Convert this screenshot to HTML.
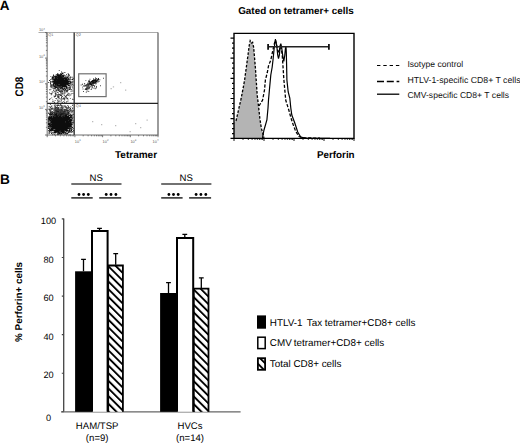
<!DOCTYPE html>
<html><head><meta charset="utf-8"><style>
html,body{margin:0;padding:0;background:#fff;width:520px;height:443px;overflow:hidden;font-family:"Liberation Sans",sans-serif;}
svg{display:block;text-rendering:geometricPrecision;}
.t{}
</style></head><body>
<svg width="520" height="443" viewBox="0 0 520 443"><text x="-0.3" y="9.6" font-family="Liberation Sans, sans-serif" font-weight="bold" font-size="13.5">A</text>
<defs><filter id="bl" x="-5%" y="-5%" width="110%" height="110%"><feGaussianBlur stdDeviation="0.35"/></filter></defs>
<g filter="url(#bl)"><path d="M60.8 83.1h.9v.9h-.9zM59.5 78.8h.9v.9h-.9zM58.7 78.4h.9v.9h-.9zM61.1 86.8h.9v.9h-.9zM58.5 79.8h.9v.9h-.9zM63.1 83.3h.9v.9h-.9zM61.3 78.7h.9v.9h-.9zM60.7 84.5h.9v.9h-.9zM54.5 80.4h.9v.9h-.9zM51.9 77.4h.9v.9h-.9zM52.1 81.2h.9v.9h-.9zM54.8 83.0h.9v.9h-.9zM61.5 81.3h.9v.9h-.9zM49.0 80.1h.9v.9h-.9zM60.6 82.4h.9v.9h-.9zM53.6 80.3h.9v.9h-.9zM56.2 79.1h.9v.9h-.9zM65.8 79.1h.9v.9h-.9zM60.6 85.2h.9v.9h-.9zM58.1 81.6h.9v.9h-.9zM61.3 82.2h.9v.9h-.9zM55.0 82.3h.9v.9h-.9zM67.2 76.4h.9v.9h-.9zM64.8 82.4h.9v.9h-.9zM57.8 89.2h.9v.9h-.9zM64.4 77.7h.9v.9h-.9zM61.2 84.1h.9v.9h-.9zM59.9 84.5h.9v.9h-.9zM60.5 84.4h.9v.9h-.9zM67.6 79.6h.9v.9h-.9zM61.8 80.3h.9v.9h-.9zM61.4 77.7h.9v.9h-.9zM58.1 81.3h.9v.9h-.9zM65.0 86.1h.9v.9h-.9zM54.6 79.1h.9v.9h-.9zM63.8 74.8h.9v.9h-.9zM58.6 81.6h.9v.9h-.9zM66.7 84.5h.9v.9h-.9zM59.3 80.7h.9v.9h-.9zM59.6 87.5h.9v.9h-.9zM58.8 80.9h.9v.9h-.9zM62.5 81.6h.9v.9h-.9zM59.9 78.0h.9v.9h-.9zM60.7 80.4h.9v.9h-.9zM66.3 84.4h.9v.9h-.9zM60.7 84.4h.9v.9h-.9zM59.2 85.8h.9v.9h-.9zM60.8 84.1h.9v.9h-.9zM54.7 83.2h.9v.9h-.9zM52.9 74.7h.9v.9h-.9zM59.4 78.8h.9v.9h-.9zM61.6 90.1h.9v.9h-.9zM56.9 79.8h.9v.9h-.9zM61.8 83.8h.9v.9h-.9zM60.0 81.3h.9v.9h-.9zM64.1 83.9h.9v.9h-.9zM55.9 81.7h.9v.9h-.9zM61.0 78.2h.9v.9h-.9zM62.0 78.9h.9v.9h-.9zM65.4 82.7h.9v.9h-.9zM61.2 79.9h.9v.9h-.9zM60.2 74.8h.9v.9h-.9zM55.5 83.3h.9v.9h-.9zM50.8 85.0h.9v.9h-.9zM52.6 84.7h.9v.9h-.9zM56.8 84.8h.9v.9h-.9zM61.4 76.5h.9v.9h-.9zM66.7 87.2h.9v.9h-.9zM60.5 81.0h.9v.9h-.9zM60.0 78.5h.9v.9h-.9zM66.0 80.0h.9v.9h-.9zM60.6 79.1h.9v.9h-.9zM57.9 77.4h.9v.9h-.9zM66.7 81.4h.9v.9h-.9zM65.3 82.0h.9v.9h-.9zM57.5 80.8h.9v.9h-.9zM58.2 82.0h.9v.9h-.9zM59.0 80.9h.9v.9h-.9zM54.3 79.1h.9v.9h-.9zM68.6 79.6h.9v.9h-.9zM55.8 83.2h.9v.9h-.9zM67.4 76.8h.9v.9h-.9zM59.8 79.7h.9v.9h-.9zM52.5 84.6h.9v.9h-.9zM60.7 82.3h.9v.9h-.9zM57.3 83.6h.9v.9h-.9zM58.3 81.5h.9v.9h-.9zM55.6 77.6h.9v.9h-.9zM67.1 80.2h.9v.9h-.9zM62.2 81.9h.9v.9h-.9zM58.7 80.2h.9v.9h-.9zM63.8 80.9h.9v.9h-.9zM60.1 82.1h.9v.9h-.9zM66.3 84.4h.9v.9h-.9zM62.6 80.0h.9v.9h-.9zM54.3 85.4h.9v.9h-.9zM65.3 81.5h.9v.9h-.9zM63.3 84.8h.9v.9h-.9zM64.7 85.3h.9v.9h-.9zM58.7 87.5h.9v.9h-.9zM54.9 85.1h.9v.9h-.9zM63.1 85.1h.9v.9h-.9zM69.6 87.3h.9v.9h-.9zM55.4 75.9h.9v.9h-.9zM64.6 78.3h.9v.9h-.9zM60.7 85.0h.9v.9h-.9zM53.1 74.4h.9v.9h-.9zM62.0 82.2h.9v.9h-.9zM59.6 82.1h.9v.9h-.9zM56.8 76.6h.9v.9h-.9zM60.0 78.5h.9v.9h-.9zM53.1 83.8h.9v.9h-.9zM60.5 83.5h.9v.9h-.9zM56.2 79.6h.9v.9h-.9zM56.1 78.8h.9v.9h-.9zM61.7 79.2h.9v.9h-.9zM62.5 83.2h.9v.9h-.9zM70.3 77.0h.9v.9h-.9zM65.0 81.7h.9v.9h-.9zM60.7 76.8h.9v.9h-.9zM58.6 84.7h.9v.9h-.9zM60.4 82.3h.9v.9h-.9zM59.4 86.2h.9v.9h-.9zM60.7 74.1h.9v.9h-.9zM57.5 74.9h.9v.9h-.9zM67.1 82.2h.9v.9h-.9zM55.3 78.6h.9v.9h-.9zM66.1 82.6h.9v.9h-.9zM61.0 81.8h.9v.9h-.9zM61.0 84.9h.9v.9h-.9zM63.4 82.8h.9v.9h-.9zM55.9 83.8h.9v.9h-.9zM57.6 85.9h.9v.9h-.9zM54.8 81.5h.9v.9h-.9zM60.8 77.2h.9v.9h-.9zM68.9 87.3h.9v.9h-.9zM58.6 84.8h.9v.9h-.9zM62.6 72.6h.9v.9h-.9zM62.0 81.8h.9v.9h-.9zM61.2 78.1h.9v.9h-.9zM59.5 81.4h.9v.9h-.9zM66.4 83.2h.9v.9h-.9zM60.8 87.5h.9v.9h-.9zM58.2 80.6h.9v.9h-.9zM52.3 87.6h.9v.9h-.9zM65.3 85.3h.9v.9h-.9zM63.9 82.4h.9v.9h-.9zM61.8 81.1h.9v.9h-.9zM59.8 82.2h.9v.9h-.9zM67.9 84.0h.9v.9h-.9zM60.5 79.9h.9v.9h-.9zM57.8 87.8h.9v.9h-.9zM63.2 82.2h.9v.9h-.9zM59.2 78.0h.9v.9h-.9zM60.5 85.1h.9v.9h-.9zM59.0 81.2h.9v.9h-.9zM59.8 82.4h.9v.9h-.9zM53.3 81.2h.9v.9h-.9zM56.8 85.2h.9v.9h-.9zM57.2 84.1h.9v.9h-.9zM68.0 80.9h.9v.9h-.9zM58.0 82.7h.9v.9h-.9zM60.8 78.4h.9v.9h-.9zM63.0 89.3h.9v.9h-.9zM59.6 81.3h.9v.9h-.9zM55.9 83.1h.9v.9h-.9zM54.9 78.0h.9v.9h-.9zM66.8 78.7h.9v.9h-.9zM65.9 87.5h.9v.9h-.9zM62.0 84.0h.9v.9h-.9zM70.0 81.3h.9v.9h-.9zM58.0 77.1h.9v.9h-.9zM61.0 87.3h.9v.9h-.9zM65.3 78.6h.9v.9h-.9zM56.8 80.2h.9v.9h-.9zM62.2 81.3h.9v.9h-.9zM61.8 83.1h.9v.9h-.9zM59.4 81.9h.9v.9h-.9zM61.8 81.7h.9v.9h-.9zM63.2 88.7h.9v.9h-.9zM63.6 82.2h.9v.9h-.9zM52.9 83.4h.9v.9h-.9zM51.7 76.9h.9v.9h-.9zM64.8 84.5h.9v.9h-.9zM60.1 75.8h.9v.9h-.9zM59.1 79.6h.9v.9h-.9zM63.8 90.1h.9v.9h-.9zM61.8 79.2h.9v.9h-.9zM55.3 81.8h.9v.9h-.9zM60.0 77.9h.9v.9h-.9zM61.3 77.9h.9v.9h-.9zM66.0 85.8h.9v.9h-.9zM65.9 80.3h.9v.9h-.9zM63.2 81.5h.9v.9h-.9zM59.0 80.8h.9v.9h-.9zM54.7 76.8h.9v.9h-.9zM64.5 81.3h.9v.9h-.9zM61.8 85.6h.9v.9h-.9zM52.7 79.2h.9v.9h-.9zM61.6 83.4h.9v.9h-.9zM59.0 85.7h.9v.9h-.9zM61.8 77.6h.9v.9h-.9zM56.4 84.9h.9v.9h-.9zM63.0 75.2h.9v.9h-.9zM67.1 84.2h.9v.9h-.9zM67.1 80.6h.9v.9h-.9zM59.4 77.9h.9v.9h-.9zM72.7 81.4h.9v.9h-.9zM68.3 79.7h.9v.9h-.9zM61.6 76.0h.9v.9h-.9zM59.0 85.5h.9v.9h-.9zM54.9 85.9h.9v.9h-.9zM62.4 78.2h.9v.9h-.9zM58.4 80.3h.9v.9h-.9zM60.6 80.1h.9v.9h-.9zM56.9 80.9h.9v.9h-.9zM56.0 77.4h.9v.9h-.9zM60.6 85.2h.9v.9h-.9zM53.6 82.0h.9v.9h-.9zM57.7 78.5h.9v.9h-.9zM64.8 80.1h.9v.9h-.9zM67.8 79.2h.9v.9h-.9zM62.6 81.2h.9v.9h-.9zM57.3 84.1h.9v.9h-.9zM60.1 84.2h.9v.9h-.9zM60.6 78.1h.9v.9h-.9zM60.3 82.2h.9v.9h-.9zM65.3 78.7h.9v.9h-.9zM60.6 75.8h.9v.9h-.9zM63.9 78.1h.9v.9h-.9zM52.3 81.8h.9v.9h-.9zM66.0 76.5h.9v.9h-.9zM55.7 79.3h.9v.9h-.9zM55.5 83.4h.9v.9h-.9zM57.0 79.4h.9v.9h-.9zM63.5 79.3h.9v.9h-.9zM62.8 78.5h.9v.9h-.9zM55.1 75.4h.9v.9h-.9zM69.5 80.8h.9v.9h-.9zM61.9 81.9h.9v.9h-.9zM61.6 82.2h.9v.9h-.9zM69.8 78.3h.9v.9h-.9zM53.5 78.4h.9v.9h-.9zM54.5 84.7h.9v.9h-.9zM64.7 78.5h.9v.9h-.9zM54.3 80.7h.9v.9h-.9zM63.3 78.1h.9v.9h-.9zM65.7 78.1h.9v.9h-.9zM59.5 76.6h.9v.9h-.9zM56.2 87.0h.9v.9h-.9zM64.7 80.6h.9v.9h-.9zM56.7 75.2h.9v.9h-.9zM58.9 81.9h.9v.9h-.9zM60.4 81.7h.9v.9h-.9zM55.5 81.8h.9v.9h-.9zM60.6 86.6h.9v.9h-.9zM69.6 81.5h.9v.9h-.9zM57.2 81.8h.9v.9h-.9zM57.9 79.3h.9v.9h-.9zM60.5 78.2h.9v.9h-.9zM63.6 81.6h.9v.9h-.9zM62.0 81.3h.9v.9h-.9zM57.4 78.6h.9v.9h-.9zM59.7 80.0h.9v.9h-.9zM61.9 82.0h.9v.9h-.9zM54.4 82.2h.9v.9h-.9zM54.5 79.8h.9v.9h-.9zM59.4 74.5h.9v.9h-.9zM61.2 82.5h.9v.9h-.9zM60.1 80.5h.9v.9h-.9zM59.0 78.5h.9v.9h-.9zM59.5 80.0h.9v.9h-.9zM61.2 77.7h.9v.9h-.9zM61.9 82.5h.9v.9h-.9zM60.1 80.4h.9v.9h-.9zM63.4 76.0h.9v.9h-.9zM63.0 82.9h.9v.9h-.9zM62.1 83.4h.9v.9h-.9zM57.7 81.1h.9v.9h-.9zM63.8 83.6h.9v.9h-.9zM61.8 76.5h.9v.9h-.9zM63.3 86.2h.9v.9h-.9zM65.5 82.8h.9v.9h-.9zM53.5 85.4h.9v.9h-.9zM60.1 72.9h.9v.9h-.9zM62.6 76.6h.9v.9h-.9zM54.7 79.7h.9v.9h-.9zM66.8 80.7h.9v.9h-.9zM62.1 88.3h.9v.9h-.9zM68.3 81.6h.9v.9h-.9zM59.7 77.5h.9v.9h-.9zM57.5 83.5h.9v.9h-.9zM62.7 82.4h.9v.9h-.9zM65.5 79.2h.9v.9h-.9zM60.5 84.6h.9v.9h-.9zM63.5 85.9h.9v.9h-.9zM62.7 80.9h.9v.9h-.9zM62.5 78.4h.9v.9h-.9zM53.1 84.1h.9v.9h-.9zM60.5 83.1h.9v.9h-.9zM52.8 80.7h.9v.9h-.9zM58.0 78.9h.9v.9h-.9zM50.2 80.8h.9v.9h-.9zM65.0 83.4h.9v.9h-.9zM58.0 81.9h.9v.9h-.9zM64.4 72.1h.9v.9h-.9zM60.2 84.0h.9v.9h-.9zM64.0 88.1h.9v.9h-.9zM66.1 83.1h.9v.9h-.9zM62.2 84.8h.9v.9h-.9zM58.3 81.9h.9v.9h-.9zM65.1 89.0h.9v.9h-.9zM60.1 81.8h.9v.9h-.9zM61.7 86.8h.9v.9h-.9zM60.7 87.3h.9v.9h-.9zM56.3 81.3h.9v.9h-.9zM59.9 84.8h.9v.9h-.9zM65.7 76.6h.9v.9h-.9zM56.5 83.2h.9v.9h-.9zM57.7 76.5h.9v.9h-.9zM65.7 83.8h.9v.9h-.9zM63.1 80.3h.9v.9h-.9zM65.6 81.1h.9v.9h-.9zM66.0 78.7h.9v.9h-.9zM56.8 82.7h.9v.9h-.9zM57.5 84.4h.9v.9h-.9zM62.0 78.7h.9v.9h-.9zM61.1 80.7h.9v.9h-.9zM65.1 79.7h.9v.9h-.9zM58.7 86.4h.9v.9h-.9zM71.3 89.2h.9v.9h-.9zM61.1 82.8h.9v.9h-.9zM68.0 81.6h.9v.9h-.9zM56.2 82.4h.9v.9h-.9zM62.9 79.0h.9v.9h-.9zM53.1 76.8h.9v.9h-.9zM63.9 79.3h.9v.9h-.9zM60.1 82.8h.9v.9h-.9zM63.7 80.8h.9v.9h-.9zM63.1 78.8h.9v.9h-.9zM59.1 78.3h.9v.9h-.9zM66.1 81.9h.9v.9h-.9zM57.3 80.7h.9v.9h-.9zM59.8 84.5h.9v.9h-.9zM53.3 78.3h.9v.9h-.9zM59.0 91.1h.9v.9h-.9zM65.3 81.6h.9v.9h-.9zM64.1 89.4h.9v.9h-.9zM59.7 80.7h.9v.9h-.9zM66.5 83.8h.9v.9h-.9zM64.0 80.2h.9v.9h-.9zM69.8 88.2h.9v.9h-.9zM63.5 84.5h.9v.9h-.9zM51.3 84.3h.9v.9h-.9zM59.9 83.6h.9v.9h-.9zM64.0 80.8h.9v.9h-.9zM52.9 83.3h.9v.9h-.9zM57.3 80.8h.9v.9h-.9zM58.0 80.8h.9v.9h-.9zM49.9 86.4h.9v.9h-.9zM62.0 86.0h.9v.9h-.9zM70.1 82.1h.9v.9h-.9zM52.3 78.8h.9v.9h-.9zM55.1 80.2h.9v.9h-.9zM61.2 74.8h.9v.9h-.9zM62.4 76.6h.9v.9h-.9zM62.2 81.6h.9v.9h-.9zM59.3 81.7h.9v.9h-.9zM58.3 79.8h.9v.9h-.9zM52.9 81.9h.9v.9h-.9zM69.5 89.1h.9v.9h-.9zM67.0 84.5h.9v.9h-.9zM57.6 87.2h.9v.9h-.9zM60.5 81.8h.9v.9h-.9zM59.4 82.3h.9v.9h-.9zM58.8 81.7h.9v.9h-.9zM55.7 80.7h.9v.9h-.9zM71.5 81.7h.9v.9h-.9zM59.7 83.9h.9v.9h-.9zM64.1 78.0h.9v.9h-.9zM59.8 85.3h.9v.9h-.9zM62.1 82.4h.9v.9h-.9zM68.1 79.6h.9v.9h-.9zM61.2 80.1h.9v.9h-.9zM67.8 75.0h.9v.9h-.9zM57.7 80.1h.9v.9h-.9zM63.9 84.2h.9v.9h-.9zM67.4 76.3h.9v.9h-.9zM64.3 80.9h.9v.9h-.9zM57.7 83.9h.9v.9h-.9zM56.5 74.5h.9v.9h-.9zM59.1 76.6h.9v.9h-.9zM57.8 83.3h.9v.9h-.9zM62.3 87.7h.9v.9h-.9zM59.9 76.5h.9v.9h-.9zM57.2 78.7h.9v.9h-.9zM55.1 83.6h.9v.9h-.9zM57.8 74.9h.9v.9h-.9zM64.1 81.6h.9v.9h-.9zM62.5 82.4h.9v.9h-.9zM63.8 82.1h.9v.9h-.9zM66.6 83.5h.9v.9h-.9zM62.6 83.5h.9v.9h-.9zM54.0 81.4h.9v.9h-.9zM59.6 82.7h.9v.9h-.9zM54.4 87.9h.9v.9h-.9zM61.3 77.6h.9v.9h-.9zM52.8 81.0h.9v.9h-.9zM60.4 79.4h.9v.9h-.9zM61.2 79.7h.9v.9h-.9zM63.4 79.4h.9v.9h-.9zM60.6 85.5h.9v.9h-.9zM72.9 78.4h.9v.9h-.9zM58.6 79.0h.9v.9h-.9zM64.5 77.9h.9v.9h-.9zM58.5 81.9h.9v.9h-.9zM56.2 78.6h.9v.9h-.9zM58.6 74.4h.9v.9h-.9zM54.0 80.5h.9v.9h-.9zM61.5 81.3h.9v.9h-.9zM52.5 80.3h.9v.9h-.9zM64.6 84.0h.9v.9h-.9zM60.4 78.8h.9v.9h-.9zM63.8 79.9h.9v.9h-.9zM55.3 79.1h.9v.9h-.9zM67.6 82.8h.9v.9h-.9zM66.2 80.3h.9v.9h-.9zM65.2 79.8h.9v.9h-.9zM60.1 91.0h.9v.9h-.9zM64.4 80.2h.9v.9h-.9zM60.4 83.2h.9v.9h-.9zM66.5 80.2h.9v.9h-.9zM52.6 81.0h.9v.9h-.9zM60.9 82.4h.9v.9h-.9zM67.0 83.1h.9v.9h-.9zM64.6 78.0h.9v.9h-.9zM64.9 89.5h.9v.9h-.9zM64.4 82.9h.9v.9h-.9zM61.5 88.4h.9v.9h-.9zM56.4 81.6h.9v.9h-.9zM63.0 84.7h.9v.9h-.9zM58.7 83.1h.9v.9h-.9zM59.5 82.4h.9v.9h-.9zM60.2 77.9h.9v.9h-.9zM60.7 85.2h.9v.9h-.9zM56.3 81.1h.9v.9h-.9zM63.9 78.1h.9v.9h-.9zM61.7 78.2h.9v.9h-.9zM66.1 90.3h.9v.9h-.9zM70.3 81.2h.9v.9h-.9zM64.3 82.4h.9v.9h-.9zM61.3 87.6h.9v.9h-.9zM54.6 85.8h.9v.9h-.9zM60.6 87.1h.9v.9h-.9zM61.7 79.6h.9v.9h-.9zM62.1 84.6h.9v.9h-.9zM61.0 83.8h.9v.9h-.9zM58.3 74.3h.9v.9h-.9zM65.0 84.5h.9v.9h-.9zM61.5 82.2h.9v.9h-.9zM65.7 80.4h.9v.9h-.9zM57.5 81.3h.9v.9h-.9zM66.4 77.0h.9v.9h-.9zM66.4 79.7h.9v.9h-.9zM55.6 86.5h.9v.9h-.9zM60.3 77.3h.9v.9h-.9zM59.1 85.4h.9v.9h-.9zM66.4 80.5h.9v.9h-.9zM62.7 84.6h.9v.9h-.9zM57.8 83.3h.9v.9h-.9zM60.7 80.1h.9v.9h-.9zM58.5 82.2h.9v.9h-.9zM60.9 80.0h.9v.9h-.9zM58.8 86.0h.9v.9h-.9zM61.8 85.2h.9v.9h-.9zM66.4 84.1h.9v.9h-.9zM71.5 79.0h.9v.9h-.9zM64.6 80.9h.9v.9h-.9zM69.5 88.1h.9v.9h-.9zM51.6 78.5h.9v.9h-.9zM63.9 84.8h.9v.9h-.9zM64.3 81.7h.9v.9h-.9zM62.9 84.4h.9v.9h-.9zM60.4 85.7h.9v.9h-.9zM50.2 84.3h.9v.9h-.9zM55.9 85.5h.9v.9h-.9zM59.7 78.8h.9v.9h-.9zM62.6 78.7h.9v.9h-.9zM56.5 76.4h.9v.9h-.9zM60.7 83.8h.9v.9h-.9zM65.6 81.5h.9v.9h-.9zM65.7 82.1h.9v.9h-.9zM60.4 84.1h.9v.9h-.9zM65.8 80.8h.9v.9h-.9zM59.7 81.4h.9v.9h-.9zM61.2 78.8h.9v.9h-.9zM65.6 80.6h.9v.9h-.9zM63.0 79.0h.9v.9h-.9zM62.5 83.4h.9v.9h-.9zM58.8 89.3h.9v.9h-.9zM62.5 88.4h.9v.9h-.9zM65.3 79.6h.9v.9h-.9zM59.0 83.6h.9v.9h-.9zM61.1 82.2h.9v.9h-.9zM59.5 75.5h.9v.9h-.9zM59.7 74.0h.9v.9h-.9zM62.5 79.4h.9v.9h-.9zM57.4 81.2h.9v.9h-.9zM62.1 76.8h.9v.9h-.9zM52.6 78.2h.9v.9h-.9zM51.2 78.5h.9v.9h-.9zM68.3 78.2h.9v.9h-.9zM63.9 77.1h.9v.9h-.9zM62.2 80.8h.9v.9h-.9zM60.5 84.0h.9v.9h-.9zM69.1 82.7h.9v.9h-.9zM61.4 78.5h.9v.9h-.9zM63.5 81.1h.9v.9h-.9zM64.7 81.8h.9v.9h-.9zM69.0 74.9h.9v.9h-.9zM59.4 85.2h.9v.9h-.9zM59.2 79.1h.9v.9h-.9zM59.6 77.0h.9v.9h-.9zM61.4 90.8h.9v.9h-.9zM66.2 78.0h.9v.9h-.9zM56.7 80.5h.9v.9h-.9zM65.5 79.0h.9v.9h-.9zM57.6 85.2h.9v.9h-.9zM64.9 80.7h.9v.9h-.9zM55.5 76.4h.9v.9h-.9zM57.5 74.0h.9v.9h-.9zM64.3 79.7h.9v.9h-.9zM63.1 88.7h.9v.9h-.9zM66.3 77.9h.9v.9h-.9zM64.9 86.2h.9v.9h-.9zM57.3 78.6h.9v.9h-.9zM60.3 76.2h.9v.9h-.9zM67.7 73.3h.9v.9h-.9zM55.6 81.0h.9v.9h-.9zM59.7 82.6h.9v.9h-.9zM62.1 81.2h.9v.9h-.9zM66.1 74.3h.9v.9h-.9zM60.8 79.4h.9v.9h-.9zM61.4 82.8h.9v.9h-.9zM56.5 79.7h.9v.9h-.9zM64.5 83.3h.9v.9h-.9zM57.6 89.3h.9v.9h-.9zM71.7 76.7h.9v.9h-.9zM62.2 91.0h.9v.9h-.9zM64.5 82.8h.9v.9h-.9zM59.8 80.1h.9v.9h-.9zM59.8 80.0h.9v.9h-.9zM64.3 80.6h.9v.9h-.9zM58.7 77.7h.9v.9h-.9zM60.6 78.8h.9v.9h-.9zM60.0 85.8h.9v.9h-.9zM62.5 83.8h.9v.9h-.9zM62.5 82.2h.9v.9h-.9zM60.2 80.9h.9v.9h-.9zM64.4 78.1h.9v.9h-.9zM67.1 82.1h.9v.9h-.9zM57.3 80.2h.9v.9h-.9zM57.6 82.6h.9v.9h-.9zM57.4 86.1h.9v.9h-.9zM57.1 73.8h.9v.9h-.9zM57.4 74.8h.9v.9h-.9zM60.6 85.8h.9v.9h-.9zM63.8 77.2h.9v.9h-.9zM57.2 88.4h.9v.9h-.9zM62.3 82.0h.9v.9h-.9zM65.8 90.8h.9v.9h-.9zM66.9 82.5h.9v.9h-.9zM62.5 84.2h.9v.9h-.9zM57.9 78.2h.9v.9h-.9zM61.0 78.6h.9v.9h-.9zM60.5 82.3h.9v.9h-.9zM71.8 78.9h.9v.9h-.9zM60.2 81.4h.9v.9h-.9zM62.9 85.8h.9v.9h-.9zM58.5 79.0h.9v.9h-.9zM53.1 78.7h.9v.9h-.9zM63.3 82.2h.9v.9h-.9zM56.0 80.7h.9v.9h-.9zM60.9 83.8h.9v.9h-.9zM58.0 81.1h.9v.9h-.9zM52.3 77.9h.9v.9h-.9zM68.4 74.1h.9v.9h-.9zM59.2 82.8h.9v.9h-.9zM59.0 79.1h.9v.9h-.9zM60.5 82.0h.9v.9h-.9zM60.4 75.2h.9v.9h-.9zM60.1 78.9h.9v.9h-.9zM58.2 82.8h.9v.9h-.9zM63.8 85.2h.9v.9h-.9zM58.5 85.3h.9v.9h-.9zM66.3 86.1h.9v.9h-.9zM67.3 81.5h.9v.9h-.9zM60.0 85.0h.9v.9h-.9zM54.4 82.8h.9v.9h-.9zM58.3 80.7h.9v.9h-.9zM52.6 78.8h.9v.9h-.9zM60.7 85.2h.9v.9h-.9zM65.5 81.7h.9v.9h-.9zM59.9 79.0h.9v.9h-.9zM62.7 81.1h.9v.9h-.9zM63.6 88.3h.9v.9h-.9zM60.6 76.6h.9v.9h-.9zM56.8 76.8h.9v.9h-.9zM55.2 86.7h.9v.9h-.9zM61.9 76.5h.9v.9h-.9zM63.9 86.5h.9v.9h-.9zM59.1 79.6h.9v.9h-.9zM59.2 83.0h.9v.9h-.9zM63.8 86.3h.9v.9h-.9zM66.5 86.3h.9v.9h-.9zM67.2 84.4h.9v.9h-.9zM53.6 81.5h.9v.9h-.9zM62.3 80.6h.9v.9h-.9zM65.1 80.7h.9v.9h-.9zM56.4 87.2h.9v.9h-.9zM63.9 82.8h.9v.9h-.9zM65.2 85.8h.9v.9h-.9zM62.4 73.2h.9v.9h-.9zM57.6 80.4h.9v.9h-.9zM56.2 82.7h.9v.9h-.9zM66.4 80.3h.9v.9h-.9zM55.5 89.3h.9v.9h-.9zM58.7 77.6h.9v.9h-.9zM61.9 83.5h.9v.9h-.9zM57.5 84.8h.9v.9h-.9zM58.5 78.7h.9v.9h-.9zM61.6 84.8h.9v.9h-.9zM57.8 83.2h.9v.9h-.9zM60.4 92.2h.9v.9h-.9zM57.5 87.0h.9v.9h-.9zM60.6 81.5h.9v.9h-.9zM64.2 85.2h.9v.9h-.9zM66.8 83.2h.9v.9h-.9zM58.0 80.1h.9v.9h-.9zM63.2 84.1h.9v.9h-.9zM67.4 83.5h.9v.9h-.9zM65.8 87.5h.9v.9h-.9zM61.6 76.7h.9v.9h-.9zM55.3 76.8h.9v.9h-.9zM68.3 78.9h.9v.9h-.9zM66.6 84.1h.9v.9h-.9zM68.9 85.6h.9v.9h-.9zM60.3 81.3h.9v.9h-.9zM61.2 82.6h.9v.9h-.9zM58.3 81.9h.9v.9h-.9zM68.4 75.9h.9v.9h-.9zM62.0 78.7h.9v.9h-.9zM61.7 85.0h.9v.9h-.9zM60.5 84.8h.9v.9h-.9zM53.3 86.0h.9v.9h-.9zM58.0 84.2h.9v.9h-.9zM61.7 72.7h.9v.9h-.9zM57.2 82.8h.9v.9h-.9zM68.1 83.0h.9v.9h-.9zM62.0 76.9h.9v.9h-.9zM67.5 88.5h.9v.9h-.9zM60.9 81.2h.9v.9h-.9zM53.2 85.2h.9v.9h-.9zM66.7 84.0h.9v.9h-.9zM56.2 86.8h.9v.9h-.9zM55.0 81.2h.9v.9h-.9zM62.1 85.2h.9v.9h-.9zM62.8 83.4h.9v.9h-.9zM57.2 77.4h.9v.9h-.9zM61.1 79.4h.9v.9h-.9zM54.7 77.4h.9v.9h-.9zM58.5 75.3h.9v.9h-.9zM54.5 76.1h.9v.9h-.9zM61.7 83.5h.9v.9h-.9zM70.2 76.6h.9v.9h-.9zM57.6 85.3h.9v.9h-.9zM59.8 80.8h.9v.9h-.9zM68.8 80.8h.9v.9h-.9zM55.4 77.3h.9v.9h-.9zM62.4 83.1h.9v.9h-.9zM54.4 78.5h.9v.9h-.9zM63.3 84.1h.9v.9h-.9zM57.8 84.2h.9v.9h-.9zM63.5 75.6h.9v.9h-.9zM59.3 83.5h.9v.9h-.9zM58.1 74.3h.9v.9h-.9zM59.5 84.7h.9v.9h-.9zM68.2 74.1h.9v.9h-.9zM65.3 86.4h.9v.9h-.9zM65.4 82.5h.9v.9h-.9zM55.3 84.3h.9v.9h-.9zM57.4 72.9h.9v.9h-.9zM69.3 78.7h.9v.9h-.9zM67.7 87.7h.9v.9h-.9zM68.1 81.9h.9v.9h-.9zM55.1 81.4h.9v.9h-.9zM50.4 75.9h.9v.9h-.9zM61.2 78.4h.9v.9h-.9zM60.0 81.6h.9v.9h-.9zM69.9 86.7h.9v.9h-.9zM60.6 86.4h.9v.9h-.9zM57.1 80.8h.9v.9h-.9zM65.1 77.5h.9v.9h-.9zM59.5 77.2h.9v.9h-.9zM61.4 87.9h.9v.9h-.9zM57.3 82.8h.9v.9h-.9zM56.6 77.9h.9v.9h-.9zM55.0 87.2h.9v.9h-.9zM71.9 83.7h.9v.9h-.9zM57.4 84.5h.9v.9h-.9zM59.2 84.9h.9v.9h-.9zM62.2 83.0h.9v.9h-.9zM63.7 79.9h.9v.9h-.9zM58.9 75.8h.9v.9h-.9zM58.7 76.9h.9v.9h-.9zM60.1 78.6h.9v.9h-.9zM61.3 83.6h.9v.9h-.9zM54.1 79.1h.9v.9h-.9zM56.4 84.7h.9v.9h-.9zM68.8 85.1h.9v.9h-.9zM59.2 87.3h.9v.9h-.9zM53.7 87.4h.9v.9h-.9zM56.0 82.6h.9v.9h-.9zM59.8 82.4h.9v.9h-.9zM53.8 79.5h.9v.9h-.9zM63.0 82.8h.9v.9h-.9zM66.4 82.3h.9v.9h-.9zM71.8 79.4h.9v.9h-.9zM62.0 75.1h.9v.9h-.9zM54.9 86.8h.9v.9h-.9zM56.4 83.9h.9v.9h-.9zM60.5 78.2h.9v.9h-.9zM59.2 80.1h.9v.9h-.9zM58.5 84.7h.9v.9h-.9zM63.9 79.9h.9v.9h-.9zM56.5 83.0h.9v.9h-.9zM60.3 85.7h.9v.9h-.9zM60.6 81.4h.9v.9h-.9zM56.8 78.7h.9v.9h-.9zM56.1 80.6h.9v.9h-.9zM58.8 84.7h.9v.9h-.9zM58.9 81.3h.9v.9h-.9zM55.1 87.9h.9v.9h-.9zM63.2 88.4h.9v.9h-.9zM64.5 87.4h.9v.9h-.9zM59.6 84.6h.9v.9h-.9zM66.3 88.1h.9v.9h-.9zM62.8 84.8h.9v.9h-.9zM66.8 79.6h.9v.9h-.9zM62.8 78.8h.9v.9h-.9zM57.6 79.7h.9v.9h-.9zM60.1 82.5h.9v.9h-.9zM63.0 76.8h.9v.9h-.9zM70.3 86.3h.9v.9h-.9zM64.3 80.7h.9v.9h-.9zM60.4 84.0h.9v.9h-.9zM62.8 75.8h.9v.9h-.9zM64.4 92.8h.9v.9h-.9zM51.9 85.7h.9v.9h-.9zM62.6 81.6h.9v.9h-.9zM67.4 77.6h.9v.9h-.9zM61.6 87.4h.9v.9h-.9zM59.9 80.5h.9v.9h-.9zM61.4 80.4h.9v.9h-.9zM68.3 78.6h.9v.9h-.9zM65.0 77.4h.9v.9h-.9zM64.0 81.6h.9v.9h-.9zM48.3 82.0h.9v.9h-.9zM55.6 80.4h.9v.9h-.9zM68.2 77.9h.9v.9h-.9zM55.7 87.3h.9v.9h-.9zM61.4 87.7h.9v.9h-.9zM62.4 78.7h.9v.9h-.9zM60.5 86.6h.9v.9h-.9zM65.3 82.0h.9v.9h-.9zM61.0 81.6h.9v.9h-.9zM58.0 89.1h.9v.9h-.9zM60.8 77.8h.9v.9h-.9zM58.5 84.7h.9v.9h-.9zM63.9 81.5h.9v.9h-.9zM57.6 82.1h.9v.9h-.9zM52.7 77.2h.9v.9h-.9zM64.7 80.2h.9v.9h-.9zM62.6 86.5h.9v.9h-.9zM63.9 82.1h.9v.9h-.9zM71.1 84.5h.9v.9h-.9zM59.1 84.7h.9v.9h-.9zM62.8 78.8h.9v.9h-.9zM61.2 81.4h.9v.9h-.9zM51.3 81.4h.9v.9h-.9zM59.4 80.4h.9v.9h-.9zM52.9 80.7h.9v.9h-.9zM60.6 82.4h.9v.9h-.9zM55.3 84.3h.9v.9h-.9zM54.9 81.2h.9v.9h-.9zM67.1 79.4h.9v.9h-.9zM58.3 86.0h.9v.9h-.9zM58.9 80.9h.9v.9h-.9zM61.9 85.9h.9v.9h-.9zM50.2 78.9h.9v.9h-.9zM55.9 78.0h.9v.9h-.9zM56.7 78.9h.9v.9h-.9zM62.3 78.7h.9v.9h-.9zM61.4 83.5h.9v.9h-.9zM57.3 82.5h.9v.9h-.9zM68.7 83.2h.9v.9h-.9zM57.7 81.8h.9v.9h-.9zM56.4 83.0h.9v.9h-.9zM64.9 79.0h.9v.9h-.9zM59.8 86.1h.9v.9h-.9zM58.4 82.7h.9v.9h-.9zM55.9 79.0h.9v.9h-.9zM58.3 89.8h.9v.9h-.9zM58.9 80.1h.9v.9h-.9zM58.2 81.4h.9v.9h-.9zM63.9 82.7h.9v.9h-.9zM70.5 82.8h.9v.9h-.9zM67.6 83.0h.9v.9h-.9zM63.6 76.8h.9v.9h-.9zM60.2 81.8h.9v.9h-.9zM59.7 74.2h.9v.9h-.9zM64.9 80.6h.9v.9h-.9zM58.7 81.1h.9v.9h-.9zM59.7 83.5h.9v.9h-.9zM54.8 78.6h.9v.9h-.9zM62.2 82.5h.9v.9h-.9zM59.0 79.9h.9v.9h-.9zM56.9 81.8h.9v.9h-.9zM66.3 78.2h.9v.9h-.9zM68.0 85.0h.9v.9h-.9zM58.7 84.8h.9v.9h-.9zM53.9 75.8h.9v.9h-.9zM54.7 80.5h.9v.9h-.9zM59.3 80.1h.9v.9h-.9zM61.3 74.3h.9v.9h-.9zM63.1 76.9h.9v.9h-.9zM57.7 80.5h.9v.9h-.9zM55.4 77.1h.9v.9h-.9zM56.1 82.0h.9v.9h-.9zM63.6 84.0h.9v.9h-.9zM56.1 79.2h.9v.9h-.9zM56.5 83.6h.9v.9h-.9zM51.2 86.5h.9v.9h-.9zM58.5 79.2h.9v.9h-.9zM62.4 85.7h.9v.9h-.9zM62.4 85.8h.9v.9h-.9zM61.4 86.4h.9v.9h-.9zM66.7 81.6h.9v.9h-.9zM67.6 82.6h.9v.9h-.9zM61.2 78.7h.9v.9h-.9zM59.4 84.8h.9v.9h-.9zM54.6 84.3h.9v.9h-.9zM62.4 83.0h.9v.9h-.9zM50.4 81.6h.9v.9h-.9zM63.8 79.3h.9v.9h-.9zM61.2 73.4h.9v.9h-.9zM64.0 79.6h.9v.9h-.9zM64.9 75.4h.9v.9h-.9zM64.1 81.1h.9v.9h-.9zM64.6 78.7h.9v.9h-.9zM57.9 90.1h.9v.9h-.9zM56.9 79.5h.9v.9h-.9zM59.5 78.3h.9v.9h-.9zM66.4 88.2h.9v.9h-.9zM57.5 75.8h.9v.9h-.9zM66.3 86.0h.9v.9h-.9zM64.7 86.2h.9v.9h-.9zM56.7 81.4h.9v.9h-.9zM54.3 76.9h.9v.9h-.9zM65.4 79.6h.9v.9h-.9zM71.5 82.3h.9v.9h-.9zM57.8 84.9h.9v.9h-.9zM69.3 83.8h.9v.9h-.9zM55.1 83.3h.9v.9h-.9zM67.3 80.2h.9v.9h-.9zM57.2 85.7h.9v.9h-.9zM61.5 78.0h.9v.9h-.9zM59.0 79.3h.9v.9h-.9zM62.2 82.4h.9v.9h-.9zM66.2 84.6h.9v.9h-.9zM53.5 83.5h.9v.9h-.9zM65.0 83.6h.9v.9h-.9zM65.6 80.0h.9v.9h-.9zM56.3 85.3h.9v.9h-.9zM55.8 74.2h.9v.9h-.9zM65.6 79.4h.9v.9h-.9zM59.4 77.0h.9v.9h-.9zM54.6 77.8h.9v.9h-.9zM59.1 83.3h.9v.9h-.9zM50.0 84.7h.9v.9h-.9zM55.2 78.2h.9v.9h-.9zM64.9 82.6h.9v.9h-.9zM50.5 93.1h.9v.9h-.9zM54.9 84.4h.9v.9h-.9zM61.8 90.8h.9v.9h-.9zM57.5 88.5h.9v.9h-.9zM55.7 89.2h.9v.9h-.9zM55.5 81.0h.9v.9h-.9zM72.8 84.7h.9v.9h-.9zM61.2 95.3h.9v.9h-.9zM62.8 78.5h.9v.9h-.9zM65.3 76.5h.9v.9h-.9zM67.8 89.6h.9v.9h-.9zM56.8 79.5h.9v.9h-.9zM61.6 83.1h.9v.9h-.9zM54.1 86.1h.9v.9h-.9zM57.9 81.5h.9v.9h-.9zM62.5 76.2h.9v.9h-.9zM64.3 82.0h.9v.9h-.9zM56.3 75.5h.9v.9h-.9zM52.8 85.0h.9v.9h-.9zM54.2 83.4h.9v.9h-.9zM67.4 88.7h.9v.9h-.9zM70.6 81.4h.9v.9h-.9zM53.4 88.6h.9v.9h-.9zM62.5 89.2h.9v.9h-.9zM60.6 89.6h.9v.9h-.9zM66.0 86.9h.9v.9h-.9zM63.8 85.2h.9v.9h-.9zM62.0 84.2h.9v.9h-.9zM66.9 80.2h.9v.9h-.9zM71.8 82.4h.9v.9h-.9zM66.9 82.5h.9v.9h-.9zM58.9 94.2h.9v.9h-.9zM58.5 76.0h.9v.9h-.9zM55.9 81.3h.9v.9h-.9zM66.6 77.5h.9v.9h-.9zM62.8 86.7h.9v.9h-.9zM72.2 79.2h.9v.9h-.9zM64.4 84.7h.9v.9h-.9zM53.9 82.9h.9v.9h-.9zM58.8 70.2h.9v.9h-.9zM64.4 86.0h.9v.9h-.9zM57.6 75.6h.9v.9h-.9zM70.1 84.5h.9v.9h-.9zM67.1 90.8h.9v.9h-.9zM57.1 87.5h.9v.9h-.9zM58.9 82.7h.9v.9h-.9zM59.9 83.0h.9v.9h-.9zM67.7 83.7h.9v.9h-.9zM59.5 81.5h.9v.9h-.9zM62.7 78.1h.9v.9h-.9zM57.2 82.7h.9v.9h-.9zM56.8 82.3h.9v.9h-.9zM56.5 94.0h.9v.9h-.9zM69.1 85.5h.9v.9h-.9zM60.2 95.0h.9v.9h-.9zM62.6 82.5h.9v.9h-.9zM62.5 84.7h.9v.9h-.9zM69.7 82.9h.9v.9h-.9zM65.0 77.5h.9v.9h-.9zM72.3 81.2h.9v.9h-.9zM60.1 88.1h.9v.9h-.9zM68.7 76.9h.9v.9h-.9zM58.2 75.3h.9v.9h-.9zM61.4 82.4h.9v.9h-.9zM58.2 79.2h.9v.9h-.9zM58.0 78.9h.9v.9h-.9zM63.9 91.3h.9v.9h-.9zM57.8 85.7h.9v.9h-.9zM54.3 82.2h.9v.9h-.9zM53.7 86.8h.9v.9h-.9zM61.1 82.1h.9v.9h-.9zM62.9 81.6h.9v.9h-.9zM50.4 86.3h.9v.9h-.9zM62.4 82.2h.9v.9h-.9zM66.9 89.7h.9v.9h-.9zM53.4 78.7h.9v.9h-.9zM70.6 90.8h.9v.9h-.9zM55.7 76.5h.9v.9h-.9zM56.4 80.3h.9v.9h-.9zM50.2 83.2h.9v.9h-.9zM52.2 76.3h.9v.9h-.9zM66.5 79.2h.9v.9h-.9zM60.0 86.5h.9v.9h-.9zM65.8 81.1h.9v.9h-.9zM60.8 78.5h.9v.9h-.9zM71.9 86.6h.9v.9h-.9zM53.3 83.0h.9v.9h-.9zM65.1 85.6h.9v.9h-.9zM72.4 90.5h.9v.9h-.9zM57.0 82.5h.9v.9h-.9zM52.2 84.4h.9v.9h-.9zM61.5 97.9h.9v.9h-.9zM61.1 71.5h.9v.9h-.9zM56.1 83.6h.9v.9h-.9zM52.3 78.2h.9v.9h-.9zM58.1 84.9h.9v.9h-.9zM59.4 78.1h.9v.9h-.9zM65.6 80.0h.9v.9h-.9zM57.3 75.4h.9v.9h-.9zM55.4 86.6h.9v.9h-.9zM50.0 82.6h.9v.9h-.9zM65.2 80.9h.9v.9h-.9zM62.1 76.9h.9v.9h-.9zM69.0 89.1h.9v.9h-.9zM62.0 73.3h.9v.9h-.9zM53.7 88.4h.9v.9h-.9zM71.6 84.6h.9v.9h-.9zM68.6 79.7h.9v.9h-.9zM59.3 83.0h.9v.9h-.9zM63.3 74.6h.9v.9h-.9zM66.6 90.3h.9v.9h-.9zM53.0 75.5h.9v.9h-.9zM62.8 79.4h.9v.9h-.9zM61.5 80.4h.9v.9h-.9zM55.6 83.6h.9v.9h-.9zM53.7 78.8h.9v.9h-.9zM63.0 80.0h.9v.9h-.9zM57.6 92.2h.9v.9h-.9zM66.1 87.4h.9v.9h-.9zM63.9 85.7h.9v.9h-.9zM70.0 82.9h.9v.9h-.9zM72.6 77.8h.9v.9h-.9zM58.8 75.4h.9v.9h-.9zM58.3 85.9h.9v.9h-.9zM69.9 79.4h.9v.9h-.9zM60.5 81.0h.9v.9h-.9zM55.7 76.5h.9v.9h-.9zM60.9 73.5h.9v.9h-.9zM61.2 83.1h.9v.9h-.9zM56.2 77.4h.9v.9h-.9zM51.5 93.3h.9v.9h-.9zM51.8 91.6h.9v.9h-.9zM64.4 81.0h.9v.9h-.9zM62.5 120.9h.9v.9h-.9zM66.8 125.1h.9v.9h-.9zM56.1 126.1h.9v.9h-.9zM56.6 111.6h.9v.9h-.9zM72.6 120.0h.9v.9h-.9zM56.0 124.0h.9v.9h-.9zM50.0 114.1h.9v.9h-.9zM56.7 119.0h.9v.9h-.9zM60.3 128.5h.9v.9h-.9zM56.8 124.9h.9v.9h-.9zM63.6 115.7h.9v.9h-.9zM61.2 116.5h.9v.9h-.9zM66.5 124.6h.9v.9h-.9zM59.9 114.2h.9v.9h-.9zM60.5 117.6h.9v.9h-.9zM64.2 121.3h.9v.9h-.9zM54.7 127.4h.9v.9h-.9zM64.3 118.6h.9v.9h-.9zM67.1 120.3h.9v.9h-.9zM57.9 122.7h.9v.9h-.9zM55.1 119.4h.9v.9h-.9zM58.8 130.9h.9v.9h-.9zM69.2 120.5h.9v.9h-.9zM69.9 121.7h.9v.9h-.9zM62.2 127.1h.9v.9h-.9zM61.3 115.1h.9v.9h-.9zM68.0 119.6h.9v.9h-.9zM66.1 126.7h.9v.9h-.9zM64.8 127.7h.9v.9h-.9zM70.5 121.7h.9v.9h-.9zM65.7 117.7h.9v.9h-.9zM57.6 128.1h.9v.9h-.9zM62.3 114.3h.9v.9h-.9zM62.1 120.9h.9v.9h-.9zM54.6 124.5h.9v.9h-.9zM57.3 112.9h.9v.9h-.9zM52.8 132.3h.9v.9h-.9zM50.3 123.3h.9v.9h-.9zM63.6 125.7h.9v.9h-.9zM52.1 120.1h.9v.9h-.9zM60.7 126.6h.9v.9h-.9zM55.7 115.3h.9v.9h-.9zM66.1 128.4h.9v.9h-.9zM62.1 118.5h.9v.9h-.9zM62.4 122.6h.9v.9h-.9zM65.1 114.8h.9v.9h-.9zM60.5 121.1h.9v.9h-.9zM52.8 123.3h.9v.9h-.9zM60.0 119.6h.9v.9h-.9zM62.3 113.8h.9v.9h-.9zM59.5 124.5h.9v.9h-.9zM61.6 128.2h.9v.9h-.9zM52.2 113.3h.9v.9h-.9zM61.3 124.6h.9v.9h-.9zM54.3 126.7h.9v.9h-.9zM54.5 113.4h.9v.9h-.9zM64.3 125.3h.9v.9h-.9zM71.2 123.6h.9v.9h-.9zM67.5 116.0h.9v.9h-.9zM51.0 130.3h.9v.9h-.9zM69.1 125.0h.9v.9h-.9zM61.2 123.0h.9v.9h-.9zM55.5 130.9h.9v.9h-.9zM64.0 124.9h.9v.9h-.9zM62.2 128.1h.9v.9h-.9zM63.0 126.3h.9v.9h-.9zM52.4 125.0h.9v.9h-.9zM59.0 127.2h.9v.9h-.9zM65.8 125.6h.9v.9h-.9zM49.6 124.9h.9v.9h-.9zM52.3 117.2h.9v.9h-.9zM63.3 120.3h.9v.9h-.9zM64.7 126.2h.9v.9h-.9zM54.2 118.3h.9v.9h-.9zM53.1 118.9h.9v.9h-.9zM52.9 118.2h.9v.9h-.9zM58.5 116.2h.9v.9h-.9zM50.9 114.1h.9v.9h-.9zM62.7 122.3h.9v.9h-.9zM66.3 128.1h.9v.9h-.9zM57.7 125.9h.9v.9h-.9zM67.3 120.8h.9v.9h-.9zM52.5 124.2h.9v.9h-.9zM48.0 117.5h.9v.9h-.9zM64.5 122.4h.9v.9h-.9zM56.7 127.5h.9v.9h-.9zM53.3 123.7h.9v.9h-.9zM56.7 117.1h.9v.9h-.9zM62.7 116.2h.9v.9h-.9zM71.8 118.6h.9v.9h-.9zM72.3 115.7h.9v.9h-.9zM63.6 115.0h.9v.9h-.9zM51.4 122.9h.9v.9h-.9zM64.1 114.6h.9v.9h-.9zM67.3 117.4h.9v.9h-.9zM60.6 124.2h.9v.9h-.9zM63.5 111.6h.9v.9h-.9zM70.0 125.3h.9v.9h-.9zM57.1 116.1h.9v.9h-.9zM49.1 114.1h.9v.9h-.9zM63.2 120.0h.9v.9h-.9zM52.7 118.9h.9v.9h-.9zM69.7 120.1h.9v.9h-.9zM56.1 129.8h.9v.9h-.9zM62.7 122.3h.9v.9h-.9zM56.0 113.0h.9v.9h-.9zM52.4 119.2h.9v.9h-.9zM58.4 124.1h.9v.9h-.9zM63.3 123.3h.9v.9h-.9zM61.2 116.2h.9v.9h-.9zM53.8 118.2h.9v.9h-.9zM58.1 114.8h.9v.9h-.9zM52.8 121.4h.9v.9h-.9zM60.5 118.2h.9v.9h-.9zM62.9 120.7h.9v.9h-.9zM53.4 122.2h.9v.9h-.9zM71.7 118.1h.9v.9h-.9zM67.1 130.0h.9v.9h-.9zM69.2 117.2h.9v.9h-.9zM72.5 122.7h.9v.9h-.9zM58.2 120.7h.9v.9h-.9zM63.6 122.3h.9v.9h-.9zM58.7 129.4h.9v.9h-.9zM55.2 115.9h.9v.9h-.9zM64.8 126.1h.9v.9h-.9zM66.7 115.8h.9v.9h-.9zM66.6 124.8h.9v.9h-.9zM70.9 114.8h.9v.9h-.9zM61.2 120.4h.9v.9h-.9zM49.8 117.9h.9v.9h-.9zM66.9 119.3h.9v.9h-.9zM55.2 127.0h.9v.9h-.9zM66.0 127.7h.9v.9h-.9zM54.8 121.7h.9v.9h-.9zM66.3 118.2h.9v.9h-.9zM55.1 126.8h.9v.9h-.9zM69.6 115.3h.9v.9h-.9zM53.4 121.2h.9v.9h-.9zM63.7 121.2h.9v.9h-.9zM55.4 122.9h.9v.9h-.9zM53.7 121.7h.9v.9h-.9zM64.9 117.2h.9v.9h-.9zM53.5 119.5h.9v.9h-.9zM49.4 117.8h.9v.9h-.9zM55.1 127.1h.9v.9h-.9zM57.1 117.4h.9v.9h-.9zM51.4 115.2h.9v.9h-.9zM59.4 120.8h.9v.9h-.9zM66.9 118.4h.9v.9h-.9zM66.5 123.5h.9v.9h-.9zM59.8 110.4h.9v.9h-.9zM51.7 126.3h.9v.9h-.9zM68.6 123.2h.9v.9h-.9zM64.6 119.6h.9v.9h-.9zM57.5 118.2h.9v.9h-.9zM65.9 124.0h.9v.9h-.9zM58.3 120.1h.9v.9h-.9zM63.3 123.9h.9v.9h-.9zM54.6 132.0h.9v.9h-.9zM61.4 122.1h.9v.9h-.9zM69.1 127.9h.9v.9h-.9zM59.2 125.1h.9v.9h-.9zM53.1 118.3h.9v.9h-.9zM54.6 116.3h.9v.9h-.9zM58.6 123.5h.9v.9h-.9zM63.7 132.3h.9v.9h-.9zM62.1 127.1h.9v.9h-.9zM56.0 126.1h.9v.9h-.9zM60.8 119.3h.9v.9h-.9zM59.2 121.6h.9v.9h-.9zM61.0 124.3h.9v.9h-.9zM56.6 117.7h.9v.9h-.9zM64.5 112.2h.9v.9h-.9zM55.9 131.0h.9v.9h-.9zM64.1 112.4h.9v.9h-.9zM68.9 131.0h.9v.9h-.9zM65.6 120.7h.9v.9h-.9zM62.1 116.8h.9v.9h-.9zM64.9 115.5h.9v.9h-.9zM58.1 127.8h.9v.9h-.9zM52.8 119.9h.9v.9h-.9zM60.8 114.2h.9v.9h-.9zM67.1 124.0h.9v.9h-.9zM50.3 121.7h.9v.9h-.9zM54.9 118.2h.9v.9h-.9zM60.3 117.9h.9v.9h-.9zM65.9 117.9h.9v.9h-.9zM66.0 121.7h.9v.9h-.9zM65.2 118.9h.9v.9h-.9zM56.6 115.3h.9v.9h-.9zM63.4 127.4h.9v.9h-.9zM61.4 120.8h.9v.9h-.9zM62.2 121.8h.9v.9h-.9zM69.0 127.5h.9v.9h-.9zM54.5 118.0h.9v.9h-.9zM68.4 123.8h.9v.9h-.9zM58.3 128.9h.9v.9h-.9zM57.4 120.4h.9v.9h-.9zM56.9 110.6h.9v.9h-.9zM65.2 115.0h.9v.9h-.9zM56.2 117.7h.9v.9h-.9zM64.4 121.6h.9v.9h-.9zM59.9 112.3h.9v.9h-.9zM59.2 113.4h.9v.9h-.9zM61.7 124.1h.9v.9h-.9zM59.7 133.9h.9v.9h-.9zM63.1 125.5h.9v.9h-.9zM60.7 120.9h.9v.9h-.9zM65.9 128.4h.9v.9h-.9zM51.6 128.1h.9v.9h-.9zM63.0 127.6h.9v.9h-.9zM62.7 114.8h.9v.9h-.9zM52.4 132.6h.9v.9h-.9zM61.4 113.8h.9v.9h-.9zM62.0 119.9h.9v.9h-.9zM48.2 108.7h.9v.9h-.9zM49.7 123.6h.9v.9h-.9zM59.5 120.6h.9v.9h-.9zM61.6 125.5h.9v.9h-.9zM54.6 114.8h.9v.9h-.9zM56.4 121.3h.9v.9h-.9zM58.1 113.6h.9v.9h-.9zM56.8 133.7h.9v.9h-.9zM53.2 112.2h.9v.9h-.9zM61.5 125.5h.9v.9h-.9zM62.7 115.5h.9v.9h-.9zM66.1 117.4h.9v.9h-.9zM52.7 118.5h.9v.9h-.9zM59.1 126.1h.9v.9h-.9zM63.7 121.9h.9v.9h-.9zM65.7 122.5h.9v.9h-.9zM65.4 113.9h.9v.9h-.9zM49.9 126.5h.9v.9h-.9zM51.0 120.3h.9v.9h-.9zM59.2 119.2h.9v.9h-.9zM56.9 130.1h.9v.9h-.9zM59.7 126.2h.9v.9h-.9zM71.3 115.1h.9v.9h-.9zM60.4 120.9h.9v.9h-.9zM63.3 122.9h.9v.9h-.9zM64.0 119.6h.9v.9h-.9zM60.1 118.1h.9v.9h-.9zM55.6 121.2h.9v.9h-.9zM58.9 115.2h.9v.9h-.9zM69.7 121.2h.9v.9h-.9zM51.1 128.4h.9v.9h-.9zM55.1 124.9h.9v.9h-.9zM59.7 123.5h.9v.9h-.9zM60.9 118.7h.9v.9h-.9zM60.1 133.8h.9v.9h-.9zM62.5 115.9h.9v.9h-.9zM57.5 134.1h.9v.9h-.9zM63.2 122.4h.9v.9h-.9zM62.8 125.7h.9v.9h-.9zM67.2 124.5h.9v.9h-.9zM60.7 123.0h.9v.9h-.9zM68.3 126.7h.9v.9h-.9zM53.5 118.3h.9v.9h-.9zM61.9 118.4h.9v.9h-.9zM57.4 116.5h.9v.9h-.9zM58.2 124.5h.9v.9h-.9zM66.1 122.1h.9v.9h-.9zM72.9 121.6h.9v.9h-.9zM62.9 119.1h.9v.9h-.9zM60.9 133.2h.9v.9h-.9zM51.1 133.1h.9v.9h-.9zM58.2 126.2h.9v.9h-.9zM57.6 126.0h.9v.9h-.9zM60.4 115.4h.9v.9h-.9zM65.8 126.0h.9v.9h-.9zM63.6 127.9h.9v.9h-.9zM66.7 121.9h.9v.9h-.9zM51.2 114.0h.9v.9h-.9zM68.3 126.1h.9v.9h-.9zM60.4 119.5h.9v.9h-.9zM60.0 122.1h.9v.9h-.9zM57.7 117.9h.9v.9h-.9zM56.0 114.4h.9v.9h-.9zM55.2 126.2h.9v.9h-.9zM64.6 120.7h.9v.9h-.9zM60.1 120.2h.9v.9h-.9zM52.8 129.5h.9v.9h-.9zM55.0 121.2h.9v.9h-.9zM65.4 120.6h.9v.9h-.9zM51.1 116.5h.9v.9h-.9zM60.4 124.0h.9v.9h-.9zM59.2 127.8h.9v.9h-.9zM66.1 123.9h.9v.9h-.9zM60.0 120.5h.9v.9h-.9zM63.3 127.3h.9v.9h-.9zM60.2 124.6h.9v.9h-.9zM57.8 113.8h.9v.9h-.9zM53.5 126.4h.9v.9h-.9zM62.6 131.2h.9v.9h-.9zM60.2 127.0h.9v.9h-.9zM68.1 127.8h.9v.9h-.9zM56.0 120.9h.9v.9h-.9zM60.6 116.3h.9v.9h-.9zM62.8 127.9h.9v.9h-.9zM56.8 133.4h.9v.9h-.9zM58.0 120.8h.9v.9h-.9zM58.3 117.9h.9v.9h-.9zM62.4 122.1h.9v.9h-.9zM70.3 125.5h.9v.9h-.9zM63.2 120.7h.9v.9h-.9zM50.9 121.5h.9v.9h-.9zM54.4 127.5h.9v.9h-.9zM59.6 131.7h.9v.9h-.9zM64.4 126.8h.9v.9h-.9zM61.3 123.2h.9v.9h-.9zM63.9 127.4h.9v.9h-.9zM55.3 124.9h.9v.9h-.9zM58.2 118.0h.9v.9h-.9zM50.7 128.9h.9v.9h-.9zM60.2 123.7h.9v.9h-.9zM54.2 128.1h.9v.9h-.9zM63.7 124.3h.9v.9h-.9zM62.8 121.9h.9v.9h-.9zM69.8 125.6h.9v.9h-.9zM62.0 129.2h.9v.9h-.9zM65.5 124.7h.9v.9h-.9zM61.9 132.2h.9v.9h-.9zM63.0 121.5h.9v.9h-.9zM54.4 120.0h.9v.9h-.9zM53.2 122.6h.9v.9h-.9zM61.4 110.1h.9v.9h-.9zM59.9 125.8h.9v.9h-.9zM60.9 116.5h.9v.9h-.9zM67.8 118.0h.9v.9h-.9zM52.1 115.7h.9v.9h-.9zM59.7 127.7h.9v.9h-.9zM67.2 123.2h.9v.9h-.9zM52.3 118.2h.9v.9h-.9zM54.2 121.0h.9v.9h-.9zM48.6 122.7h.9v.9h-.9zM63.9 121.1h.9v.9h-.9zM62.7 116.6h.9v.9h-.9zM50.6 118.3h.9v.9h-.9zM67.1 128.0h.9v.9h-.9zM56.9 129.0h.9v.9h-.9zM57.8 130.8h.9v.9h-.9zM62.8 119.4h.9v.9h-.9zM64.8 117.5h.9v.9h-.9zM53.9 113.6h.9v.9h-.9zM61.4 121.7h.9v.9h-.9zM59.3 119.6h.9v.9h-.9zM68.9 119.5h.9v.9h-.9zM55.2 129.2h.9v.9h-.9zM68.8 124.0h.9v.9h-.9zM48.8 118.5h.9v.9h-.9zM63.7 122.1h.9v.9h-.9zM69.6 114.1h.9v.9h-.9zM64.1 118.4h.9v.9h-.9zM68.1 121.6h.9v.9h-.9zM66.3 118.2h.9v.9h-.9zM50.9 115.6h.9v.9h-.9zM56.0 116.1h.9v.9h-.9zM67.4 129.8h.9v.9h-.9zM61.5 116.0h.9v.9h-.9zM59.1 118.0h.9v.9h-.9zM69.0 123.8h.9v.9h-.9zM62.9 119.7h.9v.9h-.9zM52.8 124.1h.9v.9h-.9zM60.4 117.4h.9v.9h-.9zM57.4 131.1h.9v.9h-.9zM53.8 116.7h.9v.9h-.9zM58.4 117.9h.9v.9h-.9zM57.1 125.1h.9v.9h-.9zM70.7 111.7h.9v.9h-.9zM59.7 122.2h.9v.9h-.9zM59.3 120.9h.9v.9h-.9zM57.7 127.8h.9v.9h-.9zM56.9 121.3h.9v.9h-.9zM59.8 122.6h.9v.9h-.9zM58.7 127.8h.9v.9h-.9zM59.7 123.0h.9v.9h-.9zM59.5 116.2h.9v.9h-.9zM54.6 115.9h.9v.9h-.9zM61.0 117.9h.9v.9h-.9zM53.1 123.4h.9v.9h-.9zM63.1 111.8h.9v.9h-.9zM70.4 122.2h.9v.9h-.9zM59.1 128.2h.9v.9h-.9zM60.2 118.5h.9v.9h-.9zM59.2 126.9h.9v.9h-.9zM53.1 121.4h.9v.9h-.9zM54.2 121.7h.9v.9h-.9zM63.9 122.5h.9v.9h-.9zM52.2 124.4h.9v.9h-.9zM60.5 124.6h.9v.9h-.9zM66.9 127.9h.9v.9h-.9zM62.4 123.8h.9v.9h-.9zM52.9 121.2h.9v.9h-.9zM61.2 119.7h.9v.9h-.9zM60.4 117.2h.9v.9h-.9zM69.5 134.5h.9v.9h-.9zM57.3 124.3h.9v.9h-.9zM58.3 129.3h.9v.9h-.9zM62.5 122.4h.9v.9h-.9zM58.4 122.7h.9v.9h-.9zM53.5 125.9h.9v.9h-.9zM55.3 125.1h.9v.9h-.9zM60.6 128.4h.9v.9h-.9zM59.7 127.9h.9v.9h-.9zM54.0 125.5h.9v.9h-.9zM58.4 123.1h.9v.9h-.9zM60.3 127.4h.9v.9h-.9zM50.4 129.0h.9v.9h-.9zM49.3 131.5h.9v.9h-.9zM51.7 122.7h.9v.9h-.9zM56.4 111.6h.9v.9h-.9zM57.7 125.8h.9v.9h-.9zM58.6 127.5h.9v.9h-.9zM57.5 122.0h.9v.9h-.9zM57.4 124.0h.9v.9h-.9zM71.8 124.1h.9v.9h-.9zM61.0 118.4h.9v.9h-.9zM55.0 130.5h.9v.9h-.9zM52.8 116.7h.9v.9h-.9zM59.2 119.5h.9v.9h-.9zM72.1 108.3h.9v.9h-.9zM62.1 126.1h.9v.9h-.9zM52.7 118.3h.9v.9h-.9zM62.5 131.5h.9v.9h-.9zM54.0 112.8h.9v.9h-.9zM65.9 130.8h.9v.9h-.9zM57.7 109.2h.9v.9h-.9zM68.9 120.8h.9v.9h-.9zM66.9 121.7h.9v.9h-.9zM57.4 119.4h.9v.9h-.9zM69.1 130.3h.9v.9h-.9zM71.0 119.9h.9v.9h-.9zM51.2 122.0h.9v.9h-.9zM59.1 121.4h.9v.9h-.9zM56.8 120.2h.9v.9h-.9zM56.9 123.9h.9v.9h-.9zM54.7 120.3h.9v.9h-.9zM58.9 129.6h.9v.9h-.9zM62.2 121.4h.9v.9h-.9zM63.2 124.4h.9v.9h-.9zM66.7 124.9h.9v.9h-.9zM71.1 129.8h.9v.9h-.9zM59.5 119.6h.9v.9h-.9zM65.4 125.0h.9v.9h-.9zM59.2 113.4h.9v.9h-.9zM48.3 124.0h.9v.9h-.9zM64.7 126.7h.9v.9h-.9zM51.7 128.0h.9v.9h-.9zM56.4 124.3h.9v.9h-.9zM62.4 117.3h.9v.9h-.9zM56.1 110.0h.9v.9h-.9zM54.0 111.5h.9v.9h-.9zM62.6 122.4h.9v.9h-.9zM65.6 124.1h.9v.9h-.9zM55.8 124.0h.9v.9h-.9zM57.3 125.5h.9v.9h-.9zM61.8 116.3h.9v.9h-.9zM59.8 122.3h.9v.9h-.9zM57.9 127.2h.9v.9h-.9zM70.6 119.9h.9v.9h-.9zM57.6 109.0h.9v.9h-.9zM59.0 119.5h.9v.9h-.9zM63.5 117.7h.9v.9h-.9zM57.5 116.4h.9v.9h-.9zM64.6 113.2h.9v.9h-.9zM57.8 133.3h.9v.9h-.9zM60.1 124.7h.9v.9h-.9zM58.9 115.2h.9v.9h-.9zM59.6 124.4h.9v.9h-.9zM53.4 124.0h.9v.9h-.9zM67.6 128.2h.9v.9h-.9zM49.8 116.3h.9v.9h-.9zM49.6 128.2h.9v.9h-.9zM63.6 126.1h.9v.9h-.9zM54.3 115.2h.9v.9h-.9zM60.3 122.6h.9v.9h-.9zM54.4 122.8h.9v.9h-.9zM63.9 123.3h.9v.9h-.9zM53.3 109.7h.9v.9h-.9zM58.2 123.0h.9v.9h-.9zM58.2 119.5h.9v.9h-.9zM55.4 126.2h.9v.9h-.9zM59.5 122.7h.9v.9h-.9zM53.7 118.4h.9v.9h-.9zM60.8 116.2h.9v.9h-.9zM51.9 120.1h.9v.9h-.9zM67.4 123.1h.9v.9h-.9zM69.0 121.2h.9v.9h-.9zM57.8 113.9h.9v.9h-.9zM56.2 130.3h.9v.9h-.9zM61.9 126.3h.9v.9h-.9zM64.2 121.9h.9v.9h-.9zM58.5 122.7h.9v.9h-.9zM64.0 124.7h.9v.9h-.9zM62.9 122.9h.9v.9h-.9zM54.9 120.5h.9v.9h-.9zM53.9 127.8h.9v.9h-.9zM52.7 121.9h.9v.9h-.9zM67.9 121.1h.9v.9h-.9zM63.7 122.6h.9v.9h-.9zM60.2 118.9h.9v.9h-.9zM56.7 124.2h.9v.9h-.9zM62.4 126.5h.9v.9h-.9zM60.7 113.7h.9v.9h-.9zM63.2 120.2h.9v.9h-.9zM58.0 113.4h.9v.9h-.9zM56.2 117.8h.9v.9h-.9zM59.6 113.6h.9v.9h-.9zM60.1 122.7h.9v.9h-.9zM52.7 118.4h.9v.9h-.9zM54.4 127.3h.9v.9h-.9zM49.3 119.5h.9v.9h-.9zM65.1 118.3h.9v.9h-.9zM60.7 117.1h.9v.9h-.9zM72.0 127.3h.9v.9h-.9zM66.9 114.3h.9v.9h-.9zM52.9 128.3h.9v.9h-.9zM58.6 120.5h.9v.9h-.9zM61.9 114.7h.9v.9h-.9zM64.7 122.1h.9v.9h-.9zM62.8 118.1h.9v.9h-.9zM63.0 117.9h.9v.9h-.9zM65.8 128.6h.9v.9h-.9zM65.5 125.0h.9v.9h-.9zM63.8 106.3h.9v.9h-.9zM65.1 120.4h.9v.9h-.9zM60.4 120.4h.9v.9h-.9zM51.0 118.9h.9v.9h-.9zM63.9 130.2h.9v.9h-.9zM55.9 116.8h.9v.9h-.9zM68.9 116.9h.9v.9h-.9zM72.9 122.3h.9v.9h-.9zM54.2 127.7h.9v.9h-.9zM70.5 113.7h.9v.9h-.9zM69.6 120.4h.9v.9h-.9zM69.2 119.8h.9v.9h-.9zM49.9 124.9h.9v.9h-.9zM65.6 134.2h.9v.9h-.9zM70.7 126.0h.9v.9h-.9zM58.3 119.0h.9v.9h-.9zM57.9 117.2h.9v.9h-.9zM58.1 107.2h.9v.9h-.9zM60.9 121.8h.9v.9h-.9zM56.8 125.3h.9v.9h-.9zM52.1 118.5h.9v.9h-.9zM48.0 130.3h.9v.9h-.9zM63.5 115.2h.9v.9h-.9zM59.4 127.5h.9v.9h-.9zM62.9 124.2h.9v.9h-.9zM54.4 118.3h.9v.9h-.9zM60.4 127.3h.9v.9h-.9zM54.6 115.5h.9v.9h-.9zM67.0 116.6h.9v.9h-.9zM66.6 123.4h.9v.9h-.9zM65.4 132.1h.9v.9h-.9zM64.1 126.5h.9v.9h-.9zM54.0 118.0h.9v.9h-.9zM63.9 130.9h.9v.9h-.9zM61.8 123.2h.9v.9h-.9zM66.1 122.1h.9v.9h-.9zM59.4 115.9h.9v.9h-.9zM66.0 115.8h.9v.9h-.9zM63.0 113.8h.9v.9h-.9zM66.7 116.0h.9v.9h-.9zM65.1 112.8h.9v.9h-.9zM57.0 128.8h.9v.9h-.9zM54.7 122.4h.9v.9h-.9zM56.8 108.6h.9v.9h-.9zM61.7 124.5h.9v.9h-.9zM52.8 125.3h.9v.9h-.9zM54.8 116.2h.9v.9h-.9zM59.8 118.0h.9v.9h-.9zM64.5 127.7h.9v.9h-.9zM63.3 119.2h.9v.9h-.9zM62.2 128.6h.9v.9h-.9zM57.5 115.8h.9v.9h-.9zM53.9 123.8h.9v.9h-.9zM61.3 114.0h.9v.9h-.9zM70.7 128.3h.9v.9h-.9zM65.1 115.1h.9v.9h-.9zM57.2 118.8h.9v.9h-.9zM57.2 115.5h.9v.9h-.9zM62.5 123.3h.9v.9h-.9zM62.1 119.1h.9v.9h-.9zM67.9 123.1h.9v.9h-.9zM59.4 127.6h.9v.9h-.9zM57.9 120.5h.9v.9h-.9zM55.6 125.9h.9v.9h-.9zM57.0 118.5h.9v.9h-.9zM55.1 125.2h.9v.9h-.9zM56.4 112.3h.9v.9h-.9zM63.7 117.9h.9v.9h-.9zM62.0 124.2h.9v.9h-.9zM67.4 128.1h.9v.9h-.9zM56.2 121.0h.9v.9h-.9zM51.7 131.7h.9v.9h-.9zM62.6 130.1h.9v.9h-.9zM57.8 110.1h.9v.9h-.9zM69.4 122.5h.9v.9h-.9zM60.6 122.3h.9v.9h-.9zM63.9 125.1h.9v.9h-.9zM49.8 128.3h.9v.9h-.9zM56.5 119.3h.9v.9h-.9zM70.7 127.3h.9v.9h-.9zM57.7 111.2h.9v.9h-.9zM60.8 125.1h.9v.9h-.9zM59.3 114.8h.9v.9h-.9zM54.8 114.7h.9v.9h-.9zM61.2 126.8h.9v.9h-.9zM66.3 117.8h.9v.9h-.9zM61.3 125.2h.9v.9h-.9zM56.6 121.1h.9v.9h-.9zM65.4 119.5h.9v.9h-.9zM60.1 112.1h.9v.9h-.9zM59.6 128.9h.9v.9h-.9zM64.1 122.3h.9v.9h-.9zM56.0 121.1h.9v.9h-.9zM63.7 117.4h.9v.9h-.9zM65.7 116.3h.9v.9h-.9zM48.6 116.1h.9v.9h-.9zM49.3 114.0h.9v.9h-.9zM66.9 120.8h.9v.9h-.9zM61.2 128.7h.9v.9h-.9zM67.7 119.1h.9v.9h-.9zM68.2 124.2h.9v.9h-.9zM59.8 124.6h.9v.9h-.9zM50.8 117.4h.9v.9h-.9zM59.1 125.5h.9v.9h-.9zM57.5 121.3h.9v.9h-.9zM65.9 130.2h.9v.9h-.9zM64.6 129.4h.9v.9h-.9zM57.3 120.2h.9v.9h-.9zM61.8 120.3h.9v.9h-.9zM56.6 131.6h.9v.9h-.9zM58.5 116.4h.9v.9h-.9zM62.9 132.6h.9v.9h-.9zM60.3 129.1h.9v.9h-.9zM57.0 119.2h.9v.9h-.9zM55.5 121.2h.9v.9h-.9zM71.4 115.3h.9v.9h-.9zM70.1 116.2h.9v.9h-.9zM58.3 126.8h.9v.9h-.9zM63.8 123.6h.9v.9h-.9zM49.4 124.1h.9v.9h-.9zM58.5 123.1h.9v.9h-.9zM52.6 119.2h.9v.9h-.9zM51.7 127.7h.9v.9h-.9zM58.1 125.3h.9v.9h-.9zM55.5 119.1h.9v.9h-.9zM67.9 116.4h.9v.9h-.9zM48.5 124.4h.9v.9h-.9zM52.6 119.5h.9v.9h-.9zM65.5 117.3h.9v.9h-.9zM65.3 118.0h.9v.9h-.9zM69.2 129.7h.9v.9h-.9zM56.8 120.8h.9v.9h-.9zM54.6 123.2h.9v.9h-.9zM67.0 113.6h.9v.9h-.9zM65.6 114.3h.9v.9h-.9zM54.4 111.6h.9v.9h-.9zM61.3 118.1h.9v.9h-.9zM66.5 109.8h.9v.9h-.9zM57.4 122.1h.9v.9h-.9zM64.0 117.3h.9v.9h-.9zM59.9 127.6h.9v.9h-.9zM61.0 124.2h.9v.9h-.9zM57.6 123.8h.9v.9h-.9zM60.2 130.4h.9v.9h-.9zM64.4 120.6h.9v.9h-.9zM64.6 116.7h.9v.9h-.9zM65.6 115.8h.9v.9h-.9zM56.9 123.3h.9v.9h-.9zM67.5 121.9h.9v.9h-.9zM59.2 118.8h.9v.9h-.9zM70.1 128.2h.9v.9h-.9zM59.2 113.9h.9v.9h-.9zM54.8 125.4h.9v.9h-.9zM55.3 127.2h.9v.9h-.9zM62.1 123.7h.9v.9h-.9zM63.9 124.9h.9v.9h-.9zM54.4 120.1h.9v.9h-.9zM56.8 128.2h.9v.9h-.9zM58.8 117.3h.9v.9h-.9zM51.5 125.1h.9v.9h-.9zM66.2 130.1h.9v.9h-.9zM60.1 128.1h.9v.9h-.9zM53.3 123.0h.9v.9h-.9zM55.5 123.0h.9v.9h-.9zM64.5 128.2h.9v.9h-.9zM53.6 129.4h.9v.9h-.9zM56.8 116.1h.9v.9h-.9zM58.7 113.5h.9v.9h-.9zM59.8 123.7h.9v.9h-.9zM58.5 125.1h.9v.9h-.9zM57.8 122.0h.9v.9h-.9zM50.7 122.2h.9v.9h-.9zM54.4 119.4h.9v.9h-.9zM59.2 123.1h.9v.9h-.9zM49.4 112.9h.9v.9h-.9zM57.9 124.8h.9v.9h-.9zM62.1 127.2h.9v.9h-.9zM68.0 124.9h.9v.9h-.9zM59.7 116.0h.9v.9h-.9zM53.8 119.3h.9v.9h-.9zM61.5 123.3h.9v.9h-.9zM59.8 121.1h.9v.9h-.9zM63.8 123.2h.9v.9h-.9zM61.7 123.8h.9v.9h-.9zM56.4 116.0h.9v.9h-.9zM62.9 124.4h.9v.9h-.9zM58.4 119.6h.9v.9h-.9zM58.4 123.5h.9v.9h-.9zM52.5 122.7h.9v.9h-.9zM71.1 127.4h.9v.9h-.9zM63.8 125.4h.9v.9h-.9zM60.5 127.6h.9v.9h-.9zM58.8 119.5h.9v.9h-.9zM60.4 127.3h.9v.9h-.9zM61.9 125.9h.9v.9h-.9zM57.8 117.1h.9v.9h-.9zM61.5 116.3h.9v.9h-.9zM64.4 119.0h.9v.9h-.9zM65.9 129.9h.9v.9h-.9zM55.4 113.8h.9v.9h-.9zM55.9 120.7h.9v.9h-.9zM66.3 113.2h.9v.9h-.9zM66.4 133.7h.9v.9h-.9zM63.6 125.2h.9v.9h-.9zM59.7 115.2h.9v.9h-.9zM63.2 124.2h.9v.9h-.9zM64.4 124.5h.9v.9h-.9zM69.6 114.2h.9v.9h-.9zM52.6 119.8h.9v.9h-.9zM55.7 126.0h.9v.9h-.9zM57.8 132.1h.9v.9h-.9zM69.4 126.5h.9v.9h-.9zM57.4 125.6h.9v.9h-.9zM64.9 115.8h.9v.9h-.9zM62.0 126.1h.9v.9h-.9zM61.2 131.1h.9v.9h-.9zM67.4 117.2h.9v.9h-.9zM60.6 117.2h.9v.9h-.9zM63.5 117.0h.9v.9h-.9zM65.6 124.3h.9v.9h-.9zM65.9 121.2h.9v.9h-.9zM50.6 132.2h.9v.9h-.9zM58.7 130.0h.9v.9h-.9zM62.5 125.9h.9v.9h-.9zM71.3 124.0h.9v.9h-.9zM68.6 113.4h.9v.9h-.9zM65.3 120.6h.9v.9h-.9zM59.0 122.1h.9v.9h-.9zM62.0 131.6h.9v.9h-.9zM48.1 122.3h.9v.9h-.9zM55.3 128.8h.9v.9h-.9zM57.1 124.6h.9v.9h-.9zM57.3 125.9h.9v.9h-.9zM66.2 119.7h.9v.9h-.9zM60.1 113.8h.9v.9h-.9zM61.7 127.0h.9v.9h-.9zM56.3 128.5h.9v.9h-.9zM51.1 119.2h.9v.9h-.9zM59.9 121.5h.9v.9h-.9zM59.4 126.2h.9v.9h-.9zM56.8 114.7h.9v.9h-.9zM52.0 134.3h.9v.9h-.9zM69.0 124.8h.9v.9h-.9zM54.6 122.0h.9v.9h-.9zM65.2 129.0h.9v.9h-.9zM54.1 126.4h.9v.9h-.9zM61.4 128.4h.9v.9h-.9zM68.6 120.0h.9v.9h-.9zM50.7 124.3h.9v.9h-.9zM71.0 126.0h.9v.9h-.9zM53.2 127.2h.9v.9h-.9zM56.2 122.3h.9v.9h-.9zM60.4 130.8h.9v.9h-.9zM53.9 118.9h.9v.9h-.9zM49.8 124.8h.9v.9h-.9zM56.9 124.4h.9v.9h-.9zM53.0 119.9h.9v.9h-.9zM66.3 121.0h.9v.9h-.9zM63.7 125.1h.9v.9h-.9zM57.6 113.0h.9v.9h-.9zM66.0 123.0h.9v.9h-.9zM66.0 110.3h.9v.9h-.9zM49.4 109.6h.9v.9h-.9zM54.3 128.0h.9v.9h-.9zM63.4 121.8h.9v.9h-.9zM60.6 126.4h.9v.9h-.9zM57.9 124.3h.9v.9h-.9zM60.7 109.3h.9v.9h-.9zM57.4 129.9h.9v.9h-.9zM57.3 121.2h.9v.9h-.9zM56.0 119.2h.9v.9h-.9zM66.9 120.4h.9v.9h-.9zM56.2 110.6h.9v.9h-.9zM48.3 126.6h.9v.9h-.9zM64.3 110.9h.9v.9h-.9zM65.2 124.7h.9v.9h-.9zM54.9 126.3h.9v.9h-.9zM49.6 115.0h.9v.9h-.9zM50.7 115.6h.9v.9h-.9zM65.3 114.3h.9v.9h-.9zM52.5 116.5h.9v.9h-.9zM61.0 120.0h.9v.9h-.9zM65.2 117.9h.9v.9h-.9zM51.7 119.1h.9v.9h-.9zM60.0 116.6h.9v.9h-.9zM61.5 132.5h.9v.9h-.9zM56.1 122.2h.9v.9h-.9zM68.3 118.2h.9v.9h-.9zM54.4 115.6h.9v.9h-.9zM62.2 124.9h.9v.9h-.9zM58.8 122.2h.9v.9h-.9zM67.7 126.9h.9v.9h-.9zM50.9 121.8h.9v.9h-.9zM60.3 126.0h.9v.9h-.9zM58.2 118.1h.9v.9h-.9zM56.8 111.5h.9v.9h-.9zM59.5 118.4h.9v.9h-.9zM62.6 115.9h.9v.9h-.9zM56.9 116.1h.9v.9h-.9zM52.9 125.9h.9v.9h-.9zM56.7 124.4h.9v.9h-.9zM52.5 122.4h.9v.9h-.9zM48.9 119.0h.9v.9h-.9zM56.4 125.2h.9v.9h-.9zM60.7 120.8h.9v.9h-.9zM64.8 122.9h.9v.9h-.9zM62.9 126.2h.9v.9h-.9zM59.1 120.0h.9v.9h-.9zM61.6 119.3h.9v.9h-.9zM62.0 128.2h.9v.9h-.9zM64.9 119.5h.9v.9h-.9zM51.4 121.4h.9v.9h-.9zM58.7 128.1h.9v.9h-.9zM57.1 120.5h.9v.9h-.9zM64.1 119.0h.9v.9h-.9zM58.5 131.7h.9v.9h-.9zM68.9 125.4h.9v.9h-.9zM61.2 116.1h.9v.9h-.9zM63.0 122.1h.9v.9h-.9zM60.9 118.7h.9v.9h-.9zM59.4 120.7h.9v.9h-.9zM61.5 130.0h.9v.9h-.9zM61.8 112.1h.9v.9h-.9zM53.4 112.6h.9v.9h-.9zM54.5 125.0h.9v.9h-.9zM62.0 118.3h.9v.9h-.9zM61.2 117.3h.9v.9h-.9zM50.6 113.6h.9v.9h-.9zM54.1 129.9h.9v.9h-.9zM51.1 128.9h.9v.9h-.9zM67.8 120.7h.9v.9h-.9zM59.2 118.2h.9v.9h-.9zM59.3 125.5h.9v.9h-.9zM59.5 127.5h.9v.9h-.9zM66.9 123.7h.9v.9h-.9zM61.5 121.3h.9v.9h-.9zM61.7 115.3h.9v.9h-.9zM62.0 122.9h.9v.9h-.9zM54.1 134.2h.9v.9h-.9zM53.4 116.7h.9v.9h-.9zM61.2 110.5h.9v.9h-.9zM54.5 112.9h.9v.9h-.9zM53.4 120.9h.9v.9h-.9zM61.5 128.1h.9v.9h-.9zM64.5 128.5h.9v.9h-.9zM63.2 119.0h.9v.9h-.9zM66.5 118.9h.9v.9h-.9zM55.6 130.5h.9v.9h-.9zM64.4 123.0h.9v.9h-.9zM64.2 126.8h.9v.9h-.9zM50.9 121.1h.9v.9h-.9zM52.0 122.4h.9v.9h-.9zM55.2 129.6h.9v.9h-.9zM62.7 117.0h.9v.9h-.9zM59.3 114.7h.9v.9h-.9zM59.7 124.8h.9v.9h-.9zM61.1 110.5h.9v.9h-.9zM57.3 124.6h.9v.9h-.9zM61.4 128.4h.9v.9h-.9zM51.4 124.7h.9v.9h-.9zM55.3 122.8h.9v.9h-.9zM62.0 125.7h.9v.9h-.9zM55.8 122.7h.9v.9h-.9zM52.1 113.5h.9v.9h-.9zM62.9 121.4h.9v.9h-.9zM49.2 116.7h.9v.9h-.9zM59.6 130.7h.9v.9h-.9zM66.0 126.3h.9v.9h-.9zM48.2 121.1h.9v.9h-.9zM62.4 123.9h.9v.9h-.9zM62.1 120.3h.9v.9h-.9zM70.5 130.2h.9v.9h-.9zM58.8 116.0h.9v.9h-.9zM72.4 118.5h.9v.9h-.9zM67.0 132.7h.9v.9h-.9zM53.5 123.3h.9v.9h-.9zM57.2 124.6h.9v.9h-.9zM61.4 132.9h.9v.9h-.9zM63.1 121.6h.9v.9h-.9zM66.5 120.1h.9v.9h-.9zM54.3 118.8h.9v.9h-.9zM59.7 115.5h.9v.9h-.9zM54.5 118.5h.9v.9h-.9zM57.1 116.0h.9v.9h-.9zM52.7 122.6h.9v.9h-.9zM64.1 112.9h.9v.9h-.9zM59.3 114.8h.9v.9h-.9zM64.3 120.3h.9v.9h-.9zM59.7 121.1h.9v.9h-.9zM55.8 112.8h.9v.9h-.9zM63.1 113.6h.9v.9h-.9zM52.0 119.9h.9v.9h-.9zM55.0 123.2h.9v.9h-.9zM65.8 123.1h.9v.9h-.9zM60.7 121.8h.9v.9h-.9zM64.8 111.0h.9v.9h-.9zM61.7 116.2h.9v.9h-.9zM51.7 121.7h.9v.9h-.9zM57.0 125.0h.9v.9h-.9zM66.4 108.2h.9v.9h-.9zM59.0 133.0h.9v.9h-.9zM64.9 130.0h.9v.9h-.9zM60.1 113.3h.9v.9h-.9zM52.3 125.8h.9v.9h-.9zM65.5 117.4h.9v.9h-.9zM57.7 123.2h.9v.9h-.9zM48.4 119.6h.9v.9h-.9zM69.6 134.3h.9v.9h-.9zM58.7 132.3h.9v.9h-.9zM56.1 117.0h.9v.9h-.9zM61.5 122.8h.9v.9h-.9zM48.1 130.4h.9v.9h-.9zM57.1 120.7h.9v.9h-.9zM65.7 118.2h.9v.9h-.9zM60.0 123.9h.9v.9h-.9zM65.5 122.3h.9v.9h-.9zM70.3 120.3h.9v.9h-.9zM55.6 119.0h.9v.9h-.9zM65.8 123.2h.9v.9h-.9zM54.3 123.7h.9v.9h-.9zM62.8 125.7h.9v.9h-.9zM54.6 127.0h.9v.9h-.9zM71.2 119.2h.9v.9h-.9zM64.1 112.7h.9v.9h-.9zM59.7 122.8h.9v.9h-.9zM55.8 120.0h.9v.9h-.9zM64.6 131.7h.9v.9h-.9zM58.1 112.1h.9v.9h-.9zM67.5 125.2h.9v.9h-.9zM63.8 122.8h.9v.9h-.9zM62.7 110.9h.9v.9h-.9zM55.8 117.7h.9v.9h-.9zM59.3 123.7h.9v.9h-.9zM54.8 131.7h.9v.9h-.9zM52.8 119.1h.9v.9h-.9zM61.0 114.4h.9v.9h-.9zM63.1 125.4h.9v.9h-.9zM57.6 132.8h.9v.9h-.9zM60.0 123.3h.9v.9h-.9zM53.4 112.0h.9v.9h-.9zM55.5 119.8h.9v.9h-.9zM56.6 126.2h.9v.9h-.9zM55.9 118.7h.9v.9h-.9zM52.5 126.9h.9v.9h-.9zM56.9 123.0h.9v.9h-.9zM62.0 124.9h.9v.9h-.9zM67.3 120.6h.9v.9h-.9zM58.4 125.9h.9v.9h-.9zM62.2 120.3h.9v.9h-.9zM59.8 118.8h.9v.9h-.9zM64.0 127.1h.9v.9h-.9zM59.5 132.6h.9v.9h-.9zM49.8 120.4h.9v.9h-.9zM70.3 119.3h.9v.9h-.9zM49.4 129.8h.9v.9h-.9zM62.9 114.8h.9v.9h-.9zM64.4 115.8h.9v.9h-.9zM51.0 120.8h.9v.9h-.9zM56.5 115.3h.9v.9h-.9zM57.2 115.9h.9v.9h-.9zM59.9 121.6h.9v.9h-.9zM64.2 119.1h.9v.9h-.9zM51.1 114.1h.9v.9h-.9zM57.9 130.7h.9v.9h-.9zM64.9 118.0h.9v.9h-.9zM65.5 115.0h.9v.9h-.9zM65.9 119.5h.9v.9h-.9zM64.4 125.3h.9v.9h-.9zM57.8 123.6h.9v.9h-.9zM52.8 121.3h.9v.9h-.9zM63.9 122.2h.9v.9h-.9zM53.1 127.9h.9v.9h-.9zM49.0 117.1h.9v.9h-.9zM61.8 114.7h.9v.9h-.9zM69.2 128.1h.9v.9h-.9zM55.9 118.5h.9v.9h-.9zM51.2 113.6h.9v.9h-.9zM62.3 125.4h.9v.9h-.9zM61.7 123.3h.9v.9h-.9zM56.0 123.8h.9v.9h-.9zM50.2 121.8h.9v.9h-.9zM68.8 129.4h.9v.9h-.9zM56.6 119.8h.9v.9h-.9zM68.2 132.1h.9v.9h-.9zM50.0 119.3h.9v.9h-.9zM61.0 128.8h.9v.9h-.9zM54.2 125.5h.9v.9h-.9zM62.2 121.0h.9v.9h-.9zM57.4 127.9h.9v.9h-.9zM63.8 115.4h.9v.9h-.9zM60.9 113.9h.9v.9h-.9zM54.7 114.2h.9v.9h-.9zM51.1 117.7h.9v.9h-.9zM53.3 124.8h.9v.9h-.9zM64.6 120.3h.9v.9h-.9zM52.4 126.4h.9v.9h-.9zM64.1 125.6h.9v.9h-.9zM65.7 120.5h.9v.9h-.9zM51.5 118.8h.9v.9h-.9zM63.1 117.3h.9v.9h-.9zM55.1 113.6h.9v.9h-.9zM52.2 126.7h.9v.9h-.9zM62.4 115.0h.9v.9h-.9zM52.7 118.5h.9v.9h-.9zM63.0 114.9h.9v.9h-.9zM58.5 109.2h.9v.9h-.9zM51.6 124.2h.9v.9h-.9zM65.2 115.0h.9v.9h-.9zM54.6 126.4h.9v.9h-.9zM57.1 118.6h.9v.9h-.9zM62.8 122.9h.9v.9h-.9zM66.6 126.4h.9v.9h-.9zM55.9 121.1h.9v.9h-.9zM59.1 113.8h.9v.9h-.9zM53.4 127.4h.9v.9h-.9zM49.5 127.5h.9v.9h-.9zM61.3 120.9h.9v.9h-.9zM62.9 124.5h.9v.9h-.9zM67.2 119.4h.9v.9h-.9zM58.1 120.3h.9v.9h-.9zM71.4 127.3h.9v.9h-.9zM53.7 119.8h.9v.9h-.9zM55.1 121.8h.9v.9h-.9zM48.0 127.7h.9v.9h-.9zM62.3 117.7h.9v.9h-.9zM58.6 118.9h.9v.9h-.9zM59.9 127.6h.9v.9h-.9zM50.0 129.4h.9v.9h-.9zM57.2 130.5h.9v.9h-.9zM62.2 129.0h.9v.9h-.9zM63.1 128.1h.9v.9h-.9zM59.9 116.9h.9v.9h-.9zM63.8 125.9h.9v.9h-.9zM72.8 110.1h.9v.9h-.9zM58.3 128.0h.9v.9h-.9zM51.7 120.5h.9v.9h-.9zM73.0 130.0h.9v.9h-.9zM54.0 130.1h.9v.9h-.9zM67.1 126.3h.9v.9h-.9zM62.0 123.2h.9v.9h-.9zM54.1 118.8h.9v.9h-.9zM64.2 122.6h.9v.9h-.9zM71.3 119.9h.9v.9h-.9zM61.4 124.1h.9v.9h-.9zM60.0 117.1h.9v.9h-.9zM69.1 118.0h.9v.9h-.9zM64.1 120.2h.9v.9h-.9zM52.1 130.1h.9v.9h-.9zM62.4 119.8h.9v.9h-.9zM64.4 121.3h.9v.9h-.9zM56.8 134.4h.9v.9h-.9zM58.3 120.9h.9v.9h-.9zM52.8 117.5h.9v.9h-.9zM63.7 125.1h.9v.9h-.9zM59.7 117.8h.9v.9h-.9zM64.0 112.0h.9v.9h-.9zM57.5 120.4h.9v.9h-.9zM54.3 122.8h.9v.9h-.9zM55.5 117.2h.9v.9h-.9zM71.0 126.2h.9v.9h-.9zM67.3 122.2h.9v.9h-.9zM65.8 126.4h.9v.9h-.9zM58.3 123.4h.9v.9h-.9zM50.9 122.1h.9v.9h-.9zM63.7 118.6h.9v.9h-.9zM66.9 129.4h.9v.9h-.9zM57.2 130.2h.9v.9h-.9zM70.8 124.7h.9v.9h-.9zM53.6 130.5h.9v.9h-.9zM58.7 119.8h.9v.9h-.9zM60.5 118.9h.9v.9h-.9zM66.5 126.5h.9v.9h-.9zM67.5 125.4h.9v.9h-.9zM54.8 121.1h.9v.9h-.9zM65.3 119.6h.9v.9h-.9zM56.1 128.7h.9v.9h-.9zM64.5 121.8h.9v.9h-.9zM58.3 124.5h.9v.9h-.9zM65.1 126.4h.9v.9h-.9zM57.9 124.5h.9v.9h-.9zM65.1 126.4h.9v.9h-.9zM54.9 120.7h.9v.9h-.9zM60.9 127.3h.9v.9h-.9zM63.7 121.3h.9v.9h-.9zM59.9 132.2h.9v.9h-.9zM55.9 123.8h.9v.9h-.9zM69.7 124.0h.9v.9h-.9zM57.4 121.3h.9v.9h-.9zM66.4 124.7h.9v.9h-.9zM58.1 127.2h.9v.9h-.9zM62.5 122.6h.9v.9h-.9zM61.7 123.5h.9v.9h-.9zM57.7 119.3h.9v.9h-.9zM60.0 116.5h.9v.9h-.9zM51.9 129.5h.9v.9h-.9zM58.3 121.9h.9v.9h-.9zM58.9 122.1h.9v.9h-.9zM59.9 122.4h.9v.9h-.9zM54.7 127.4h.9v.9h-.9zM55.4 128.0h.9v.9h-.9zM66.1 121.1h.9v.9h-.9zM55.6 124.2h.9v.9h-.9zM53.2 122.4h.9v.9h-.9zM55.7 125.1h.9v.9h-.9zM65.3 117.0h.9v.9h-.9zM69.9 118.6h.9v.9h-.9zM69.5 121.5h.9v.9h-.9zM55.7 117.7h.9v.9h-.9zM52.9 129.8h.9v.9h-.9zM59.3 132.4h.9v.9h-.9zM58.5 108.4h.9v.9h-.9zM65.1 119.9h.9v.9h-.9zM58.3 131.1h.9v.9h-.9zM58.1 128.7h.9v.9h-.9zM59.8 117.6h.9v.9h-.9zM63.0 118.5h.9v.9h-.9zM67.5 127.6h.9v.9h-.9zM60.2 125.5h.9v.9h-.9zM63.4 120.4h.9v.9h-.9zM65.4 120.7h.9v.9h-.9zM63.7 116.5h.9v.9h-.9zM60.4 124.4h.9v.9h-.9zM54.8 119.6h.9v.9h-.9zM56.5 126.2h.9v.9h-.9zM55.3 124.6h.9v.9h-.9zM69.4 124.1h.9v.9h-.9zM49.7 122.8h.9v.9h-.9zM66.4 120.4h.9v.9h-.9zM66.8 125.6h.9v.9h-.9zM62.5 120.5h.9v.9h-.9zM56.6 120.6h.9v.9h-.9zM60.3 125.1h.9v.9h-.9zM62.5 120.3h.9v.9h-.9zM60.3 124.3h.9v.9h-.9zM49.6 117.6h.9v.9h-.9zM54.8 120.9h.9v.9h-.9zM58.1 120.6h.9v.9h-.9zM54.4 126.0h.9v.9h-.9zM61.6 112.6h.9v.9h-.9zM60.0 115.6h.9v.9h-.9zM70.6 119.4h.9v.9h-.9zM57.4 122.6h.9v.9h-.9zM58.6 121.8h.9v.9h-.9zM69.6 123.4h.9v.9h-.9zM65.2 128.6h.9v.9h-.9zM53.8 131.9h.9v.9h-.9zM64.2 127.7h.9v.9h-.9zM54.5 126.8h.9v.9h-.9zM62.5 119.0h.9v.9h-.9zM58.4 123.2h.9v.9h-.9zM65.7 128.7h.9v.9h-.9zM63.6 129.2h.9v.9h-.9zM69.2 114.9h.9v.9h-.9zM56.9 116.7h.9v.9h-.9zM60.5 130.5h.9v.9h-.9zM64.0 116.0h.9v.9h-.9zM58.1 128.1h.9v.9h-.9zM56.6 121.6h.9v.9h-.9zM61.8 111.6h.9v.9h-.9zM64.8 124.1h.9v.9h-.9zM63.5 116.4h.9v.9h-.9zM55.1 118.7h.9v.9h-.9zM61.5 122.5h.9v.9h-.9zM60.7 132.5h.9v.9h-.9zM68.2 117.9h.9v.9h-.9zM55.8 132.1h.9v.9h-.9zM57.9 130.1h.9v.9h-.9zM70.0 119.0h.9v.9h-.9zM58.2 122.6h.9v.9h-.9zM54.5 116.4h.9v.9h-.9zM57.4 127.1h.9v.9h-.9zM57.1 120.9h.9v.9h-.9zM57.0 114.2h.9v.9h-.9zM69.3 108.5h.9v.9h-.9zM55.8 125.4h.9v.9h-.9zM51.1 125.6h.9v.9h-.9zM67.8 117.1h.9v.9h-.9zM61.2 115.7h.9v.9h-.9zM63.1 122.6h.9v.9h-.9zM61.3 130.0h.9v.9h-.9zM62.9 129.9h.9v.9h-.9zM63.9 115.2h.9v.9h-.9zM61.6 125.0h.9v.9h-.9zM50.8 129.8h.9v.9h-.9zM60.4 124.2h.9v.9h-.9zM54.3 122.5h.9v.9h-.9zM61.8 120.2h.9v.9h-.9zM60.4 109.8h.9v.9h-.9zM68.5 115.6h.9v.9h-.9zM54.7 125.3h.9v.9h-.9zM54.2 123.8h.9v.9h-.9zM63.4 133.5h.9v.9h-.9zM53.5 126.0h.9v.9h-.9zM53.9 125.5h.9v.9h-.9zM64.2 112.9h.9v.9h-.9zM52.7 115.3h.9v.9h-.9zM50.4 117.9h.9v.9h-.9zM53.9 113.7h.9v.9h-.9zM60.5 125.3h.9v.9h-.9zM51.6 118.9h.9v.9h-.9zM59.9 120.7h.9v.9h-.9zM55.5 126.8h.9v.9h-.9zM65.2 126.0h.9v.9h-.9zM58.6 133.6h.9v.9h-.9zM70.8 119.7h.9v.9h-.9zM59.1 129.0h.9v.9h-.9zM54.8 124.4h.9v.9h-.9zM60.2 118.0h.9v.9h-.9zM58.4 112.9h.9v.9h-.9zM56.4 110.5h.9v.9h-.9zM67.6 123.8h.9v.9h-.9zM66.1 129.4h.9v.9h-.9zM66.3 127.4h.9v.9h-.9zM54.1 124.5h.9v.9h-.9zM56.5 115.2h.9v.9h-.9zM52.6 124.5h.9v.9h-.9zM66.5 114.1h.9v.9h-.9zM70.8 130.5h.9v.9h-.9zM57.4 119.3h.9v.9h-.9zM59.4 127.7h.9v.9h-.9zM57.4 115.6h.9v.9h-.9zM62.0 110.0h.9v.9h-.9zM60.7 128.7h.9v.9h-.9zM61.7 126.5h.9v.9h-.9zM62.9 126.2h.9v.9h-.9zM60.7 117.2h.9v.9h-.9zM58.4 121.6h.9v.9h-.9zM67.7 131.4h.9v.9h-.9zM62.4 117.6h.9v.9h-.9zM55.2 120.9h.9v.9h-.9zM68.5 123.9h.9v.9h-.9zM59.5 117.6h.9v.9h-.9zM65.4 123.7h.9v.9h-.9zM59.5 122.6h.9v.9h-.9zM70.4 121.1h.9v.9h-.9zM70.4 129.2h.9v.9h-.9zM60.1 127.1h.9v.9h-.9zM59.0 117.2h.9v.9h-.9zM58.1 116.7h.9v.9h-.9zM63.0 122.1h.9v.9h-.9zM63.4 126.8h.9v.9h-.9zM48.4 123.0h.9v.9h-.9zM54.3 122.6h.9v.9h-.9zM68.4 112.1h.9v.9h-.9zM61.0 121.5h.9v.9h-.9zM60.0 119.0h.9v.9h-.9zM57.3 111.6h.9v.9h-.9zM53.9 119.9h.9v.9h-.9zM57.4 121.5h.9v.9h-.9zM53.2 125.1h.9v.9h-.9zM56.8 114.1h.9v.9h-.9zM54.7 119.8h.9v.9h-.9zM65.1 124.8h.9v.9h-.9zM57.7 122.1h.9v.9h-.9zM61.2 133.8h.9v.9h-.9zM55.9 124.7h.9v.9h-.9zM64.4 116.5h.9v.9h-.9zM61.0 122.9h.9v.9h-.9zM56.8 125.3h.9v.9h-.9zM66.3 128.6h.9v.9h-.9zM58.6 123.1h.9v.9h-.9zM61.2 127.2h.9v.9h-.9zM60.7 125.8h.9v.9h-.9zM60.9 126.4h.9v.9h-.9zM67.9 120.7h.9v.9h-.9zM61.0 121.7h.9v.9h-.9zM57.3 121.9h.9v.9h-.9zM52.7 126.3h.9v.9h-.9zM70.5 131.9h.9v.9h-.9zM67.8 116.4h.9v.9h-.9zM69.4 117.9h.9v.9h-.9zM59.5 132.7h.9v.9h-.9zM53.0 126.9h.9v.9h-.9zM61.6 121.1h.9v.9h-.9zM54.3 124.5h.9v.9h-.9zM56.9 128.1h.9v.9h-.9zM67.5 114.0h.9v.9h-.9zM56.6 120.1h.9v.9h-.9zM52.4 115.5h.9v.9h-.9zM60.4 120.8h.9v.9h-.9zM49.4 118.9h.9v.9h-.9zM63.1 115.0h.9v.9h-.9zM54.0 131.2h.9v.9h-.9zM68.1 112.6h.9v.9h-.9zM51.3 124.2h.9v.9h-.9zM52.3 120.5h.9v.9h-.9zM57.0 125.2h.9v.9h-.9zM52.1 127.9h.9v.9h-.9zM58.8 112.1h.9v.9h-.9zM62.9 126.1h.9v.9h-.9zM58.3 120.1h.9v.9h-.9zM62.6 129.0h.9v.9h-.9zM60.8 125.1h.9v.9h-.9zM59.5 119.8h.9v.9h-.9zM54.0 123.5h.9v.9h-.9zM57.9 120.6h.9v.9h-.9zM65.7 124.8h.9v.9h-.9zM65.3 112.9h.9v.9h-.9zM63.3 118.6h.9v.9h-.9zM54.7 117.1h.9v.9h-.9zM67.4 126.8h.9v.9h-.9zM55.3 115.4h.9v.9h-.9zM59.9 119.3h.9v.9h-.9zM70.3 113.5h.9v.9h-.9zM48.3 120.5h.9v.9h-.9zM59.9 122.8h.9v.9h-.9zM64.5 134.0h.9v.9h-.9zM57.6 118.8h.9v.9h-.9zM48.7 123.4h.9v.9h-.9zM65.2 120.5h.9v.9h-.9zM67.2 122.2h.9v.9h-.9zM69.3 123.9h.9v.9h-.9zM53.1 118.3h.9v.9h-.9zM50.1 111.9h.9v.9h-.9zM61.5 127.0h.9v.9h-.9zM72.1 121.7h.9v.9h-.9zM58.3 115.6h.9v.9h-.9zM66.0 124.3h.9v.9h-.9zM56.1 126.0h.9v.9h-.9zM63.3 111.2h.9v.9h-.9zM64.5 122.8h.9v.9h-.9zM57.3 119.6h.9v.9h-.9zM70.8 130.9h.9v.9h-.9zM71.3 115.3h.9v.9h-.9zM55.7 127.3h.9v.9h-.9zM52.2 117.8h.9v.9h-.9zM48.4 132.7h.9v.9h-.9zM66.5 124.7h.9v.9h-.9zM61.2 119.6h.9v.9h-.9zM57.3 125.6h.9v.9h-.9zM55.3 129.1h.9v.9h-.9zM56.7 116.9h.9v.9h-.9zM68.0 121.2h.9v.9h-.9zM63.3 119.6h.9v.9h-.9zM51.3 128.3h.9v.9h-.9zM50.0 111.2h.9v.9h-.9zM61.7 124.5h.9v.9h-.9zM60.5 115.0h.9v.9h-.9zM65.4 113.5h.9v.9h-.9zM56.9 117.4h.9v.9h-.9zM57.4 126.9h.9v.9h-.9zM55.8 125.3h.9v.9h-.9zM64.2 112.1h.9v.9h-.9zM52.5 119.8h.9v.9h-.9zM56.1 123.8h.9v.9h-.9zM64.5 121.0h.9v.9h-.9zM51.1 122.0h.9v.9h-.9zM56.4 125.3h.9v.9h-.9zM59.3 126.2h.9v.9h-.9zM57.1 130.4h.9v.9h-.9zM62.9 113.2h.9v.9h-.9zM64.4 114.9h.9v.9h-.9zM60.4 116.7h.9v.9h-.9zM57.0 123.0h.9v.9h-.9zM59.1 119.8h.9v.9h-.9zM53.7 127.4h.9v.9h-.9zM65.0 129.1h.9v.9h-.9zM71.1 116.6h.9v.9h-.9zM66.5 128.6h.9v.9h-.9zM59.8 123.4h.9v.9h-.9zM71.1 111.6h.9v.9h-.9zM56.4 123.7h.9v.9h-.9zM63.4 131.5h.9v.9h-.9zM48.7 122.2h.9v.9h-.9zM65.2 114.4h.9v.9h-.9zM59.5 132.9h.9v.9h-.9zM68.1 125.1h.9v.9h-.9zM62.2 120.2h.9v.9h-.9zM58.4 116.4h.9v.9h-.9zM61.3 120.2h.9v.9h-.9zM57.8 121.5h.9v.9h-.9zM64.7 123.4h.9v.9h-.9zM52.2 121.2h.9v.9h-.9zM62.8 119.3h.9v.9h-.9zM67.0 126.5h.9v.9h-.9zM53.6 123.9h.9v.9h-.9zM72.3 131.0h.9v.9h-.9zM59.4 127.2h.9v.9h-.9zM55.6 113.6h.9v.9h-.9zM63.3 123.4h.9v.9h-.9zM63.0 121.9h.9v.9h-.9zM61.9 119.0h.9v.9h-.9zM62.8 126.8h.9v.9h-.9zM59.4 126.7h.9v.9h-.9zM48.6 117.4h.9v.9h-.9zM68.9 132.2h.9v.9h-.9zM61.4 121.4h.9v.9h-.9zM51.8 124.1h.9v.9h-.9zM64.7 113.4h.9v.9h-.9zM63.3 124.8h.9v.9h-.9zM62.6 115.5h.9v.9h-.9zM63.2 113.3h.9v.9h-.9zM69.2 122.8h.9v.9h-.9zM52.5 129.8h.9v.9h-.9zM67.1 118.2h.9v.9h-.9zM61.8 128.9h.9v.9h-.9zM59.4 121.9h.9v.9h-.9zM53.0 123.9h.9v.9h-.9zM52.8 116.4h.9v.9h-.9zM57.0 114.9h.9v.9h-.9zM69.7 114.3h.9v.9h-.9zM55.0 120.2h.9v.9h-.9zM59.8 126.6h.9v.9h-.9zM65.0 120.2h.9v.9h-.9zM57.4 122.2h.9v.9h-.9zM65.0 126.0h.9v.9h-.9zM56.5 110.1h.9v.9h-.9zM61.5 124.0h.9v.9h-.9zM56.5 116.2h.9v.9h-.9zM57.7 120.7h.9v.9h-.9zM55.9 113.5h.9v.9h-.9zM57.8 125.3h.9v.9h-.9zM56.7 122.1h.9v.9h-.9zM59.0 114.9h.9v.9h-.9zM48.9 124.4h.9v.9h-.9zM54.7 124.8h.9v.9h-.9zM57.2 125.6h.9v.9h-.9zM57.7 113.3h.9v.9h-.9zM59.3 120.1h.9v.9h-.9zM63.9 119.4h.9v.9h-.9zM57.3 127.0h.9v.9h-.9zM67.1 126.4h.9v.9h-.9zM66.3 124.6h.9v.9h-.9zM64.7 127.1h.9v.9h-.9zM62.3 122.4h.9v.9h-.9zM59.9 120.6h.9v.9h-.9zM57.5 121.8h.9v.9h-.9zM61.3 115.4h.9v.9h-.9zM49.7 123.5h.9v.9h-.9zM60.7 128.7h.9v.9h-.9zM70.3 124.1h.9v.9h-.9zM56.3 115.2h.9v.9h-.9zM54.8 122.2h.9v.9h-.9zM59.7 125.7h.9v.9h-.9zM57.7 122.6h.9v.9h-.9zM55.2 119.3h.9v.9h-.9zM48.6 122.7h.9v.9h-.9zM69.6 122.9h.9v.9h-.9zM62.1 116.3h.9v.9h-.9zM68.8 117.6h.9v.9h-.9zM64.9 122.6h.9v.9h-.9zM53.8 128.0h.9v.9h-.9zM59.9 123.0h.9v.9h-.9zM62.6 121.9h.9v.9h-.9zM57.4 124.7h.9v.9h-.9zM57.3 122.4h.9v.9h-.9zM55.6 113.4h.9v.9h-.9zM55.6 119.1h.9v.9h-.9zM59.9 128.9h.9v.9h-.9zM49.2 122.7h.9v.9h-.9zM56.6 108.9h.9v.9h-.9zM48.1 122.9h.9v.9h-.9zM60.3 121.3h.9v.9h-.9zM54.7 134.5h.9v.9h-.9zM58.8 117.0h.9v.9h-.9zM70.4 125.6h.9v.9h-.9zM57.5 128.9h.9v.9h-.9zM60.8 125.7h.9v.9h-.9zM61.3 116.0h.9v.9h-.9zM65.9 122.9h.9v.9h-.9zM53.4 117.6h.9v.9h-.9zM65.8 119.9h.9v.9h-.9zM60.1 125.8h.9v.9h-.9zM60.6 113.1h.9v.9h-.9zM63.8 127.4h.9v.9h-.9zM65.3 131.4h.9v.9h-.9zM62.1 126.5h.9v.9h-.9zM69.8 120.3h.9v.9h-.9zM70.7 132.1h.9v.9h-.9zM64.7 132.7h.9v.9h-.9zM65.2 116.9h.9v.9h-.9zM67.0 123.9h.9v.9h-.9zM62.4 122.9h.9v.9h-.9zM68.4 125.2h.9v.9h-.9zM55.4 124.8h.9v.9h-.9zM64.4 117.8h.9v.9h-.9zM57.1 119.8h.9v.9h-.9zM56.0 124.0h.9v.9h-.9zM66.2 133.0h.9v.9h-.9zM67.3 127.9h.9v.9h-.9zM67.0 129.7h.9v.9h-.9zM57.4 126.0h.9v.9h-.9zM61.8 121.2h.9v.9h-.9zM56.9 119.1h.9v.9h-.9zM58.1 114.8h.9v.9h-.9zM63.1 121.9h.9v.9h-.9zM60.5 124.0h.9v.9h-.9zM64.4 118.6h.9v.9h-.9zM59.1 112.7h.9v.9h-.9zM69.5 111.4h.9v.9h-.9zM62.8 130.6h.9v.9h-.9zM56.9 131.5h.9v.9h-.9zM71.4 127.5h.9v.9h-.9zM55.2 125.0h.9v.9h-.9zM57.0 114.5h.9v.9h-.9zM56.4 121.9h.9v.9h-.9zM55.7 122.8h.9v.9h-.9zM58.3 119.7h.9v.9h-.9zM52.2 113.9h.9v.9h-.9zM55.2 123.8h.9v.9h-.9zM73.0 128.2h.9v.9h-.9zM71.4 124.9h.9v.9h-.9zM59.3 114.4h.9v.9h-.9zM59.9 109.7h.9v.9h-.9zM58.0 131.5h.9v.9h-.9zM62.0 128.7h.9v.9h-.9zM57.5 114.1h.9v.9h-.9zM56.9 119.8h.9v.9h-.9zM67.5 133.6h.9v.9h-.9zM55.3 120.0h.9v.9h-.9zM59.0 120.1h.9v.9h-.9zM52.1 122.7h.9v.9h-.9zM62.2 124.4h.9v.9h-.9zM52.4 121.5h.9v.9h-.9zM49.0 127.4h.9v.9h-.9zM53.5 120.6h.9v.9h-.9zM57.1 118.8h.9v.9h-.9zM53.3 111.9h.9v.9h-.9zM70.9 123.6h.9v.9h-.9zM61.7 134.3h.9v.9h-.9zM59.4 125.4h.9v.9h-.9zM60.1 129.1h.9v.9h-.9zM63.2 124.0h.9v.9h-.9zM58.4 123.8h.9v.9h-.9zM67.3 110.1h.9v.9h-.9zM59.2 119.8h.9v.9h-.9zM58.1 110.7h.9v.9h-.9zM64.6 117.3h.9v.9h-.9zM58.6 119.3h.9v.9h-.9zM49.5 119.6h.9v.9h-.9zM48.4 116.7h.9v.9h-.9zM58.0 122.2h.9v.9h-.9zM60.4 121.4h.9v.9h-.9zM52.3 118.6h.9v.9h-.9zM55.9 121.2h.9v.9h-.9zM56.2 117.2h.9v.9h-.9zM70.4 122.4h.9v.9h-.9zM57.9 120.7h.9v.9h-.9zM58.6 130.3h.9v.9h-.9zM63.0 128.7h.9v.9h-.9zM66.7 133.6h.9v.9h-.9zM60.2 112.2h.9v.9h-.9zM63.7 118.7h.9v.9h-.9zM48.7 118.6h.9v.9h-.9zM66.7 129.2h.9v.9h-.9zM64.6 116.1h.9v.9h-.9zM59.5 113.8h.9v.9h-.9zM68.3 124.8h.9v.9h-.9zM65.6 122.7h.9v.9h-.9zM59.6 123.2h.9v.9h-.9zM48.1 128.0h.9v.9h-.9zM65.8 120.0h.9v.9h-.9zM60.0 124.0h.9v.9h-.9zM69.9 124.7h.9v.9h-.9zM60.3 119.3h.9v.9h-.9zM50.6 118.8h.9v.9h-.9zM60.5 120.8h.9v.9h-.9zM60.5 126.6h.9v.9h-.9zM62.8 123.9h.9v.9h-.9zM64.2 123.3h.9v.9h-.9zM59.9 125.0h.9v.9h-.9zM49.2 129.5h.9v.9h-.9zM52.0 127.1h.9v.9h-.9zM60.2 128.7h.9v.9h-.9zM60.3 116.8h.9v.9h-.9zM66.9 123.4h.9v.9h-.9zM60.9 122.8h.9v.9h-.9zM66.4 127.0h.9v.9h-.9zM61.6 113.3h.9v.9h-.9zM57.6 122.9h.9v.9h-.9zM71.4 124.5h.9v.9h-.9zM59.5 129.2h.9v.9h-.9zM59.4 122.1h.9v.9h-.9zM61.1 113.6h.9v.9h-.9zM66.2 124.8h.9v.9h-.9zM58.4 115.7h.9v.9h-.9zM61.5 130.4h.9v.9h-.9zM56.1 116.2h.9v.9h-.9zM62.8 113.1h.9v.9h-.9zM55.8 120.7h.9v.9h-.9zM56.7 124.3h.9v.9h-.9zM58.8 118.9h.9v.9h-.9zM57.3 126.0h.9v.9h-.9zM66.2 127.6h.9v.9h-.9zM53.9 120.5h.9v.9h-.9zM61.5 113.0h.9v.9h-.9zM69.1 124.1h.9v.9h-.9zM56.3 123.3h.9v.9h-.9zM58.0 117.9h.9v.9h-.9zM63.4 119.7h.9v.9h-.9zM51.3 118.7h.9v.9h-.9zM59.5 116.1h.9v.9h-.9zM68.1 116.0h.9v.9h-.9zM71.3 127.5h.9v.9h-.9zM54.3 123.1h.9v.9h-.9zM67.6 121.3h.9v.9h-.9zM52.7 123.0h.9v.9h-.9zM72.7 113.7h.9v.9h-.9zM63.7 122.4h.9v.9h-.9zM59.5 120.1h.9v.9h-.9zM58.2 128.4h.9v.9h-.9zM64.0 116.6h.9v.9h-.9zM70.0 114.9h.9v.9h-.9zM64.4 123.5h.9v.9h-.9zM67.8 124.5h.9v.9h-.9zM66.9 122.3h.9v.9h-.9zM66.4 124.4h.9v.9h-.9zM67.8 125.1h.9v.9h-.9zM61.4 119.1h.9v.9h-.9zM63.1 113.9h.9v.9h-.9zM51.6 126.6h.9v.9h-.9zM50.5 130.8h.9v.9h-.9zM58.5 123.9h.9v.9h-.9zM60.7 124.9h.9v.9h-.9zM58.5 120.3h.9v.9h-.9zM59.5 128.5h.9v.9h-.9zM67.4 129.8h.9v.9h-.9zM62.6 121.3h.9v.9h-.9zM49.7 126.2h.9v.9h-.9zM65.6 120.1h.9v.9h-.9zM65.4 129.9h.9v.9h-.9zM60.9 128.6h.9v.9h-.9zM62.2 112.4h.9v.9h-.9zM57.3 120.1h.9v.9h-.9zM63.6 117.4h.9v.9h-.9zM57.5 116.9h.9v.9h-.9zM60.0 122.8h.9v.9h-.9zM66.4 127.1h.9v.9h-.9zM61.3 123.8h.9v.9h-.9zM61.0 123.1h.9v.9h-.9zM70.0 108.0h.9v.9h-.9zM59.2 124.3h.9v.9h-.9zM67.4 116.1h.9v.9h-.9zM62.5 127.4h.9v.9h-.9zM57.5 111.4h.9v.9h-.9zM58.0 115.5h.9v.9h-.9zM64.4 117.5h.9v.9h-.9zM71.5 123.3h.9v.9h-.9zM55.2 119.5h.9v.9h-.9zM53.4 124.7h.9v.9h-.9zM69.7 121.2h.9v.9h-.9zM66.1 117.0h.9v.9h-.9zM51.4 129.6h.9v.9h-.9zM67.7 111.5h.9v.9h-.9zM51.2 116.8h.9v.9h-.9zM66.4 120.0h.9v.9h-.9zM59.2 126.5h.9v.9h-.9zM61.0 123.8h.9v.9h-.9zM58.3 129.0h.9v.9h-.9zM55.4 132.2h.9v.9h-.9zM58.2 117.8h.9v.9h-.9zM64.4 125.1h.9v.9h-.9zM51.8 117.6h.9v.9h-.9zM65.2 117.4h.9v.9h-.9zM62.5 120.2h.9v.9h-.9zM72.4 121.9h.9v.9h-.9zM52.9 116.0h.9v.9h-.9zM54.5 123.2h.9v.9h-.9zM60.2 128.0h.9v.9h-.9zM61.3 123.1h.9v.9h-.9zM62.3 121.6h.9v.9h-.9zM62.1 126.9h.9v.9h-.9zM65.2 119.2h.9v.9h-.9zM49.1 117.7h.9v.9h-.9zM62.0 107.9h.9v.9h-.9zM57.2 125.0h.9v.9h-.9zM56.6 115.9h.9v.9h-.9zM71.2 130.4h.9v.9h-.9zM58.6 130.0h.9v.9h-.9zM68.4 115.8h.9v.9h-.9zM58.5 116.0h.9v.9h-.9zM60.7 114.7h.9v.9h-.9zM60.1 128.6h.9v.9h-.9zM61.5 120.8h.9v.9h-.9zM69.9 117.1h.9v.9h-.9zM66.2 120.6h.9v.9h-.9zM61.5 122.5h.9v.9h-.9zM60.9 122.0h.9v.9h-.9zM55.2 119.0h.9v.9h-.9zM62.9 121.7h.9v.9h-.9zM52.8 118.2h.9v.9h-.9zM55.7 122.0h.9v.9h-.9zM61.2 122.8h.9v.9h-.9zM56.0 122.4h.9v.9h-.9zM51.4 105.5h.9v.9h-.9zM59.7 112.6h.9v.9h-.9zM54.1 115.2h.9v.9h-.9zM64.0 115.2h.9v.9h-.9zM61.8 119.4h.9v.9h-.9zM52.2 113.1h.9v.9h-.9zM62.9 124.4h.9v.9h-.9zM64.9 132.8h.9v.9h-.9zM61.7 123.8h.9v.9h-.9zM59.2 122.7h.9v.9h-.9zM57.7 116.9h.9v.9h-.9zM72.5 111.3h.9v.9h-.9zM61.5 124.7h.9v.9h-.9zM60.8 116.5h.9v.9h-.9zM58.7 119.4h.9v.9h-.9zM53.1 121.8h.9v.9h-.9zM57.3 118.8h.9v.9h-.9zM64.2 115.9h.9v.9h-.9zM62.6 118.5h.9v.9h-.9zM62.5 122.4h.9v.9h-.9zM61.3 116.3h.9v.9h-.9zM54.9 117.0h.9v.9h-.9zM60.9 126.3h.9v.9h-.9zM66.6 119.1h.9v.9h-.9zM60.3 112.6h.9v.9h-.9zM55.6 113.0h.9v.9h-.9zM48.6 125.0h.9v.9h-.9zM54.7 112.2h.9v.9h-.9zM57.7 125.8h.9v.9h-.9zM54.9 131.1h.9v.9h-.9zM50.0 114.3h.9v.9h-.9zM58.8 117.5h.9v.9h-.9zM68.5 112.6h.9v.9h-.9zM55.1 123.2h.9v.9h-.9zM63.2 127.6h.9v.9h-.9zM56.6 122.8h.9v.9h-.9zM65.0 120.0h.9v.9h-.9zM57.8 119.1h.9v.9h-.9zM55.5 115.3h.9v.9h-.9zM56.1 112.8h.9v.9h-.9zM62.0 112.6h.9v.9h-.9zM72.5 131.6h.9v.9h-.9zM66.5 120.5h.9v.9h-.9zM55.9 128.8h.9v.9h-.9zM60.7 125.0h.9v.9h-.9zM55.0 127.9h.9v.9h-.9zM54.5 122.4h.9v.9h-.9zM48.7 117.9h.9v.9h-.9zM62.7 119.1h.9v.9h-.9zM56.7 126.3h.9v.9h-.9zM59.0 128.9h.9v.9h-.9zM62.7 112.8h.9v.9h-.9zM51.3 126.8h.9v.9h-.9zM52.8 118.0h.9v.9h-.9zM63.2 119.8h.9v.9h-.9zM62.5 116.7h.9v.9h-.9zM61.3 127.9h.9v.9h-.9zM61.5 109.0h.9v.9h-.9zM63.6 122.0h.9v.9h-.9zM53.8 129.7h.9v.9h-.9zM48.5 132.5h.9v.9h-.9zM55.5 130.8h.9v.9h-.9zM59.2 114.0h.9v.9h-.9zM60.1 123.6h.9v.9h-.9zM62.9 127.8h.9v.9h-.9zM53.8 124.5h.9v.9h-.9zM64.1 120.1h.9v.9h-.9zM53.6 116.2h.9v.9h-.9zM64.2 126.3h.9v.9h-.9zM54.3 114.0h.9v.9h-.9zM67.2 112.7h.9v.9h-.9zM60.5 117.0h.9v.9h-.9zM48.4 122.4h.9v.9h-.9zM58.3 130.0h.9v.9h-.9zM65.9 127.7h.9v.9h-.9zM56.2 116.7h.9v.9h-.9zM69.5 119.6h.9v.9h-.9zM59.3 120.0h.9v.9h-.9zM58.6 118.2h.9v.9h-.9zM64.1 128.9h.9v.9h-.9zM57.1 113.7h.9v.9h-.9zM59.8 113.1h.9v.9h-.9zM55.4 128.8h.9v.9h-.9zM52.8 126.2h.9v.9h-.9zM69.0 126.0h.9v.9h-.9zM50.8 112.1h.9v.9h-.9zM64.8 121.4h.9v.9h-.9zM55.7 124.1h.9v.9h-.9zM55.8 110.6h.9v.9h-.9zM64.5 117.9h.9v.9h-.9zM53.2 114.0h.9v.9h-.9zM61.0 117.0h.9v.9h-.9zM63.4 120.1h.9v.9h-.9zM66.2 119.4h.9v.9h-.9zM55.3 110.3h.9v.9h-.9zM52.6 125.8h.9v.9h-.9zM52.9 123.6h.9v.9h-.9zM62.4 117.8h.9v.9h-.9zM59.9 112.4h.9v.9h-.9zM57.6 126.9h.9v.9h-.9zM69.7 120.7h.9v.9h-.9zM57.8 124.3h.9v.9h-.9zM66.4 124.5h.9v.9h-.9zM54.7 123.7h.9v.9h-.9zM65.5 117.6h.9v.9h-.9zM51.1 124.6h.9v.9h-.9zM61.8 127.3h.9v.9h-.9zM60.0 118.0h.9v.9h-.9zM56.7 115.8h.9v.9h-.9zM53.5 118.5h.9v.9h-.9zM56.4 128.1h.9v.9h-.9zM51.8 121.4h.9v.9h-.9zM55.8 130.3h.9v.9h-.9zM61.1 119.6h.9v.9h-.9zM64.6 122.1h.9v.9h-.9zM56.5 130.6h.9v.9h-.9zM63.9 131.7h.9v.9h-.9zM66.7 126.2h.9v.9h-.9zM60.3 115.5h.9v.9h-.9zM63.9 122.1h.9v.9h-.9zM63.7 121.7h.9v.9h-.9zM55.2 115.9h.9v.9h-.9zM63.9 129.2h.9v.9h-.9zM57.7 124.4h.9v.9h-.9zM68.2 116.9h.9v.9h-.9zM57.4 115.3h.9v.9h-.9zM66.9 123.3h.9v.9h-.9zM56.6 112.2h.9v.9h-.9zM58.4 127.5h.9v.9h-.9zM57.7 119.3h.9v.9h-.9zM63.6 114.7h.9v.9h-.9zM59.9 125.2h.9v.9h-.9zM54.7 117.0h.9v.9h-.9zM61.1 121.2h.9v.9h-.9zM58.1 123.0h.9v.9h-.9zM60.9 116.4h.9v.9h-.9zM55.4 124.4h.9v.9h-.9zM66.6 129.6h.9v.9h-.9zM54.3 128.1h.9v.9h-.9zM64.3 121.6h.9v.9h-.9zM62.6 126.6h.9v.9h-.9zM70.8 115.7h.9v.9h-.9zM63.3 121.0h.9v.9h-.9zM58.3 128.4h.9v.9h-.9zM64.7 116.0h.9v.9h-.9zM57.8 123.1h.9v.9h-.9zM50.8 126.8h.9v.9h-.9zM59.1 122.7h.9v.9h-.9zM61.7 132.2h.9v.9h-.9zM59.8 119.8h.9v.9h-.9zM70.5 118.9h.9v.9h-.9zM56.3 113.9h.9v.9h-.9zM66.3 123.4h.9v.9h-.9zM62.5 122.8h.9v.9h-.9zM58.8 117.3h.9v.9h-.9zM54.7 124.3h.9v.9h-.9zM60.4 131.2h.9v.9h-.9zM54.9 119.0h.9v.9h-.9zM53.3 129.7h.9v.9h-.9zM51.9 126.3h.9v.9h-.9zM68.6 121.0h.9v.9h-.9zM64.1 109.6h.9v.9h-.9zM57.2 112.3h.9v.9h-.9zM60.7 121.9h.9v.9h-.9zM54.8 127.3h.9v.9h-.9zM61.8 118.8h.9v.9h-.9zM56.4 113.4h.9v.9h-.9zM58.5 134.0h.9v.9h-.9zM55.2 124.3h.9v.9h-.9zM56.2 126.5h.9v.9h-.9zM62.4 120.5h.9v.9h-.9zM48.5 118.9h.9v.9h-.9zM67.1 120.5h.9v.9h-.9zM63.6 119.1h.9v.9h-.9zM48.0 124.3h.9v.9h-.9zM61.6 118.5h.9v.9h-.9zM57.3 123.5h.9v.9h-.9zM56.0 123.8h.9v.9h-.9zM58.4 108.3h.9v.9h-.9zM58.7 118.4h.9v.9h-.9zM54.4 124.2h.9v.9h-.9zM56.6 125.0h.9v.9h-.9zM66.5 122.7h.9v.9h-.9zM50.0 117.7h.9v.9h-.9zM65.3 120.4h.9v.9h-.9zM54.6 121.4h.9v.9h-.9zM62.8 123.4h.9v.9h-.9zM63.7 117.1h.9v.9h-.9zM58.0 120.4h.9v.9h-.9zM59.5 109.9h.9v.9h-.9zM58.2 114.2h.9v.9h-.9zM68.3 130.8h.9v.9h-.9zM70.1 126.5h.9v.9h-.9zM56.7 127.4h.9v.9h-.9zM58.4 125.4h.9v.9h-.9zM54.1 118.5h.9v.9h-.9zM62.6 132.1h.9v.9h-.9zM59.5 116.4h.9v.9h-.9zM58.8 118.8h.9v.9h-.9zM59.3 127.4h.9v.9h-.9zM65.5 123.4h.9v.9h-.9zM59.7 122.6h.9v.9h-.9zM60.5 125.2h.9v.9h-.9zM59.7 124.8h.9v.9h-.9zM51.5 126.5h.9v.9h-.9zM70.6 123.0h.9v.9h-.9zM50.9 129.7h.9v.9h-.9zM58.3 125.4h.9v.9h-.9zM62.1 129.0h.9v.9h-.9zM63.6 122.6h.9v.9h-.9zM60.8 125.8h.9v.9h-.9zM53.3 118.4h.9v.9h-.9zM62.6 111.0h.9v.9h-.9zM61.3 119.2h.9v.9h-.9zM51.4 125.7h.9v.9h-.9zM59.1 123.4h.9v.9h-.9zM63.7 118.9h.9v.9h-.9zM64.9 129.1h.9v.9h-.9zM62.2 129.6h.9v.9h-.9zM55.8 127.2h.9v.9h-.9zM61.4 116.3h.9v.9h-.9zM59.2 118.9h.9v.9h-.9zM56.3 122.4h.9v.9h-.9zM66.3 120.1h.9v.9h-.9zM60.5 113.5h.9v.9h-.9zM60.4 128.6h.9v.9h-.9zM64.8 124.7h.9v.9h-.9zM56.4 116.3h.9v.9h-.9zM59.1 114.2h.9v.9h-.9zM52.0 127.3h.9v.9h-.9zM54.0 132.2h.9v.9h-.9zM50.8 124.4h.9v.9h-.9zM52.4 122.9h.9v.9h-.9zM53.2 122.2h.9v.9h-.9zM58.8 119.3h.9v.9h-.9zM62.9 130.6h.9v.9h-.9zM56.0 127.0h.9v.9h-.9zM60.3 121.8h.9v.9h-.9zM55.5 111.5h.9v.9h-.9zM57.8 120.6h.9v.9h-.9zM70.9 129.4h.9v.9h-.9zM57.0 124.7h.9v.9h-.9zM70.1 122.9h.9v.9h-.9zM61.0 124.8h.9v.9h-.9zM50.3 117.3h.9v.9h-.9zM61.8 125.1h.9v.9h-.9zM54.0 120.1h.9v.9h-.9zM59.0 121.1h.9v.9h-.9zM64.1 122.5h.9v.9h-.9zM60.8 113.8h.9v.9h-.9zM53.1 123.8h.9v.9h-.9zM49.8 123.5h.9v.9h-.9zM55.6 117.2h.9v.9h-.9zM63.8 118.0h.9v.9h-.9zM54.3 118.0h.9v.9h-.9zM58.2 127.4h.9v.9h-.9zM57.4 107.7h.9v.9h-.9zM68.0 115.6h.9v.9h-.9zM59.3 114.0h.9v.9h-.9zM52.8 119.0h.9v.9h-.9zM65.0 126.7h.9v.9h-.9zM55.9 124.8h.9v.9h-.9zM57.3 122.5h.9v.9h-.9zM60.6 125.4h.9v.9h-.9zM55.8 121.1h.9v.9h-.9zM61.0 122.4h.9v.9h-.9zM54.6 131.8h.9v.9h-.9zM56.7 126.2h.9v.9h-.9zM60.9 128.9h.9v.9h-.9zM58.3 114.7h.9v.9h-.9zM62.8 114.7h.9v.9h-.9zM56.7 129.5h.9v.9h-.9zM50.8 120.8h.9v.9h-.9zM57.8 134.3h.9v.9h-.9zM57.8 129.4h.9v.9h-.9zM55.4 117.2h.9v.9h-.9zM65.9 125.4h.9v.9h-.9zM48.8 125.5h.9v.9h-.9zM63.6 118.3h.9v.9h-.9zM61.0 123.4h.9v.9h-.9zM56.6 118.4h.9v.9h-.9zM55.4 120.3h.9v.9h-.9zM51.3 121.6h.9v.9h-.9zM50.2 122.2h.9v.9h-.9zM59.1 115.8h.9v.9h-.9zM64.9 133.0h.9v.9h-.9zM67.9 113.9h.9v.9h-.9zM67.6 123.1h.9v.9h-.9zM59.3 118.4h.9v.9h-.9zM59.5 129.8h.9v.9h-.9zM63.0 119.4h.9v.9h-.9zM55.4 119.4h.9v.9h-.9zM63.3 132.5h.9v.9h-.9zM53.0 121.8h.9v.9h-.9zM57.2 117.5h.9v.9h-.9zM62.1 125.0h.9v.9h-.9zM50.7 115.8h.9v.9h-.9zM67.0 123.6h.9v.9h-.9zM62.8 118.9h.9v.9h-.9zM57.2 124.4h.9v.9h-.9zM56.5 115.4h.9v.9h-.9zM59.6 127.0h.9v.9h-.9zM53.1 127.9h.9v.9h-.9zM64.0 116.8h.9v.9h-.9zM59.6 121.6h.9v.9h-.9zM63.5 125.6h.9v.9h-.9zM51.5 114.1h.9v.9h-.9zM66.0 122.5h.9v.9h-.9zM62.2 123.7h.9v.9h-.9zM69.1 114.9h.9v.9h-.9zM66.4 117.1h.9v.9h-.9zM64.1 129.5h.9v.9h-.9zM51.0 124.1h.9v.9h-.9zM57.9 120.1h.9v.9h-.9zM59.9 115.8h.9v.9h-.9zM53.6 125.6h.9v.9h-.9zM64.9 118.5h.9v.9h-.9zM66.4 123.9h.9v.9h-.9zM53.2 118.5h.9v.9h-.9zM61.1 116.3h.9v.9h-.9zM69.6 122.6h.9v.9h-.9zM62.0 115.9h.9v.9h-.9zM53.9 117.3h.9v.9h-.9zM61.3 120.3h.9v.9h-.9zM57.8 123.6h.9v.9h-.9zM61.0 130.3h.9v.9h-.9zM58.4 116.0h.9v.9h-.9zM59.5 130.2h.9v.9h-.9zM56.1 122.1h.9v.9h-.9zM57.4 124.1h.9v.9h-.9zM61.2 117.2h.9v.9h-.9zM58.2 127.2h.9v.9h-.9zM66.4 127.1h.9v.9h-.9zM64.9 119.9h.9v.9h-.9zM57.3 127.1h.9v.9h-.9zM52.3 121.5h.9v.9h-.9zM48.1 119.6h.9v.9h-.9zM55.2 114.9h.9v.9h-.9zM63.2 117.6h.9v.9h-.9zM57.3 120.3h.9v.9h-.9zM55.0 129.9h.9v.9h-.9zM56.5 122.9h.9v.9h-.9zM51.5 119.1h.9v.9h-.9zM57.6 120.1h.9v.9h-.9zM56.0 122.6h.9v.9h-.9zM69.2 121.1h.9v.9h-.9zM58.7 119.6h.9v.9h-.9zM63.0 125.8h.9v.9h-.9zM55.2 120.9h.9v.9h-.9zM60.9 122.5h.9v.9h-.9zM54.3 117.4h.9v.9h-.9zM62.8 123.6h.9v.9h-.9zM67.5 118.1h.9v.9h-.9zM61.1 113.5h.9v.9h-.9zM64.7 115.5h.9v.9h-.9zM51.9 120.0h.9v.9h-.9zM51.8 124.4h.9v.9h-.9zM61.0 131.3h.9v.9h-.9zM51.8 112.8h.9v.9h-.9zM57.7 124.0h.9v.9h-.9zM61.8 128.0h.9v.9h-.9zM50.4 117.1h.9v.9h-.9zM58.8 126.6h.9v.9h-.9zM62.5 119.4h.9v.9h-.9zM53.3 126.8h.9v.9h-.9zM58.5 131.1h.9v.9h-.9zM52.1 118.7h.9v.9h-.9zM55.4 119.2h.9v.9h-.9zM54.2 118.7h.9v.9h-.9zM59.3 119.3h.9v.9h-.9zM63.7 121.4h.9v.9h-.9zM59.6 130.2h.9v.9h-.9zM61.6 122.7h.9v.9h-.9zM59.5 122.2h.9v.9h-.9zM63.2 117.3h.9v.9h-.9zM66.7 130.8h.9v.9h-.9zM66.7 119.0h.9v.9h-.9zM49.8 119.3h.9v.9h-.9zM60.6 126.5h.9v.9h-.9zM58.5 120.1h.9v.9h-.9zM69.0 118.0h.9v.9h-.9zM66.2 127.0h.9v.9h-.9zM51.4 123.4h.9v.9h-.9zM56.2 116.4h.9v.9h-.9zM48.2 112.9h.9v.9h-.9zM62.2 119.6h.9v.9h-.9zM61.3 115.8h.9v.9h-.9zM57.6 120.3h.9v.9h-.9zM50.1 112.4h.9v.9h-.9zM62.3 122.7h.9v.9h-.9zM53.9 121.3h.9v.9h-.9zM63.7 132.2h.9v.9h-.9zM54.1 125.3h.9v.9h-.9zM72.7 122.2h.9v.9h-.9zM68.7 107.1h.9v.9h-.9zM68.6 121.8h.9v.9h-.9zM48.0 126.3h.9v.9h-.9zM66.1 128.7h.9v.9h-.9zM67.0 121.7h.9v.9h-.9zM55.0 119.2h.9v.9h-.9zM59.4 124.1h.9v.9h-.9zM56.6 122.1h.9v.9h-.9zM65.0 123.7h.9v.9h-.9zM52.5 118.6h.9v.9h-.9zM51.5 115.2h.9v.9h-.9zM63.0 116.2h.9v.9h-.9zM53.1 120.3h.9v.9h-.9zM64.6 119.8h.9v.9h-.9zM57.4 127.1h.9v.9h-.9zM62.5 124.4h.9v.9h-.9zM65.5 116.1h.9v.9h-.9zM60.9 118.2h.9v.9h-.9zM66.0 126.5h.9v.9h-.9zM53.2 129.5h.9v.9h-.9zM52.4 128.5h.9v.9h-.9zM60.9 116.9h.9v.9h-.9zM52.7 120.1h.9v.9h-.9zM59.5 117.8h.9v.9h-.9zM63.1 113.8h.9v.9h-.9zM59.6 121.8h.9v.9h-.9zM48.0 123.6h.9v.9h-.9zM51.8 107.6h.9v.9h-.9zM55.8 120.5h.9v.9h-.9zM65.2 119.1h.9v.9h-.9zM68.7 130.0h.9v.9h-.9zM66.4 129.4h.9v.9h-.9zM61.8 118.6h.9v.9h-.9zM63.6 127.4h.9v.9h-.9zM61.1 120.4h.9v.9h-.9zM49.9 125.7h.9v.9h-.9zM61.8 114.4h.9v.9h-.9zM60.2 126.0h.9v.9h-.9zM58.9 126.3h.9v.9h-.9zM64.3 113.4h.9v.9h-.9zM57.7 124.6h.9v.9h-.9zM65.3 129.9h.9v.9h-.9zM64.1 128.8h.9v.9h-.9zM70.1 116.5h.9v.9h-.9zM57.3 115.8h.9v.9h-.9zM64.7 114.2h.9v.9h-.9zM67.0 127.2h.9v.9h-.9zM62.6 109.4h.9v.9h-.9zM55.4 126.1h.9v.9h-.9zM50.8 120.5h.9v.9h-.9zM59.0 126.9h.9v.9h-.9zM61.4 123.4h.9v.9h-.9zM56.9 121.9h.9v.9h-.9zM58.8 126.0h.9v.9h-.9zM58.5 127.7h.9v.9h-.9zM49.0 128.7h.9v.9h-.9zM58.5 128.3h.9v.9h-.9zM60.1 126.7h.9v.9h-.9zM68.9 118.6h.9v.9h-.9zM60.1 120.8h.9v.9h-.9zM60.9 112.5h.9v.9h-.9zM58.5 120.4h.9v.9h-.9zM54.7 120.7h.9v.9h-.9zM50.0 129.8h.9v.9h-.9zM62.4 132.6h.9v.9h-.9zM54.2 115.1h.9v.9h-.9zM61.4 112.3h.9v.9h-.9zM61.0 117.8h.9v.9h-.9zM57.5 123.3h.9v.9h-.9zM59.9 132.5h.9v.9h-.9zM63.5 114.4h.9v.9h-.9zM65.7 114.1h.9v.9h-.9zM60.1 114.7h.9v.9h-.9zM54.4 129.3h.9v.9h-.9zM56.1 118.1h.9v.9h-.9zM56.1 120.0h.9v.9h-.9zM68.5 115.0h.9v.9h-.9zM51.9 125.1h.9v.9h-.9zM49.6 119.7h.9v.9h-.9zM66.6 121.8h.9v.9h-.9zM56.6 117.7h.9v.9h-.9zM53.8 118.4h.9v.9h-.9zM60.4 128.9h.9v.9h-.9zM65.6 118.5h.9v.9h-.9zM55.0 125.7h.9v.9h-.9zM48.2 119.2h.9v.9h-.9zM57.5 115.4h.9v.9h-.9zM53.3 123.7h.9v.9h-.9zM49.2 116.5h.9v.9h-.9zM55.5 122.2h.9v.9h-.9zM50.9 127.9h.9v.9h-.9zM57.5 120.2h.9v.9h-.9zM57.2 117.8h.9v.9h-.9zM53.3 128.2h.9v.9h-.9zM60.7 121.0h.9v.9h-.9zM65.6 117.6h.9v.9h-.9zM63.3 121.8h.9v.9h-.9zM53.9 126.0h.9v.9h-.9zM50.1 125.3h.9v.9h-.9zM53.9 123.9h.9v.9h-.9zM67.9 124.8h.9v.9h-.9zM55.6 121.4h.9v.9h-.9zM57.1 114.9h.9v.9h-.9zM52.5 121.8h.9v.9h-.9zM62.7 111.5h.9v.9h-.9zM58.9 124.4h.9v.9h-.9zM60.0 115.8h.9v.9h-.9zM65.7 114.6h.9v.9h-.9zM63.3 130.7h.9v.9h-.9zM61.2 122.8h.9v.9h-.9zM54.5 119.7h.9v.9h-.9zM50.6 122.2h.9v.9h-.9zM62.6 117.7h.9v.9h-.9zM53.5 118.8h.9v.9h-.9zM59.2 121.8h.9v.9h-.9zM58.6 121.9h.9v.9h-.9zM51.1 105.9h.9v.9h-.9zM63.0 129.6h.9v.9h-.9zM50.4 117.7h.9v.9h-.9zM61.1 126.9h.9v.9h-.9zM63.2 128.7h.9v.9h-.9zM58.9 123.8h.9v.9h-.9zM61.7 119.0h.9v.9h-.9zM66.6 125.0h.9v.9h-.9zM65.2 119.2h.9v.9h-.9zM65.6 115.4h.9v.9h-.9zM61.6 106.6h.9v.9h-.9zM53.0 125.6h.9v.9h-.9zM56.4 122.4h.9v.9h-.9zM49.2 130.2h.9v.9h-.9zM62.9 121.3h.9v.9h-.9zM61.7 123.3h.9v.9h-.9zM67.9 122.6h.9v.9h-.9zM50.1 120.0h.9v.9h-.9zM67.1 124.7h.9v.9h-.9zM56.6 124.9h.9v.9h-.9zM59.9 124.9h.9v.9h-.9zM49.4 116.3h.9v.9h-.9zM63.3 120.2h.9v.9h-.9zM61.3 132.5h.9v.9h-.9zM57.3 122.8h.9v.9h-.9zM55.7 117.9h.9v.9h-.9zM58.7 113.2h.9v.9h-.9zM58.5 127.8h.9v.9h-.9zM59.9 122.3h.9v.9h-.9zM63.3 125.5h.9v.9h-.9zM51.8 128.3h.9v.9h-.9zM53.2 122.6h.9v.9h-.9zM69.4 119.5h.9v.9h-.9zM63.0 121.7h.9v.9h-.9zM61.7 116.6h.9v.9h-.9zM53.5 123.3h.9v.9h-.9zM49.6 116.6h.9v.9h-.9zM63.1 117.9h.9v.9h-.9zM53.7 115.2h.9v.9h-.9zM60.1 119.4h.9v.9h-.9zM60.1 120.4h.9v.9h-.9zM70.6 119.0h.9v.9h-.9zM59.2 122.3h.9v.9h-.9zM49.3 127.8h.9v.9h-.9zM59.0 121.2h.9v.9h-.9zM49.5 124.1h.9v.9h-.9zM58.8 129.1h.9v.9h-.9zM56.6 114.4h.9v.9h-.9zM60.0 116.3h.9v.9h-.9zM61.7 115.3h.9v.9h-.9zM58.4 120.2h.9v.9h-.9zM59.0 118.5h.9v.9h-.9zM54.2 121.1h.9v.9h-.9zM55.6 122.3h.9v.9h-.9zM57.5 108.8h.9v.9h-.9zM58.8 129.3h.9v.9h-.9zM61.0 124.8h.9v.9h-.9zM62.0 118.8h.9v.9h-.9zM51.0 126.0h.9v.9h-.9zM65.6 124.6h.9v.9h-.9zM61.8 123.7h.9v.9h-.9zM59.0 123.0h.9v.9h-.9zM59.3 123.3h.9v.9h-.9zM53.4 117.9h.9v.9h-.9zM62.7 119.5h.9v.9h-.9zM63.6 125.2h.9v.9h-.9zM55.2 115.1h.9v.9h-.9zM57.9 121.6h.9v.9h-.9zM54.5 122.3h.9v.9h-.9zM63.4 124.8h.9v.9h-.9zM52.9 109.4h.9v.9h-.9zM59.2 117.8h.9v.9h-.9zM61.9 130.6h.9v.9h-.9zM69.1 123.1h.9v.9h-.9zM65.9 130.6h.9v.9h-.9zM59.5 123.0h.9v.9h-.9zM64.4 121.3h.9v.9h-.9zM56.2 117.3h.9v.9h-.9zM59.3 118.0h.9v.9h-.9zM64.1 119.7h.9v.9h-.9zM68.1 128.2h.9v.9h-.9zM51.8 127.5h.9v.9h-.9zM56.9 129.1h.9v.9h-.9zM62.4 121.3h.9v.9h-.9zM63.3 118.5h.9v.9h-.9zM61.3 123.7h.9v.9h-.9zM58.4 123.7h.9v.9h-.9zM53.3 124.7h.9v.9h-.9zM52.1 125.0h.9v.9h-.9zM62.2 125.5h.9v.9h-.9zM58.0 122.4h.9v.9h-.9zM54.8 129.5h.9v.9h-.9zM56.6 127.1h.9v.9h-.9zM53.7 123.3h.9v.9h-.9zM57.2 126.8h.9v.9h-.9zM57.7 116.9h.9v.9h-.9zM62.1 115.1h.9v.9h-.9zM53.7 125.9h.9v.9h-.9zM48.3 125.9h.9v.9h-.9zM57.1 116.7h.9v.9h-.9zM60.9 125.2h.9v.9h-.9zM56.0 120.7h.9v.9h-.9zM64.3 125.9h.9v.9h-.9zM59.2 117.5h.9v.9h-.9zM53.9 118.5h.9v.9h-.9zM63.6 124.9h.9v.9h-.9zM61.3 129.4h.9v.9h-.9zM57.8 119.7h.9v.9h-.9zM57.3 132.3h.9v.9h-.9zM62.2 122.1h.9v.9h-.9zM64.2 116.9h.9v.9h-.9zM62.6 119.8h.9v.9h-.9zM59.9 122.9h.9v.9h-.9zM56.8 125.3h.9v.9h-.9zM69.3 127.5h.9v.9h-.9zM60.9 111.3h.9v.9h-.9zM66.1 127.8h.9v.9h-.9zM58.5 119.3h.9v.9h-.9zM63.6 117.5h.9v.9h-.9zM64.4 116.0h.9v.9h-.9zM54.2 122.0h.9v.9h-.9zM51.1 121.9h.9v.9h-.9zM62.9 114.7h.9v.9h-.9zM65.2 118.9h.9v.9h-.9zM63.0 123.1h.9v.9h-.9zM57.0 119.1h.9v.9h-.9zM49.6 118.1h.9v.9h-.9zM55.2 130.9h.9v.9h-.9zM65.8 114.5h.9v.9h-.9zM64.5 123.2h.9v.9h-.9zM57.5 124.5h.9v.9h-.9zM64.4 118.9h.9v.9h-.9zM58.1 122.9h.9v.9h-.9zM53.9 123.0h.9v.9h-.9zM59.3 118.3h.9v.9h-.9zM54.8 123.6h.9v.9h-.9zM64.9 123.8h.9v.9h-.9zM54.7 126.0h.9v.9h-.9zM60.8 125.2h.9v.9h-.9zM66.6 117.1h.9v.9h-.9zM59.0 118.7h.9v.9h-.9zM54.6 132.9h.9v.9h-.9zM65.3 112.4h.9v.9h-.9zM62.3 119.0h.9v.9h-.9zM66.6 122.4h.9v.9h-.9zM58.8 122.8h.9v.9h-.9zM62.0 122.2h.9v.9h-.9zM58.5 121.2h.9v.9h-.9zM62.8 115.9h.9v.9h-.9zM59.8 121.3h.9v.9h-.9zM56.9 126.0h.9v.9h-.9zM52.2 120.0h.9v.9h-.9zM54.8 124.9h.9v.9h-.9zM57.0 122.3h.9v.9h-.9zM62.1 113.3h.9v.9h-.9zM62.5 117.9h.9v.9h-.9zM58.3 121.4h.9v.9h-.9zM64.6 126.0h.9v.9h-.9zM70.2 123.0h.9v.9h-.9zM57.0 119.3h.9v.9h-.9zM63.6 130.7h.9v.9h-.9zM61.8 118.9h.9v.9h-.9zM61.4 123.4h.9v.9h-.9zM60.0 118.0h.9v.9h-.9zM66.0 123.2h.9v.9h-.9zM48.9 132.8h.9v.9h-.9zM60.9 115.5h.9v.9h-.9zM64.5 117.8h.9v.9h-.9zM63.1 122.1h.9v.9h-.9zM52.9 125.6h.9v.9h-.9zM51.9 129.3h.9v.9h-.9zM60.2 116.4h.9v.9h-.9zM49.1 130.8h.9v.9h-.9zM68.3 115.2h.9v.9h-.9zM69.5 122.9h.9v.9h-.9zM58.5 121.5h.9v.9h-.9zM58.2 129.8h.9v.9h-.9zM60.7 112.0h.9v.9h-.9zM72.1 126.8h.9v.9h-.9zM53.4 120.1h.9v.9h-.9zM54.5 122.3h.9v.9h-.9zM62.1 123.3h.9v.9h-.9zM56.3 117.7h.9v.9h-.9zM64.8 121.5h.9v.9h-.9zM64.4 122.3h.9v.9h-.9zM55.3 129.4h.9v.9h-.9zM60.5 117.2h.9v.9h-.9zM57.9 127.5h.9v.9h-.9zM52.6 129.5h.9v.9h-.9zM63.8 120.5h.9v.9h-.9zM67.8 131.5h.9v.9h-.9zM63.3 122.9h.9v.9h-.9zM70.7 130.1h.9v.9h-.9zM54.3 120.9h.9v.9h-.9zM58.5 119.8h.9v.9h-.9zM51.0 126.9h.9v.9h-.9zM60.3 122.5h.9v.9h-.9zM68.1 118.9h.9v.9h-.9zM59.5 123.5h.9v.9h-.9zM57.2 121.4h.9v.9h-.9zM64.3 122.0h.9v.9h-.9zM67.7 117.9h.9v.9h-.9zM61.0 114.2h.9v.9h-.9zM59.1 118.2h.9v.9h-.9zM67.9 126.1h.9v.9h-.9zM62.8 132.1h.9v.9h-.9zM68.3 125.9h.9v.9h-.9zM55.7 114.1h.9v.9h-.9zM59.6 120.1h.9v.9h-.9zM56.0 120.4h.9v.9h-.9zM50.0 130.1h.9v.9h-.9zM53.0 118.3h.9v.9h-.9zM63.2 113.1h.9v.9h-.9zM65.3 127.1h.9v.9h-.9zM57.9 116.1h.9v.9h-.9zM57.0 111.9h.9v.9h-.9zM68.0 122.3h.9v.9h-.9zM55.4 117.0h.9v.9h-.9zM63.2 130.2h.9v.9h-.9zM50.5 115.9h.9v.9h-.9zM58.6 116.9h.9v.9h-.9zM54.5 126.1h.9v.9h-.9zM61.3 116.4h.9v.9h-.9zM53.1 127.5h.9v.9h-.9zM72.7 116.8h.9v.9h-.9zM63.3 132.4h.9v.9h-.9zM55.1 118.2h.9v.9h-.9zM50.8 118.9h.9v.9h-.9zM58.9 117.0h.9v.9h-.9zM54.2 108.7h.9v.9h-.9zM49.9 113.0h.9v.9h-.9zM64.1 116.4h.9v.9h-.9zM53.4 124.7h.9v.9h-.9zM63.5 114.6h.9v.9h-.9zM55.0 124.7h.9v.9h-.9zM62.1 114.0h.9v.9h-.9zM61.2 119.8h.9v.9h-.9zM67.4 113.8h.9v.9h-.9zM65.8 123.1h.9v.9h-.9zM52.3 127.5h.9v.9h-.9zM66.0 110.6h.9v.9h-.9zM52.9 117.7h.9v.9h-.9zM65.0 124.2h.9v.9h-.9zM58.8 129.8h.9v.9h-.9zM62.4 130.0h.9v.9h-.9zM51.8 120.7h.9v.9h-.9zM60.2 111.2h.9v.9h-.9zM51.2 118.1h.9v.9h-.9zM66.5 120.2h.9v.9h-.9zM59.4 122.1h.9v.9h-.9zM52.1 119.6h.9v.9h-.9zM67.0 127.8h.9v.9h-.9zM62.8 118.0h.9v.9h-.9zM53.5 129.6h.9v.9h-.9zM63.3 116.9h.9v.9h-.9zM60.9 114.6h.9v.9h-.9zM68.4 110.2h.9v.9h-.9zM58.5 111.0h.9v.9h-.9zM59.8 117.2h.9v.9h-.9zM61.0 127.6h.9v.9h-.9zM48.8 106.3h.9v.9h-.9zM71.3 121.7h.9v.9h-.9zM70.4 115.5h.9v.9h-.9zM63.2 131.4h.9v.9h-.9zM67.0 116.6h.9v.9h-.9zM66.1 115.1h.9v.9h-.9zM49.0 123.9h.9v.9h-.9zM69.9 126.3h.9v.9h-.9zM50.2 126.4h.9v.9h-.9zM64.5 116.6h.9v.9h-.9zM66.1 123.7h.9v.9h-.9zM67.0 126.0h.9v.9h-.9zM63.2 118.2h.9v.9h-.9zM62.4 116.0h.9v.9h-.9zM57.2 113.5h.9v.9h-.9zM61.4 116.9h.9v.9h-.9zM66.6 125.4h.9v.9h-.9zM53.4 133.7h.9v.9h-.9zM51.1 123.4h.9v.9h-.9zM67.6 129.6h.9v.9h-.9zM68.6 130.7h.9v.9h-.9zM58.8 116.7h.9v.9h-.9zM69.5 114.9h.9v.9h-.9zM68.7 124.2h.9v.9h-.9zM48.6 112.6h.9v.9h-.9zM56.0 120.7h.9v.9h-.9zM66.9 118.6h.9v.9h-.9zM66.3 108.2h.9v.9h-.9zM62.9 117.3h.9v.9h-.9zM51.9 123.2h.9v.9h-.9zM54.1 113.7h.9v.9h-.9zM64.1 129.2h.9v.9h-.9zM67.6 113.1h.9v.9h-.9zM66.7 126.3h.9v.9h-.9zM63.2 127.6h.9v.9h-.9zM55.3 119.4h.9v.9h-.9zM55.6 125.7h.9v.9h-.9zM54.6 122.9h.9v.9h-.9zM51.3 119.1h.9v.9h-.9zM56.8 119.1h.9v.9h-.9zM60.5 118.6h.9v.9h-.9zM57.9 104.5h.9v.9h-.9zM67.8 115.3h.9v.9h-.9zM57.7 113.8h.9v.9h-.9zM67.0 113.2h.9v.9h-.9zM63.3 128.8h.9v.9h-.9zM71.8 128.9h.9v.9h-.9zM64.1 111.0h.9v.9h-.9zM69.2 128.9h.9v.9h-.9zM65.8 126.0h.9v.9h-.9zM60.1 116.2h.9v.9h-.9zM67.6 129.6h.9v.9h-.9zM51.8 126.9h.9v.9h-.9zM61.4 126.7h.9v.9h-.9zM61.6 128.4h.9v.9h-.9zM67.2 126.7h.9v.9h-.9zM49.3 126.2h.9v.9h-.9zM60.0 111.7h.9v.9h-.9zM64.9 109.9h.9v.9h-.9zM66.3 132.8h.9v.9h-.9zM55.9 127.0h.9v.9h-.9zM63.0 125.0h.9v.9h-.9zM49.6 124.7h.9v.9h-.9zM60.6 125.7h.9v.9h-.9zM59.7 128.3h.9v.9h-.9zM61.7 125.2h.9v.9h-.9zM69.9 121.5h.9v.9h-.9zM67.1 121.9h.9v.9h-.9zM63.6 116.3h.9v.9h-.9zM65.5 129.3h.9v.9h-.9zM59.1 126.1h.9v.9h-.9zM62.9 112.0h.9v.9h-.9zM62.3 130.0h.9v.9h-.9zM56.1 107.0h.9v.9h-.9zM61.2 115.5h.9v.9h-.9zM59.7 115.6h.9v.9h-.9zM61.6 116.1h.9v.9h-.9zM53.1 119.8h.9v.9h-.9zM53.8 130.0h.9v.9h-.9zM51.2 119.7h.9v.9h-.9zM54.7 110.1h.9v.9h-.9zM72.0 104.8h.9v.9h-.9zM70.5 109.9h.9v.9h-.9zM69.4 121.5h.9v.9h-.9zM55.7 120.0h.9v.9h-.9zM52.7 121.2h.9v.9h-.9zM70.8 117.5h.9v.9h-.9zM60.8 129.1h.9v.9h-.9zM62.0 116.1h.9v.9h-.9zM55.0 117.3h.9v.9h-.9zM55.1 107.5h.9v.9h-.9zM60.7 129.2h.9v.9h-.9zM55.9 119.0h.9v.9h-.9zM64.6 125.7h.9v.9h-.9zM58.9 119.9h.9v.9h-.9zM56.2 108.3h.9v.9h-.9zM62.9 118.3h.9v.9h-.9zM65.7 127.1h.9v.9h-.9zM71.9 110.6h.9v.9h-.9zM71.3 120.4h.9v.9h-.9zM59.0 118.0h.9v.9h-.9zM56.9 117.7h.9v.9h-.9zM60.2 113.3h.9v.9h-.9zM62.6 117.4h.9v.9h-.9zM72.3 114.4h.9v.9h-.9zM58.6 116.2h.9v.9h-.9zM58.0 125.6h.9v.9h-.9zM64.0 114.9h.9v.9h-.9zM58.8 120.9h.9v.9h-.9zM56.8 120.0h.9v.9h-.9zM54.5 114.9h.9v.9h-.9zM60.1 112.7h.9v.9h-.9zM62.8 118.8h.9v.9h-.9zM53.0 115.8h.9v.9h-.9zM56.2 119.1h.9v.9h-.9zM60.6 118.7h.9v.9h-.9zM53.4 130.7h.9v.9h-.9zM66.3 121.0h.9v.9h-.9zM66.7 122.6h.9v.9h-.9zM57.8 120.9h.9v.9h-.9zM67.3 117.4h.9v.9h-.9zM62.8 128.0h.9v.9h-.9zM68.9 124.9h.9v.9h-.9zM71.2 121.9h.9v.9h-.9zM63.3 115.7h.9v.9h-.9zM60.5 130.3h.9v.9h-.9zM56.2 120.2h.9v.9h-.9zM54.0 120.4h.9v.9h-.9zM56.9 124.2h.9v.9h-.9zM58.8 115.9h.9v.9h-.9zM57.6 119.3h.9v.9h-.9zM56.0 127.0h.9v.9h-.9zM64.6 121.3h.9v.9h-.9zM51.1 124.0h.9v.9h-.9zM50.4 121.6h.9v.9h-.9zM60.1 115.9h.9v.9h-.9zM53.7 115.2h.9v.9h-.9zM58.2 127.2h.9v.9h-.9zM62.7 127.9h.9v.9h-.9zM50.8 112.3h.9v.9h-.9zM57.6 121.4h.9v.9h-.9zM66.9 111.6h.9v.9h-.9zM61.8 120.0h.9v.9h-.9zM64.6 121.5h.9v.9h-.9zM55.9 113.9h.9v.9h-.9zM49.1 117.3h.9v.9h-.9zM71.7 117.2h.9v.9h-.9zM64.1 118.7h.9v.9h-.9zM64.7 120.4h.9v.9h-.9zM56.0 130.0h.9v.9h-.9zM57.8 110.5h.9v.9h-.9zM57.3 124.1h.9v.9h-.9zM51.7 125.9h.9v.9h-.9zM55.1 125.0h.9v.9h-.9zM60.5 123.1h.9v.9h-.9zM59.3 119.5h.9v.9h-.9zM55.3 117.0h.9v.9h-.9zM61.9 124.2h.9v.9h-.9zM64.3 127.4h.9v.9h-.9zM68.3 107.2h.9v.9h-.9zM55.9 119.0h.9v.9h-.9zM55.1 127.7h.9v.9h-.9zM65.1 119.4h.9v.9h-.9zM60.6 129.3h.9v.9h-.9zM57.2 117.9h.9v.9h-.9zM66.2 123.6h.9v.9h-.9zM69.9 122.9h.9v.9h-.9zM65.1 116.3h.9v.9h-.9zM52.9 120.1h.9v.9h-.9zM66.7 120.7h.9v.9h-.9zM58.1 128.0h.9v.9h-.9zM59.4 127.2h.9v.9h-.9zM66.4 123.7h.9v.9h-.9zM61.5 122.2h.9v.9h-.9zM60.2 128.0h.9v.9h-.9zM48.1 118.3h.9v.9h-.9zM64.4 114.1h.9v.9h-.9zM58.9 115.2h.9v.9h-.9zM62.9 126.4h.9v.9h-.9zM70.1 123.8h.9v.9h-.9zM54.5 122.0h.9v.9h-.9zM63.8 130.3h.9v.9h-.9zM62.9 123.8h.9v.9h-.9zM66.0 123.0h.9v.9h-.9zM55.1 122.7h.9v.9h-.9zM68.3 119.4h.9v.9h-.9zM59.9 111.5h.9v.9h-.9zM68.0 116.6h.9v.9h-.9zM54.4 117.0h.9v.9h-.9zM53.5 118.4h.9v.9h-.9zM68.8 125.9h.9v.9h-.9zM69.9 130.8h.9v.9h-.9zM53.3 123.6h.9v.9h-.9zM49.6 110.0h.9v.9h-.9zM63.0 117.8h.9v.9h-.9zM52.6 122.9h.9v.9h-.9zM59.5 121.1h.9v.9h-.9zM64.2 126.9h.9v.9h-.9zM61.0 118.5h.9v.9h-.9zM54.9 108.4h.9v.9h-.9zM56.5 127.3h.9v.9h-.9zM58.6 107.4h.9v.9h-.9zM65.6 127.6h.9v.9h-.9zM51.3 108.6h.9v.9h-.9zM60.8 125.3h.9v.9h-.9zM51.6 117.7h.9v.9h-.9zM54.1 111.7h.9v.9h-.9zM50.2 121.2h.9v.9h-.9zM57.0 115.3h.9v.9h-.9zM52.9 119.2h.9v.9h-.9zM51.5 122.8h.9v.9h-.9zM48.8 120.8h.9v.9h-.9zM58.3 126.7h.9v.9h-.9zM51.8 115.5h.9v.9h-.9zM92.6 81.7h.9v.9h-.9zM94.3 79.8h.9v.9h-.9zM94.8 79.6h.9v.9h-.9zM92.1 82.6h.9v.9h-.9zM92.2 81.9h.9v.9h-.9zM95.5 82.6h.9v.9h-.9zM99.4 79.4h.9v.9h-.9zM92.3 82.2h.9v.9h-.9zM94.7 80.5h.9v.9h-.9zM96.1 78.3h.9v.9h-.9zM92.8 79.9h.9v.9h-.9zM91.3 83.9h.9v.9h-.9zM92.6 82.2h.9v.9h-.9zM93.2 82.1h.9v.9h-.9zM91.5 83.5h.9v.9h-.9zM88.0 84.6h.9v.9h-.9zM89.9 81.6h.9v.9h-.9zM93.0 80.2h.9v.9h-.9zM90.3 85.9h.9v.9h-.9zM91.0 81.3h.9v.9h-.9zM93.6 81.4h.9v.9h-.9zM93.2 82.8h.9v.9h-.9zM89.1 80.8h.9v.9h-.9zM89.0 83.4h.9v.9h-.9zM95.6 81.8h.9v.9h-.9zM93.4 79.9h.9v.9h-.9zM97.2 79.4h.9v.9h-.9zM91.3 84.4h.9v.9h-.9zM93.5 80.8h.9v.9h-.9zM88.2 83.9h.9v.9h-.9zM89.1 84.2h.9v.9h-.9zM92.4 81.7h.9v.9h-.9zM92.1 81.6h.9v.9h-.9zM95.2 80.3h.9v.9h-.9zM95.3 80.7h.9v.9h-.9zM92.9 81.5h.9v.9h-.9zM93.7 81.0h.9v.9h-.9zM88.1 84.5h.9v.9h-.9zM94.9 80.3h.9v.9h-.9zM91.2 82.5h.9v.9h-.9zM93.6 81.1h.9v.9h-.9zM93.0 82.2h.9v.9h-.9zM91.1 80.9h.9v.9h-.9zM95.1 77.4h.9v.9h-.9zM91.4 83.9h.9v.9h-.9zM89.5 83.9h.9v.9h-.9zM89.8 83.4h.9v.9h-.9zM92.8 80.0h.9v.9h-.9zM95.3 79.7h.9v.9h-.9zM91.4 84.5h.9v.9h-.9zM94.8 81.1h.9v.9h-.9zM92.1 81.3h.9v.9h-.9zM98.0 78.0h.9v.9h-.9zM97.4 78.8h.9v.9h-.9zM93.6 81.1h.9v.9h-.9zM94.0 81.7h.9v.9h-.9zM96.5 80.7h.9v.9h-.9zM98.2 78.8h.9v.9h-.9zM91.7 81.5h.9v.9h-.9zM98.3 79.4h.9v.9h-.9zM95.6 81.1h.9v.9h-.9zM91.0 82.8h.9v.9h-.9zM93.8 82.4h.9v.9h-.9zM91.7 81.4h.9v.9h-.9zM93.0 82.3h.9v.9h-.9zM92.8 82.0h.9v.9h-.9zM93.6 81.2h.9v.9h-.9zM95.3 78.7h.9v.9h-.9zM89.6 82.9h.9v.9h-.9zM91.9 80.6h.9v.9h-.9zM92.4 81.1h.9v.9h-.9zM84.0 85.6h.9v.9h-.9zM96.6 80.7h.9v.9h-.9zM88.9 81.6h.9v.9h-.9zM93.0 82.7h.9v.9h-.9zM97.2 80.1h.9v.9h-.9zM94.3 79.8h.9v.9h-.9zM94.1 80.5h.9v.9h-.9zM98.5 81.1h.9v.9h-.9zM94.2 80.1h.9v.9h-.9zM90.7 82.9h.9v.9h-.9zM89.2 83.5h.9v.9h-.9zM92.3 82.2h.9v.9h-.9zM92.7 81.6h.9v.9h-.9zM94.4 82.8h.9v.9h-.9zM95.0 79.9h.9v.9h-.9zM94.6 81.4h.9v.9h-.9zM92.6 83.0h.9v.9h-.9zM97.3 79.5h.9v.9h-.9zM93.6 81.0h.9v.9h-.9zM91.8 80.1h.9v.9h-.9zM92.5 82.1h.9v.9h-.9zM97.4 79.1h.9v.9h-.9zM88.5 83.8h.9v.9h-.9zM91.4 82.3h.9v.9h-.9zM95.2 79.4h.9v.9h-.9zM95.1 82.0h.9v.9h-.9zM90.5 82.3h.9v.9h-.9zM90.3 83.1h.9v.9h-.9zM95.5 80.7h.9v.9h-.9zM95.2 78.6h.9v.9h-.9zM88.6 82.1h.9v.9h-.9zM90.9 81.1h.9v.9h-.9zM93.3 81.3h.9v.9h-.9zM93.5 78.9h.9v.9h-.9zM93.6 81.3h.9v.9h-.9zM95.9 80.0h.9v.9h-.9zM90.0 82.6h.9v.9h-.9zM91.9 81.0h.9v.9h-.9zM92.5 82.7h.9v.9h-.9zM86.5 86.5h.9v.9h-.9zM92.7 83.5h.9v.9h-.9zM96.7 80.8h.9v.9h-.9zM94.6 80.1h.9v.9h-.9zM90.2 83.6h.9v.9h-.9zM88.7 82.5h.9v.9h-.9zM92.2 81.5h.9v.9h-.9zM93.1 79.5h.9v.9h-.9zM90.6 83.3h.9v.9h-.9zM95.5 78.7h.9v.9h-.9zM96.5 81.3h.9v.9h-.9zM93.4 81.1h.9v.9h-.9zM91.8 82.4h.9v.9h-.9zM92.9 82.6h.9v.9h-.9zM92.7 82.9h.9v.9h-.9zM96.7 79.6h.9v.9h-.9zM94.3 81.1h.9v.9h-.9zM93.0 81.0h.9v.9h-.9zM94.7 81.8h.9v.9h-.9zM94.2 79.6h.9v.9h-.9zM92.0 83.4h.9v.9h-.9zM94.1 81.2h.9v.9h-.9zM95.6 80.0h.9v.9h-.9zM90.4 84.1h.9v.9h-.9zM92.7 81.6h.9v.9h-.9zM98.1 79.2h.9v.9h-.9zM92.4 83.2h.9v.9h-.9zM87.6 85.2h.9v.9h-.9zM89.9 82.2h.9v.9h-.9zM86.4 88.3h.9v.9h-.9zM85.9 88.1h.9v.9h-.9zM88.6 88.4h.9v.9h-.9zM90.5 85.7h.9v.9h-.9zM85.4 85.5h.9v.9h-.9zM91.5 84.9h.9v.9h-.9zM88.7 86.6h.9v.9h-.9zM86.4 85.1h.9v.9h-.9zM88.6 87.7h.9v.9h-.9zM89.1 84.7h.9v.9h-.9zM91.7 85.5h.9v.9h-.9zM82.9 85.6h.9v.9h-.9zM87.4 87.8h.9v.9h-.9zM89.5 84.3h.9v.9h-.9zM90.3 83.1h.9v.9h-.9zM88.6 86.8h.9v.9h-.9zM88.9 87.0h.9v.9h-.9zM87.1 83.9h.9v.9h-.9zM86.1 89.1h.9v.9h-.9zM91.5 87.5h.9v.9h-.9zM87.5 86.3h.9v.9h-.9zM82.1 83.8h.9v.9h-.9zM92.7 84.8h.9v.9h-.9zM88.3 83.8h.9v.9h-.9zM85.4 88.1h.9v.9h-.9z" fill="#111"/>
<path d="M52.5 101.3h.9v.9h-.9zM71.2 89.4h.9v.9h-.9zM58.1 101.3h.9v.9h-.9zM56.3 98.3h.9v.9h-.9zM59.2 94.2h.9v.9h-.9zM72.5 93.0h.9v.9h-.9zM59.9 98.6h.9v.9h-.9zM70.3 94.6h.9v.9h-.9zM66.8 98.1h.9v.9h-.9zM58.1 95.5h.9v.9h-.9zM60.2 89.5h.9v.9h-.9zM67.9 86.7h.9v.9h-.9zM67.6 100.7h.9v.9h-.9zM59.4 90.4h.9v.9h-.9zM58.5 97.8h.9v.9h-.9zM64.8 96.7h.9v.9h-.9zM66.4 91.7h.9v.9h-.9zM65.0 95.9h.9v.9h-.9zM57.3 102.0h.9v.9h-.9zM60.3 86.3h.9v.9h-.9zM56.6 95.4h.9v.9h-.9zM58.4 97.1h.9v.9h-.9zM64.2 102.7h.9v.9h-.9zM53.9 96.7h.9v.9h-.9zM67.5 99.3h.9v.9h-.9zM53.9 90.8h.9v.9h-.9zM57.0 94.7h.9v.9h-.9zM67.5 87.2h.9v.9h-.9zM63.0 98.7h.9v.9h-.9zM63.6 97.8h.9v.9h-.9zM69.9 97.9h.9v.9h-.9zM65.6 98.4h.9v.9h-.9zM68.3 93.4h.9v.9h-.9zM58.2 89.2h.9v.9h-.9zM55.5 98.0h.9v.9h-.9zM61.8 93.5h.9v.9h-.9zM55.4 90.3h.9v.9h-.9zM52.7 91.7h.9v.9h-.9zM60.0 93.9h.9v.9h-.9zM50.8 93.4h.9v.9h-.9zM54.2 96.0h.9v.9h-.9zM72.1 98.8h.9v.9h-.9zM64.7 90.4h.9v.9h-.9zM60.4 91.3h.9v.9h-.9zM55.5 93.0h.9v.9h-.9zM54.8 100.2h.9v.9h-.9zM53.3 88.2h.9v.9h-.9zM51.0 86.5h.9v.9h-.9zM53.5 100.7h.9v.9h-.9zM61.6 88.4h.9v.9h-.9zM58.2 93.6h.9v.9h-.9zM62.2 91.5h.9v.9h-.9zM61.0 100.3h.9v.9h-.9zM61.0 97.5h.9v.9h-.9zM66.4 101.1h.9v.9h-.9zM50.8 94.3h.9v.9h-.9zM54.7 91.5h.9v.9h-.9zM66.3 90.2h.9v.9h-.9zM59.0 95.5h.9v.9h-.9zM55.4 90.7h.9v.9h-.9zM72.3 87.7h.9v.9h-.9zM53.2 90.1h.9v.9h-.9zM62.2 90.7h.9v.9h-.9zM57.2 101.4h.9v.9h-.9zM69.2 95.4h.9v.9h-.9zM64.2 99.5h.9v.9h-.9zM70.1 88.7h.9v.9h-.9zM67.7 92.7h.9v.9h-.9zM55.0 95.6h.9v.9h-.9zM58.6 89.1h.9v.9h-.9zM49.6 89.3h.9v.9h-.9zM64.2 102.1h.9v.9h-.9zM56.6 94.5h.9v.9h-.9zM61.8 88.5h.9v.9h-.9zM53.6 95.6h.9v.9h-.9zM57.9 88.6h.9v.9h-.9zM62.5 93.4h.9v.9h-.9zM66.6 95.0h.9v.9h-.9zM58.0 95.8h.9v.9h-.9zM58.9 91.0h.9v.9h-.9zM57.4 99.5h.9v.9h-.9zM64.2 102.7h.9v.9h-.9zM49.0 92.6h.9v.9h-.9zM57.3 96.0h.9v.9h-.9zM57.1 91.9h.9v.9h-.9zM65.1 96.1h.9v.9h-.9zM66.5 91.6h.9v.9h-.9zM65.4 90.6h.9v.9h-.9zM67.3 93.7h.9v.9h-.9zM54.8 92.8h.9v.9h-.9zM55.0 96.2h.9v.9h-.9zM61.1 95.2h.9v.9h-.9zM61.6 101.8h.9v.9h-.9zM61.8 92.7h.9v.9h-.9zM58.8 94.2h.9v.9h-.9zM56.4 91.5h.9v.9h-.9zM54.0 102.1h.9v.9h-.9zM59.9 100.7h.9v.9h-.9zM58.4 95.4h.9v.9h-.9zM58.9 97.8h.9v.9h-.9zM65.4 96.4h.9v.9h-.9zM55.6 90.3h.9v.9h-.9zM70.8 93.3h.9v.9h-.9zM67.1 98.2h.9v.9h-.9zM62.6 98.3h.9v.9h-.9zM58.9 86.5h.9v.9h-.9zM51.3 97.4h.9v.9h-.9zM62.5 93.6h.9v.9h-.9zM52.4 86.4h.9v.9h-.9zM57.9 86.3h.9v.9h-.9zM65.8 101.9h.9v.9h-.9zM56.1 89.8h.9v.9h-.9zM58.8 100.8h.9v.9h-.9zM64.0 98.5h.9v.9h-.9zM61.4 99.0h.9v.9h-.9zM69.4 88.6h.9v.9h-.9zM57.0 86.7h.9v.9h-.9zM70.5 102.8h.9v.9h-.9zM64.9 87.8h.9v.9h-.9zM61.1 93.6h.9v.9h-.9zM60.5 93.9h.9v.9h-.9zM63.4 92.6h.9v.9h-.9zM65.6 96.4h.9v.9h-.9zM58.1 94.3h.9v.9h-.9zM57.1 99.9h.9v.9h-.9zM58.2 96.8h.9v.9h-.9zM57.4 86.1h.9v.9h-.9zM65.9 88.7h.9v.9h-.9zM64.4 97.5h.9v.9h-.9zM49.2 89.3h.9v.9h-.9zM56.7 90.1h.9v.9h-.9zM52.3 99.4h.9v.9h-.9zM58.4 97.3h.9v.9h-.9zM57.2 96.8h.9v.9h-.9zM55.1 94.8h.9v.9h-.9zM63.8 95.3h.9v.9h-.9zM57.0 88.5h.9v.9h-.9zM61.1 97.1h.9v.9h-.9zM58.3 90.4h.9v.9h-.9zM58.0 97.0h.9v.9h-.9zM60.8 90.8h.9v.9h-.9zM69.0 93.5h.9v.9h-.9zM54.9 93.7h.9v.9h-.9zM61.1 91.6h.9v.9h-.9zM59.7 86.9h.9v.9h-.9zM58.5 99.7h.9v.9h-.9zM72.8 99.2h.9v.9h-.9zM61.8 102.1h.9v.9h-.9zM67.0 94.3h.9v.9h-.9zM61.7 96.1h.9v.9h-.9zM62.0 96.2h.9v.9h-.9zM60.4 95.0h.9v.9h-.9zM49.1 99.1h.9v.9h-.9zM65.6 95.6h.9v.9h-.9zM52.2 101.2h.9v.9h-.9zM62.9 97.5h.9v.9h-.9zM66.1 90.7h.9v.9h-.9zM56.1 90.0h.9v.9h-.9zM55.1 94.4h.9v.9h-.9zM50.6 88.7h.9v.9h-.9zM63.8 94.6h.9v.9h-.9zM54.9 91.7h.9v.9h-.9zM60.2 91.5h.9v.9h-.9zM66.1 94.7h.9v.9h-.9zM60.1 95.1h.9v.9h-.9zM64.6 92.2h.9v.9h-.9zM67.3 97.8h.9v.9h-.9zM61.0 95.3h.9v.9h-.9zM63.4 101.1h.9v.9h-.9zM66.1 97.3h.9v.9h-.9zM65.7 95.7h.9v.9h-.9zM68.1 94.8h.9v.9h-.9zM60.7 88.0h.9v.9h-.9zM58.7 89.7h.9v.9h-.9zM49.8 98.3h.9v.9h-.9zM60.4 92.9h.9v.9h-.9zM50.3 111.2h.9v.9h-.9zM55.7 111.2h.9v.9h-.9zM64.5 110.6h.9v.9h-.9zM61.8 111.1h.9v.9h-.9zM56.2 109.2h.9v.9h-.9zM49.0 108.7h.9v.9h-.9zM54.9 109.1h.9v.9h-.9zM65.0 111.5h.9v.9h-.9zM63.2 114.3h.9v.9h-.9zM59.9 109.7h.9v.9h-.9zM51.3 112.1h.9v.9h-.9zM67.7 114.0h.9v.9h-.9zM59.5 112.5h.9v.9h-.9zM68.2 110.6h.9v.9h-.9zM60.7 110.7h.9v.9h-.9zM61.6 108.1h.9v.9h-.9zM65.2 107.4h.9v.9h-.9zM54.7 111.4h.9v.9h-.9zM56.2 109.1h.9v.9h-.9zM60.0 109.5h.9v.9h-.9zM63.1 110.8h.9v.9h-.9zM57.0 113.7h.9v.9h-.9zM72.2 107.6h.9v.9h-.9zM60.6 106.9h.9v.9h-.9zM67.0 108.7h.9v.9h-.9zM52.7 115.0h.9v.9h-.9zM66.2 106.6h.9v.9h-.9zM67.9 110.8h.9v.9h-.9zM56.3 109.0h.9v.9h-.9zM54.2 110.5h.9v.9h-.9zM60.3 112.8h.9v.9h-.9zM60.6 104.4h.9v.9h-.9zM54.6 115.4h.9v.9h-.9zM67.7 109.4h.9v.9h-.9zM59.1 109.4h.9v.9h-.9zM66.0 107.5h.9v.9h-.9zM61.6 115.1h.9v.9h-.9zM63.2 107.2h.9v.9h-.9zM49.4 114.4h.9v.9h-.9zM61.7 112.3h.9v.9h-.9zM58.2 107.0h.9v.9h-.9zM65.8 106.4h.9v.9h-.9zM53.8 104.5h.9v.9h-.9zM52.4 112.5h.9v.9h-.9zM72.3 112.4h.9v.9h-.9zM54.1 108.7h.9v.9h-.9zM58.8 104.7h.9v.9h-.9zM53.8 106.8h.9v.9h-.9zM67.1 111.6h.9v.9h-.9zM57.8 108.9h.9v.9h-.9zM61.9 107.3h.9v.9h-.9zM64.5 113.7h.9v.9h-.9zM62.4 111.8h.9v.9h-.9zM61.4 104.9h.9v.9h-.9zM53.0 112.7h.9v.9h-.9zM67.1 112.9h.9v.9h-.9zM65.6 110.7h.9v.9h-.9zM50.0 107.3h.9v.9h-.9zM50.8 110.4h.9v.9h-.9zM64.9 112.9h.9v.9h-.9zM50.6 110.5h.9v.9h-.9zM64.8 108.9h.9v.9h-.9zM65.7 110.7h.9v.9h-.9zM67.2 110.7h.9v.9h-.9zM58.8 111.9h.9v.9h-.9zM65.2 110.9h.9v.9h-.9zM56.9 106.9h.9v.9h-.9zM57.4 107.8h.9v.9h-.9zM61.3 110.6h.9v.9h-.9zM59.4 109.9h.9v.9h-.9zM61.1 116.0h.9v.9h-.9zM68.0 107.7h.9v.9h-.9zM62.8 108.7h.9v.9h-.9zM59.3 109.0h.9v.9h-.9zM55.7 104.7h.9v.9h-.9zM67.9 106.4h.9v.9h-.9zM63.3 108.4h.9v.9h-.9zM61.8 106.8h.9v.9h-.9zM58.3 109.5h.9v.9h-.9zM64.3 109.8h.9v.9h-.9zM61.2 111.3h.9v.9h-.9zM57.0 105.8h.9v.9h-.9zM56.8 108.3h.9v.9h-.9zM56.5 108.3h.9v.9h-.9zM62.0 112.1h.9v.9h-.9zM55.2 106.0h.9v.9h-.9zM72.9 114.0h.9v.9h-.9zM54.2 110.7h.9v.9h-.9zM63.5 108.6h.9v.9h-.9zM48.9 110.7h.9v.9h-.9zM63.9 109.9h.9v.9h-.9zM56.4 112.1h.9v.9h-.9zM59.4 105.5h.9v.9h-.9zM60.4 104.9h.9v.9h-.9zM66.3 111.7h.9v.9h-.9zM53.0 110.7h.9v.9h-.9zM49.2 109.2h.9v.9h-.9zM50.1 109.6h.9v.9h-.9zM56.1 110.4h.9v.9h-.9zM62.4 111.5h.9v.9h-.9zM67.6 112.6h.9v.9h-.9zM64.8 106.1h.9v.9h-.9zM64.9 113.7h.9v.9h-.9zM57.2 109.6h.9v.9h-.9zM55.3 109.5h.9v.9h-.9zM57.4 110.6h.9v.9h-.9zM54.5 109.5h.9v.9h-.9zM51.6 108.4h.9v.9h-.9zM50.2 112.5h.9v.9h-.9zM50.9 112.6h.9v.9h-.9zM56.9 108.7h.9v.9h-.9zM67.9 110.3h.9v.9h-.9zM57.0 104.4h.9v.9h-.9zM60.3 108.7h.9v.9h-.9zM55.6 106.7h.9v.9h-.9zM68.9 109.3h.9v.9h-.9zM60.9 108.9h.9v.9h-.9zM51.4 108.4h.9v.9h-.9zM71.0 109.6h.9v.9h-.9zM60.7 111.9h.9v.9h-.9zM69.2 111.1h.9v.9h-.9zM56.5 108.3h.9v.9h-.9zM65.4 109.6h.9v.9h-.9zM60.8 114.8h.9v.9h-.9zM60.3 104.6h.9v.9h-.9zM51.7 111.0h.9v.9h-.9zM50.9 108.5h.9v.9h-.9zM49.5 108.4h.9v.9h-.9zM56.7 112.3h.9v.9h-.9zM69.2 109.2h.9v.9h-.9zM62.3 112.3h.9v.9h-.9zM64.1 115.7h.9v.9h-.9zM66.9 112.6h.9v.9h-.9zM65.2 106.5h.9v.9h-.9zM55.6 109.5h.9v.9h-.9zM60.5 110.0h.9v.9h-.9zM62.0 110.0h.9v.9h-.9zM65.7 112.2h.9v.9h-.9zM53.7 111.9h.9v.9h-.9zM62.6 110.2h.9v.9h-.9zM53.8 108.5h.9v.9h-.9zM52.1 107.9h.9v.9h-.9zM60.1 107.5h.9v.9h-.9zM66.6 113.8h.9v.9h-.9zM67.6 107.2h.9v.9h-.9zM57.6 113.7h.9v.9h-.9zM57.9 105.1h.9v.9h-.9zM55.0 104.6h.9v.9h-.9zM60.1 104.0h.9v.9h-.9zM57.6 114.0h.9v.9h-.9zM67.7 115.1h.9v.9h-.9zM59.2 110.3h.9v.9h-.9zM61.4 112.4h.9v.9h-.9zM57.0 114.3h.9v.9h-.9zM62.1 114.5h.9v.9h-.9zM63.2 112.6h.9v.9h-.9zM54.7 108.2h.9v.9h-.9zM50.8 108.7h.9v.9h-.9zM58.6 113.2h.9v.9h-.9zM59.0 114.9h.9v.9h-.9zM58.0 115.8h.9v.9h-.9zM53.4 108.0h.9v.9h-.9zM61.2 107.3h.9v.9h-.9zM54.6 112.7h.9v.9h-.9zM63.7 109.7h.9v.9h-.9zM54.7 110.9h.9v.9h-.9zM70.4 110.6h.9v.9h-.9zM66.0 109.0h.9v.9h-.9zM63.9 112.0h.9v.9h-.9zM61.7 105.4h.9v.9h-.9zM51.8 108.9h.9v.9h-.9zM60.5 105.0h.9v.9h-.9zM52.3 112.1h.9v.9h-.9zM67.0 107.6h.9v.9h-.9zM54.9 107.0h.9v.9h-.9zM59.3 113.9h.9v.9h-.9zM49.8 109.5h.9v.9h-.9zM56.9 108.5h.9v.9h-.9zM51.2 108.3h.9v.9h-.9zM52.1 111.2h.9v.9h-.9zM60.1 104.2h.9v.9h-.9zM64.3 111.8h.9v.9h-.9zM56.3 106.9h.9v.9h-.9zM57.4 105.0h.9v.9h-.9zM56.7 107.2h.9v.9h-.9zM58.4 109.6h.9v.9h-.9zM58.9 110.6h.9v.9h-.9zM56.9 109.8h.9v.9h-.9zM66.9 113.2h.9v.9h-.9zM61.9 115.2h.9v.9h-.9zM61.3 105.9h.9v.9h-.9zM59.3 111.4h.9v.9h-.9zM67.3 107.5h.9v.9h-.9zM54.1 112.9h.9v.9h-.9zM68.0 107.9h.9v.9h-.9zM62.1 115.4h.9v.9h-.9zM62.0 109.6h.9v.9h-.9zM64.2 110.3h.9v.9h-.9zM56.5 104.8h.9v.9h-.9zM59.0 109.4h.9v.9h-.9zM67.4 105.0h.9v.9h-.9zM69.8 110.0h.9v.9h-.9zM68.1 105.9h.9v.9h-.9zM62.2 114.7h.9v.9h-.9zM57.4 112.0h.9v.9h-.9zM49.9 104.0h.9v.9h-.9zM61.4 106.0h.9v.9h-.9zM64.5 105.1h.9v.9h-.9zM70.2 106.4h.9v.9h-.9zM59.7 110.8h.9v.9h-.9zM53.1 114.2h.9v.9h-.9zM61.0 111.6h.9v.9h-.9zM58.1 112.7h.9v.9h-.9zM70.1 108.8h.9v.9h-.9zM57.8 111.7h.9v.9h-.9zM70.5 106.5h.9v.9h-.9zM64.1 108.9h.9v.9h-.9zM57.4 113.1h.9v.9h-.9zM54.2 105.6h.9v.9h-.9zM64.4 109.8h.9v.9h-.9zM57.9 109.3h.9v.9h-.9zM63.2 108.4h.9v.9h-.9zM65.1 111.5h.9v.9h-.9zM70.1 114.9h.9v.9h-.9zM65.8 109.0h.9v.9h-.9zM60.6 107.5h.9v.9h-.9zM63.6 115.3h.9v.9h-.9zM50.2 106.6h.9v.9h-.9zM57.0 105.9h.9v.9h-.9zM50.9 107.8h.9v.9h-.9zM68.8 112.8h.9v.9h-.9zM60.0 110.0h.9v.9h-.9zM48.1 112.7h.9v.9h-.9zM62.8 105.5h.9v.9h-.9zM93.6 80.9h.9v.9h-.9zM88.3 91.0h.9v.9h-.9zM97.6 81.6h.9v.9h-.9zM88.8 80.2h.9v.9h-.9zM88.1 81.0h.9v.9h-.9zM93.5 87.8h.9v.9h-.9zM88.4 88.0h.9v.9h-.9zM87.5 87.2h.9v.9h-.9zM84.2 84.4h.9v.9h-.9zM91.9 86.4h.9v.9h-.9zM91.7 82.6h.9v.9h-.9zM86.6 91.2h.9v.9h-.9zM90.8 82.0h.9v.9h-.9zM87.5 87.0h.9v.9h-.9zM92.8 85.2h.9v.9h-.9zM87.3 86.5h.9v.9h-.9zM87.5 89.3h.9v.9h-.9zM92.6 84.5h.9v.9h-.9zM88.4 84.0h.9v.9h-.9zM88.7 86.3h.9v.9h-.9zM89.0 83.9h.9v.9h-.9zM84.2 83.1h.9v.9h-.9zM86.2 86.9h.9v.9h-.9zM85.4 80.2h.9v.9h-.9zM80.7 84.6h.9v.9h-.9zM93.6 84.9h.9v.9h-.9zM91.3 83.0h.9v.9h-.9zM97.6 79.6h.9v.9h-.9zM89.4 87.2h.9v.9h-.9zM90.8 85.1h.9v.9h-.9zM86.8 84.5h.9v.9h-.9zM94.8 88.3h.9v.9h-.9zM94.2 86.4h.9v.9h-.9zM90.9 88.8h.9v.9h-.9zM92.5 85.1h.9v.9h-.9zM87.8 85.3h.9v.9h-.9zM87.2 84.0h.9v.9h-.9zM89.2 84.1h.9v.9h-.9zM86.3 86.6h.9v.9h-.9zM94.4 81.5h.9v.9h-.9zM88.6 82.9h.9v.9h-.9zM84.7 88.9h.9v.9h-.9zM85.1 85.1h.9v.9h-.9zM92.2 86.8h.9v.9h-.9zM95.5 83.1h.9v.9h-.9zM88.4 84.2h.9v.9h-.9zM87.7 82.8h.9v.9h-.9zM87.0 82.8h.9v.9h-.9zM96.1 85.9h.9v.9h-.9zM89.5 78.8h.9v.9h-.9zM84.6 85.4h.9v.9h-.9zM103.1 77.8h.9v.9h-.9zM86.2 88.0h.9v.9h-.9zM82.5 88.5h.9v.9h-.9zM85.8 84.1h.9v.9h-.9zM90.6 89.2h.9v.9h-.9zM87.6 86.6h.9v.9h-.9zM96.7 80.2h.9v.9h-.9zM95.4 84.4h.9v.9h-.9zM92.7 84.5h.9v.9h-.9zM95.7 87.6h.9v.9h-.9zM94.2 83.1h.9v.9h-.9zM93.6 84.9h.9v.9h-.9zM86.5 89.3h.9v.9h-.9zM97.4 81.6h.9v.9h-.9zM100.1 85.3h.9v.9h-.9zM88.5 84.3h.9v.9h-.9zM87.3 87.8h.9v.9h-.9zM96.1 86.6h.9v.9h-.9zM88.1 80.5h.9v.9h-.9zM85.8 91.8h.9v.9h-.9zM85.1 89.1h.9v.9h-.9zM94.1 85.6h.9v.9h-.9zM83.0 91.0h.9v.9h-.9zM82.1 86.7h.9v.9h-.9zM86.5 89.6h.9v.9h-.9zM93.2 78.2h.9v.9h-.9z" fill="#3a3a3a"/>
<path d="M115.0 125.0h1.3v1.3h-1.3zM135.0 123.0h1.3v1.3h-1.3zM146.5 119.5h1.3v1.3h-1.3zM129.5 131.0h1.3v1.3h-1.3zM125.0 89.5h1.3v1.3h-1.3zM112.8 86.3h1.3v1.3h-1.3zM110.5 88.0h1.3v1.3h-1.3zM120.0 82.0h1.3v1.3h-1.3zM140.0 127.0h1.3v1.3h-1.3zM101.0 124.0h1.3v1.3h-1.3zM92.0 121.0h1.3v1.3h-1.3z" fill="#bbb"/></g>
<line x1="38.5" y1="32.5" x2="158" y2="32.5" stroke="#aaa" stroke-width="1.1"/>
<line x1="158" y1="32.5" x2="158" y2="135.5" stroke="#666" stroke-width="1.3"/>
<line x1="47.2" y1="32.5" x2="47.2" y2="135.5" stroke="#888" stroke-width="1.2"/>
<line x1="47.2" y1="135" x2="158" y2="135" stroke="#707070" stroke-width="1.2"/>
<line x1="74.2" y1="32.5" x2="74.2" y2="135" stroke="#444" stroke-width="1.5"/>
<line x1="47.2" y1="103.4" x2="158" y2="103.4" stroke="#222" stroke-width="1.4"/>
<rect x="78.7" y="73.8" width="27.4" height="22.8" fill="none" stroke="#707070" stroke-width="1.2"/>
<path d="M45.0 135.0H47.2M45.9 127.3H47.2M45.9 122.8H47.2M45.9 119.6H47.2M45.9 117.1H47.2M45.9 115.1H47.2M45.9 113.3H47.2M45.9 111.9H47.2M45.9 110.5H47.2M45.0 109.4H47.2M45.9 101.7H47.2M45.9 97.1H47.2M45.9 93.9H47.2M45.9 91.5H47.2M45.9 89.4H47.2M45.9 87.7H47.2M45.9 86.2H47.2M45.9 84.9H47.2M45.0 83.8H47.2M45.9 76.0H47.2M45.9 71.5H47.2M45.9 68.3H47.2M45.9 65.8H47.2M45.9 63.8H47.2M45.9 62.1H47.2M45.9 60.6H47.2M45.9 59.3H47.2M45.0 58.1H47.2M45.9 50.4H47.2M45.9 45.9H47.2M45.9 42.7H47.2M45.9 40.2H47.2M45.9 38.2H47.2M45.9 36.5H47.2M45.9 35.0H47.2M45.9 33.7H47.2M45.0 32.5H47.2" stroke="#666" stroke-width="0.9" fill="none"/>
<path d="M47.2 135V137.2M55.5 135V136.3M60.4 135V136.3M63.9 135V136.3M66.6 135V136.3M68.8 135V136.3M70.6 135V136.3M72.2 135V136.3M73.6 135V136.3M74.9 135V137.2M83.2 135V136.3M88.1 135V136.3M91.6 135V136.3M94.3 135V136.3M96.5 135V136.3M98.3 135V136.3M99.9 135V136.3M101.3 135V136.3M102.6 135V137.2M110.9 135V136.3M115.8 135V136.3M119.3 135V136.3M122.0 135V136.3M124.2 135V136.3M126.0 135V136.3M127.6 135V136.3M129.0 135V136.3M130.3 135V137.2M138.6 135V136.3M143.5 135V136.3M147.0 135V136.3M149.7 135V136.3M151.9 135V136.3M153.7 135V136.3M155.3 135V136.3M156.7 135V136.3M158 135V137.2" stroke="#666" stroke-width="0.9" fill="none"/>
<text x="38.9" y="31.2" font-family="Liberation Sans, sans-serif" font-size="3.9" fill="#555">10<tspan font-size="2.8" dy="-1.4">4</tspan></text>
<text x="38.9" y="57.5" font-family="Liberation Sans, sans-serif" font-size="3.9" fill="#555">10<tspan font-size="2.8" dy="-1.4">3</tspan></text>
<text x="38.9" y="83" font-family="Liberation Sans, sans-serif" font-size="3.9" fill="#555">10<tspan font-size="2.8" dy="-1.4">2</tspan></text>
<text x="38.9" y="108.6" font-family="Liberation Sans, sans-serif" font-size="3.9" fill="#555">10<tspan font-size="2.8" dy="-1.4">1</tspan></text>
<text x="74.8" y="142.6" font-family="Liberation Sans, sans-serif" font-size="3.9" fill="#555">10<tspan font-size="2.8" dy="-1.4">1</tspan></text>
<text x="102.6" y="142.6" font-family="Liberation Sans, sans-serif" font-size="3.9" fill="#555">10<tspan font-size="2.8" dy="-1.4">2</tspan></text>
<text x="130.4" y="142.6" font-family="Liberation Sans, sans-serif" font-size="3.9" fill="#555">10<tspan font-size="2.8" dy="-1.4">3</tspan></text>
<text x="152.6" y="142.6" font-family="Liberation Sans, sans-serif" font-size="3.9" fill="#555">10<tspan font-size="2.8" dy="-1.4">4</tspan></text>
<text x="48.3" y="36.3" font-family="Liberation Sans, sans-serif" font-size="3.8" fill="#666">Q1</text>
<text x="75.8" y="36.3" font-family="Liberation Sans, sans-serif" font-size="3.8" fill="#666">Q2</text>
<text x="75.8" y="107.3" font-family="Liberation Sans, sans-serif" font-size="3.8" fill="#666">Q4</text>
<text transform="translate(23.2 96.4) rotate(-90) scale(0.885 1)" font-family="Liberation Sans, sans-serif" font-weight="bold" font-size="11.1">CD8</text>
<text x="115" y="157.7" font-family="Liberation Sans, sans-serif" font-weight="bold" font-size="10">Tetramer</text>
<text x="238.2" y="13.8" font-family="Liberation Sans, sans-serif" font-weight="bold" font-size="9.9">Gated on tetramer+ cells</text>
<text x="354.6" y="157.7" text-anchor="end" font-family="Liberation Sans, sans-serif" font-weight="bold" font-size="9.8">Perforin</text>
<path d="M234.0 138.4 L234.0 122.0 L236.0 121.0 L238.5 110.0 L240.8 100.0 L243.0 89.0 L244.6 80.0 L246.5 66.0 L248.0 55.0 L249.3 45.0 L250.2 40.8 L251.4 43.0 L252.6 42.3 L253.6 47.0 L254.5 57.0 L255.4 68.0 L256.2 80.0 L257.2 95.0 L258.5 106.0 L259.8 118.0 L261.3 128.0 L263.0 134.0 L264.0 138.0 L234.0 138.4Z" fill="#b4b4b4"/>
<path d="M236.0 121.0 L238.5 110.0 L240.8 100.0 L243.0 89.0 L244.6 80.0 L246.5 66.0 L248.0 55.0 L249.3 45.0 L250.2 40.8 L251.4 43.0 L252.6 42.3 L253.6 47.0 L254.5 57.0 L255.4 68.0 L256.2 80.0 L257.2 95.0 L258.5 106.0 L259.8 118.0 L261.3 128.0 L263.0 134.0 L264.0 138.0" fill="none" stroke="#000" stroke-width="1.3" stroke-dasharray="2.6 1.6"/>
<path d="M259.0 106.0 L260.5 103.5 L262.6 100.0 L264.5 90.0 L265.4 80.0 L267.2 73.0 L268.5 66.0 L270.8 60.0 L272.5 52.0 L274.0 45.0 L275.3 40.0 L276.4 44.0 L277.5 50.0 L279.0 52.5 L280.3 46.0 L281.3 48.0 L282.3 56.0 L282.7 62.0 L283.9 80.0 L285.7 100.0 L288.8 110.0 L291.0 118.0 L293.3 125.0 L295.2 130.0 L296.7 133.0 L299.0 136.5 L303.0 137.8 L320.0 138.2" fill="none" stroke="#000" stroke-width="1.3" stroke-dasharray="3.2 1.7"/>
<path d="M262.5 138.0 L263.0 135.0 L264.0 130.0 L266.9 120.0 L268.0 108.0 L268.5 100.0 L269.4 90.0 L270.8 75.0 L272.2 67.0 L273.0 60.0 L274.2 48.0 L275.5 39.0 L276.8 46.0 L277.7 55.0 L278.5 58.6 L279.4 55.0 L280.2 46.0 L280.8 43.7 L281.6 47.0 L282.8 56.0 L283.8 61.5 L284.8 55.0 L285.5 48.0 L286.0 46.9 L286.3 52.0 L286.6 65.0 L286.9 80.0 L288.2 92.0 L289.8 98.0 L290.8 108.0 L291.8 115.0 L294.8 123.0 L297.7 132.0 L300.7 137.0 L305.0 138.2 L330.0 138.3" fill="none" stroke="#000" stroke-width="1.2"/>
<path d="M268 46.8H329" stroke="#222" stroke-width="1.4" fill="none"/>
<path d="M268.1 44V49.7M328.9 44V49.7" stroke="#111" stroke-width="1.8" fill="none"/>
<path d="M234 33.4H354V138.4H234Z" fill="none" stroke="#000" stroke-width="1.4"/>
<path d="M230.5 38.1H234M232 43.1H234M232 48.2H234M232 53.2H234M230.5 58.2H234M232 63.2H234M232 68.2H234M232 73.3H234M230.5 78.4H234M232 83.4H234M232 88.5H234M232 93.5H234M230.5 98.5H234M232 103.5H234M232 108.5H234M232 113.6H234M230.5 118.6H234M232 123.6H234M232 128.7H234M232 133.7H234M230.5 138.4H234" stroke="#000" stroke-width="1.2" fill="none"/>
<path d="M234.0 138.4V141.0M243.0 138.4V139.9M248.3 138.4V139.9M252.1 138.4V139.9M255.0 138.4V139.9M257.3 138.4V139.9M259.4 138.4V139.9M261.1 138.4V139.9M262.6 138.4V139.9M264.0 138.4V141.0M273.0 138.4V139.9M278.3 138.4V139.9M282.1 138.4V139.9M285.0 138.4V139.9M287.3 138.4V139.9M289.4 138.4V139.9M291.1 138.4V139.9M292.6 138.4V139.9M294.0 138.4V141.0M303.0 138.4V139.9M308.3 138.4V139.9M312.1 138.4V139.9M315.0 138.4V139.9M317.3 138.4V139.9M319.4 138.4V139.9M321.1 138.4V139.9M322.6 138.4V139.9M324.0 138.4V141.0M333.0 138.4V139.9M338.3 138.4V139.9M342.1 138.4V139.9M345.0 138.4V139.9M347.3 138.4V139.9M349.4 138.4V139.9M351.1 138.4V139.9M352.6 138.4V139.9M354 138.4V141.0" stroke="#000" stroke-width="0.9" fill="none"/>
<line x1="377" y1="65.5" x2="399.3" y2="65.5" stroke="#000" stroke-width="1.1" stroke-dasharray="3.4 2.9"/>
<line x1="377" y1="81.5" x2="399.3" y2="81.5" stroke="#000" stroke-width="1.3" stroke-dasharray="7 2.8"/>
<line x1="377" y1="94.2" x2="399.3" y2="94.2" stroke="#000" stroke-width="1.3"/>
<text x="407.4" y="67.3" font-family="Liberation Sans, sans-serif" font-size="8.6" fill="#111">Isotype control</text>
<text x="407.4" y="83.1" font-family="Liberation Sans, sans-serif" font-size="8.72" fill="#111">HTLV-1-specific CD8+ T cells</text>
<text x="407.4" y="97.6" font-family="Liberation Sans, sans-serif" font-size="8.6" fill="#111">CMV-specific CD8+ T cells</text>
<text x="0.1" y="183.6" font-family="Liberation Sans, sans-serif" font-weight="bold" font-size="13.7">B</text>
<line x1="63.7" y1="218.6" x2="63.7" y2="411.8" stroke="#444" stroke-width="1.3"/>
<line x1="61" y1="411.8" x2="240.6" y2="411.8" stroke="#666" stroke-width="1.3"/>
<path d="M61.8 411.8H63.7M61.8 373.2H63.7M61.8 334.6H63.7M61.8 296.1H63.7M61.8 257.5H63.7M61.8 218.9H63.7" stroke="#444" stroke-width="1.1"/>
<text x="48.5" y="420.7" text-anchor="middle" font-family="Liberation Sans, sans-serif" font-size="9.2" class="t">0</text>
<text x="48.5" y="378.2" text-anchor="middle" font-family="Liberation Sans, sans-serif" font-size="9.2" class="t">20</text>
<text x="48.5" y="339.6" text-anchor="middle" font-family="Liberation Sans, sans-serif" font-size="9.2" class="t">40</text>
<text x="48.5" y="301.1" text-anchor="middle" font-family="Liberation Sans, sans-serif" font-size="9.2" class="t">60</text>
<text x="48.5" y="262.5" text-anchor="middle" font-family="Liberation Sans, sans-serif" font-size="9.2" class="t">80</text>
<text x="48.5" y="223.9" text-anchor="middle" font-family="Liberation Sans, sans-serif" font-size="9.2" class="t">100</text>
<text transform="translate(22.4 302) rotate(-90)" text-anchor="middle" font-family="Liberation Sans, sans-serif" font-weight="bold" font-size="9.9">% Perforin+ cells</text>
<defs><pattern id="h" x="0.85" patternUnits="userSpaceOnUse" width="5.4" height="5.4" patternTransform="rotate(-45)"><rect width="5.4" height="5.4" fill="#fff"/><rect x="0" y="0" width="1.9" height="5.4" fill="#000"/></pattern><pattern id="h2" x="1.55" patternUnits="userSpaceOnUse" width="5.4" height="5.4" patternTransform="rotate(-45)"><rect width="5.4" height="5.4" fill="#fff"/><rect x="0" y="0" width="1.9" height="5.4" fill="#000"/></pattern><pattern id="h3" x="-0.15" patternUnits="userSpaceOnUse" width="5.4" height="5.4" patternTransform="rotate(-45)"><rect width="5.4" height="5.4" fill="#fff"/><rect x="0" y="0" width="1.9" height="5.4" fill="#000"/></pattern></defs>
<rect x="75.1" y="271.3" width="16.2" height="140.5" fill="#000"/>
<path d="M92 411.8V231H107.6V411.8" fill="#fff" stroke="#000" stroke-width="2"/>
<path d="M108.2 411.8V265.5H122.9V411.8Z" fill="url(#h)" stroke="none"/>
<path d="M108.2 411.8V265.5H122.9V411.8" fill="none" stroke="#000" stroke-width="1.8"/>
<path d="M83.5 258.8V271.3M81.1 259.3H85.9" stroke="#000" stroke-width="1.3" fill="none"/>
<path d="M99.5 227.9V230.7M97.1 228.4H101.9" stroke="#000" stroke-width="1.3" fill="none"/>
<path d="M115.7 253.2V264.7M113.3 253.7H118.10000000000001" stroke="#000" stroke-width="1.3" fill="none"/>
<rect x="160.1" y="293" width="16.2" height="118.80000000000001" fill="#000"/>
<path d="M177 411.8V237.9H193.2V411.8" fill="#fff" stroke="#000" stroke-width="2"/>
<path d="M193.79999999999998 411.8V288.7H208.5V411.8Z" fill="url(#h2)" stroke="none"/>
<path d="M193.79999999999998 411.8V288.7H208.5V411.8" fill="none" stroke="#000" stroke-width="1.8"/>
<path d="M168.5 282.1V293M166.1 282.6H170.9" stroke="#000" stroke-width="1.3" fill="none"/>
<path d="M184.8 233.9V237M182.4 234.4H187.20000000000002" stroke="#000" stroke-width="1.3" fill="none"/>
<path d="M201.3 277.4V288M198.9 277.9H203.70000000000002" stroke="#000" stroke-width="1.3" fill="none"/>
<path d="M71.3 184H121.5M71.3 197.9H92.7M99.2 197.9H121.2" stroke="#444" stroke-width="1.6"/>
<text x="89.6" y="181" font-family="Liberation Sans, sans-serif" font-size="9.6" class="t">NS</text>
<circle cx="79" cy="194.5" r="1.4" fill="#000"/>
<circle cx="83.6" cy="194.5" r="1.4" fill="#000"/>
<circle cx="88.3" cy="194.5" r="1.4" fill="#000"/>
<circle cx="106.2" cy="194.5" r="1.4" fill="#000"/>
<circle cx="111" cy="194.5" r="1.4" fill="#000"/>
<circle cx="115.9" cy="194.5" r="1.4" fill="#000"/>
<path d="M161.2 184H211.4M161.2 197.9H182.60000000000002M189.10000000000002 197.9H211.10000000000002" stroke="#444" stroke-width="1.6"/>
<text x="179.5" y="181" font-family="Liberation Sans, sans-serif" font-size="9.6" class="t">NS</text>
<circle cx="168.9" cy="194.5" r="1.4" fill="#000"/>
<circle cx="173.5" cy="194.5" r="1.4" fill="#000"/>
<circle cx="178.2" cy="194.5" r="1.4" fill="#000"/>
<circle cx="196.10000000000002" cy="194.5" r="1.4" fill="#000"/>
<circle cx="200.9" cy="194.5" r="1.4" fill="#000"/>
<circle cx="205.8" cy="194.5" r="1.4" fill="#000"/>
<text x="97.2" y="429.2" text-anchor="middle" font-family="Liberation Sans, sans-serif" font-size="9.6" class="t">HAM/TSP</text>
<text x="97.2" y="441.3" text-anchor="middle" font-family="Liberation Sans, sans-serif" font-size="9.6" class="t">(n=9)</text>
<text x="190" y="429.2" text-anchor="middle" font-family="Liberation Sans, sans-serif" font-size="9.6" class="t">HVCs</text>
<text x="190" y="441.3" text-anchor="middle" font-family="Liberation Sans, sans-serif" font-size="9.6" class="t">(n=14)</text>
<rect x="257" y="315.4" width="9" height="13.3" fill="#000"/>
<rect x="257.8" y="337.2" width="7.4" height="11.4" fill="#fff" stroke="#000" stroke-width="1.5"/>
<rect x="257.9" y="358.2" width="7.2" height="11.6" fill="url(#h3)" stroke="#000" stroke-width="1.8"/>
<text x="269.8" y="325.7" font-family="Liberation Sans, sans-serif" font-size="9.9" class="t">HTLV-1 <tspan dx="1.6">Tax tetramer+CD8+ cells</tspan></text>
<text x="269.8" y="346" font-family="Liberation Sans, sans-serif" font-size="9.9" class="t">CMV <tspan dx="-0.8">tetramer+CD8+ cells</tspan></text>
<text x="269.8" y="366.6" font-family="Liberation Sans, sans-serif" font-size="9.9" class="t">Total CD8+ cells</text></svg>
</body></html>
